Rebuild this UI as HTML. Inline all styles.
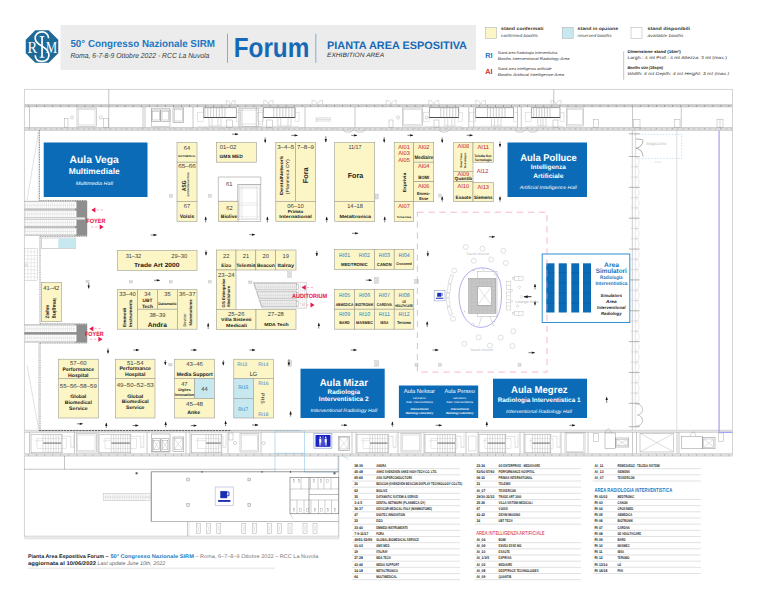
<!DOCTYPE html>
<html><head><meta charset="utf-8"><title>Pianta Area Espositiva Forum</title>
<style>
html,body{margin:0;padding:0;background:#fff;}
body{width:760px;height:600px;overflow:hidden;font-family:"Liberation Sans",sans-serif;}
svg{display:block;}
svg text{font-family:"Liberation Sans",sans-serif;text-rendering:geometricPrecision;}
</style></head><body>
<svg width="760" height="600" viewBox="0 0 760 600">
<rect x="0.00" y="0.00" width="760.00" height="600.00" fill="#fff" stroke="none" stroke-width="0.5" />
<rect x="60.50" y="25.00" width="415.50" height="45.00" fill="#ececec" stroke="none" stroke-width="0.5" />
<polygon points="58.26,53.34 48.74,62.86 35.26,62.86 25.74,53.34 25.74,39.86 35.26,30.34 48.74,30.34 58.26,39.86" fill="#1e6996"/>
<path d="M 48.6 38.2 C 48.6 34.2 45.4 31.9 42 31.9 C 37.6 31.9 34.9 35 35.2 38.6 C 35.6 43.4 40.6 45 44.2 47.6 C 47.6 50 49.4 52.8 48.8 56.2 C 48.2 59.6 45.2 61.4 42 61.4 C 38.2 61.4 35.4 59.2 35.2 55.2" fill="none" stroke="#fff" stroke-width="1.7" />
<rect x="41.20" y="36.50" width="1.70" height="20.80" fill="#fff" stroke="none" stroke-width="0.5" />
<rect x="39.60" y="36.20" width="4.90" height="0.90" fill="#fff" stroke="none" stroke-width="0.5" />
<rect x="39.60" y="56.80" width="4.90" height="0.90" fill="#fff" stroke="none" stroke-width="0.5" />
<text x="32.3" y="53" font-size="17" fill="#fff" text-anchor="middle" style="font-family:'Liberation Serif',serif" textLength="9.6" lengthAdjust="spacingAndGlyphs">R</text>
<text x="51.4" y="53" font-size="17" fill="#fff" text-anchor="middle" style="font-family:'Liberation Serif',serif" textLength="11.4" lengthAdjust="spacingAndGlyphs">M</text>
<text x="70.40" y="47.40" font-size="10.2" fill="#1f77c1" text-anchor="start" font-weight="bold" textLength="144.50" lengthAdjust="spacingAndGlyphs" >50° Congresso Nazionale SIRM</text>
<text x="70.40" y="58.00" font-size="7.3" fill="#3a3a3a" text-anchor="start" font-style="italic" textLength="139.00" lengthAdjust="spacingAndGlyphs" >Roma, 6-7-8-9 Ottobre 2022 - RCC La Nuvola</text>
<line x1="227.50" y1="33.70" x2="227.50" y2="62.80" stroke="#4a94d0" stroke-width="0.7" />
<text x="233.70" y="57.00" font-size="27.6" fill="#1569b6" text-anchor="start" font-weight="bold" textLength="75.60" lengthAdjust="spacingAndGlyphs" >Forum</text>
<line x1="315.80" y1="33.70" x2="315.80" y2="62.80" stroke="#4a94d0" stroke-width="0.7" />
<text x="327.00" y="49.00" font-size="10.8" fill="#1569b6" text-anchor="start" font-weight="bold" textLength="140.00" lengthAdjust="spacingAndGlyphs" >PIANTA AREA ESPOSITIVA</text>
<text x="327.00" y="57.10" font-size="6.3" fill="#333" text-anchor="start" font-style="italic" textLength="57.20" lengthAdjust="spacingAndGlyphs" >EXHIBITION AREA</text>
<rect x="485.50" y="27.40" width="11.10" height="11.00" fill="#fcf5c6" stroke="#aaa" stroke-width="0.5" />
<text x="501.00" y="30.20" font-size="4.5" fill="#333" text-anchor="start" font-weight="bold" textLength="42.40" lengthAdjust="spacingAndGlyphs" >stand confermati</text>
<text x="501.00" y="37.20" font-size="4.3" fill="#444" text-anchor="start" font-style="italic" textLength="37.00" lengthAdjust="spacingAndGlyphs" >confirmed booths</text>
<rect x="562.20" y="27.40" width="11.00" height="11.00" fill="#c7e8ee" stroke="#aaa" stroke-width="0.5" />
<text x="577.60" y="30.20" font-size="4.5" fill="#333" text-anchor="start" font-weight="bold" textLength="40.50" lengthAdjust="spacingAndGlyphs" >stand in opzione</text>
<text x="577.60" y="37.20" font-size="4.3" fill="#444" text-anchor="start" font-style="italic" textLength="34.00" lengthAdjust="spacingAndGlyphs" >reserved booths</text>
<rect x="631.00" y="27.40" width="11.00" height="11.00" fill="#fff" stroke="#aaa" stroke-width="0.5" />
<text x="647.60" y="30.20" font-size="4.5" fill="#333" text-anchor="start" font-weight="bold" textLength="42.40" lengthAdjust="spacingAndGlyphs" >stand  disponibili</text>
<text x="647.60" y="37.20" font-size="4.3" fill="#444" text-anchor="start" font-style="italic" textLength="36.00" lengthAdjust="spacingAndGlyphs" >available booths</text>
<text x="485.30" y="58.30" font-size="7.4" fill="#1b6fbf" text-anchor="start" font-weight="bold" textLength="7.20" lengthAdjust="spacingAndGlyphs" >RI</text>
<text x="497.70" y="54.40" font-size="3.7" fill="#333" text-anchor="start" textLength="59.70" lengthAdjust="spacingAndGlyphs" >Stand area Radiologia Interventistica</text>
<text x="497.70" y="59.90" font-size="3.9" fill="#333" text-anchor="start" font-style="italic" textLength="71.80" lengthAdjust="spacingAndGlyphs" >Booths Interventional Radiology Area</text>
<text x="485.30" y="74.20" font-size="7.4" fill="#cc1f36" text-anchor="start" font-weight="bold" textLength="7.20" lengthAdjust="spacingAndGlyphs" >AI</text>
<text x="497.70" y="69.80" font-size="3.7" fill="#333" text-anchor="start" textLength="54.00" lengthAdjust="spacingAndGlyphs" >Stand area Intelligenza artificiale</text>
<text x="497.70" y="76.10" font-size="3.9" fill="#333" text-anchor="start" font-style="italic" textLength="66.30" lengthAdjust="spacingAndGlyphs" >Booths Artificial Intelligence Area</text>
<line x1="623.70" y1="51.30" x2="623.70" y2="79.70" stroke="#888" stroke-width="0.5" />
<text x="627.40" y="53.30" font-size="4.2" fill="#222" text-anchor="start" font-weight="bold" textLength="53.40" lengthAdjust="spacingAndGlyphs" >Dimensione stand (16m²)</text>
<text x="627.40" y="59.40" font-size="4.2" fill="#333" text-anchor="start" textLength="99.50" lengthAdjust="spacingAndGlyphs" >Largh.: 4 mt  Prof.: 4 mt  Altezza: 3 mt (max.)</text>
<text x="627.40" y="68.60" font-size="4.2" fill="#222" text-anchor="start" font-weight="bold" font-style="italic" textLength="35.70" lengthAdjust="spacingAndGlyphs" >Booths size (16sqm)</text>
<text x="627.40" y="75.20" font-size="4.2" fill="#333" text-anchor="start" font-style="italic" textLength="102.00" lengthAdjust="spacingAndGlyphs" >Width: 4 mt   Depth: 4 mt   Height: 3 mt (max.)</text>
<line x1="24.25" y1="89.45" x2="732.50" y2="89.45" stroke="#c9c9c9" stroke-width="0.8" />
<line x1="24.45" y1="89.25" x2="24.45" y2="537.50" stroke="#c9c9c9" stroke-width="0.8" />
<line x1="732.50" y1="89.25" x2="732.50" y2="455.75" stroke="#c9c9c9" stroke-width="0.8" />
<line x1="108.75" y1="89.25" x2="108.75" y2="105.00" stroke="#8a8a8a" stroke-width="0.5" />
<line x1="553.75" y1="89.25" x2="553.75" y2="105.00" stroke="#8a8a8a" stroke-width="0.5" />
<rect x="24.25" y="104.50" width="708.25" height="2.50" fill="#cfcfcf" stroke="none" stroke-width="0.5" />
<line x1="24.25" y1="104.50" x2="732.50" y2="104.50" stroke="#b0b0b0" stroke-width="0.4" />
<line x1="24.25" y1="107.00" x2="732.50" y2="107.00" stroke="#b0b0b0" stroke-width="0.4" />
<rect x="28.10" y="105.00" width="0.90" height="1.70" fill="#8f8f8f" stroke="none" stroke-width="0.5" />
<rect x="36.15" y="105.00" width="0.90" height="1.70" fill="#8f8f8f" stroke="none" stroke-width="0.5" />
<rect x="44.20" y="105.00" width="0.90" height="1.70" fill="#8f8f8f" stroke="none" stroke-width="0.5" />
<rect x="52.25" y="105.00" width="0.90" height="1.70" fill="#8f8f8f" stroke="none" stroke-width="0.5" />
<rect x="60.30" y="105.00" width="0.90" height="1.70" fill="#8f8f8f" stroke="none" stroke-width="0.5" />
<rect x="68.35" y="105.00" width="0.90" height="1.70" fill="#8f8f8f" stroke="none" stroke-width="0.5" />
<rect x="76.40" y="105.00" width="0.90" height="1.70" fill="#8f8f8f" stroke="none" stroke-width="0.5" />
<rect x="84.45" y="105.00" width="0.90" height="1.70" fill="#8f8f8f" stroke="none" stroke-width="0.5" />
<rect x="92.50" y="105.00" width="0.90" height="1.70" fill="#8f8f8f" stroke="none" stroke-width="0.5" />
<rect x="100.55" y="105.00" width="0.90" height="1.70" fill="#8f8f8f" stroke="none" stroke-width="0.5" />
<rect x="108.60" y="105.00" width="0.90" height="1.70" fill="#8f8f8f" stroke="none" stroke-width="0.5" />
<rect x="116.65" y="105.00" width="0.90" height="1.70" fill="#8f8f8f" stroke="none" stroke-width="0.5" />
<rect x="124.70" y="105.00" width="0.90" height="1.70" fill="#8f8f8f" stroke="none" stroke-width="0.5" />
<rect x="132.75" y="105.00" width="0.90" height="1.70" fill="#8f8f8f" stroke="none" stroke-width="0.5" />
<rect x="140.80" y="105.00" width="0.90" height="1.70" fill="#8f8f8f" stroke="none" stroke-width="0.5" />
<rect x="148.85" y="105.00" width="0.90" height="1.70" fill="#8f8f8f" stroke="none" stroke-width="0.5" />
<rect x="156.90" y="105.00" width="0.90" height="1.70" fill="#8f8f8f" stroke="none" stroke-width="0.5" />
<rect x="164.95" y="105.00" width="0.90" height="1.70" fill="#8f8f8f" stroke="none" stroke-width="0.5" />
<rect x="173.00" y="105.00" width="0.90" height="1.70" fill="#8f8f8f" stroke="none" stroke-width="0.5" />
<rect x="181.05" y="105.00" width="0.90" height="1.70" fill="#8f8f8f" stroke="none" stroke-width="0.5" />
<rect x="189.10" y="105.00" width="0.90" height="1.70" fill="#8f8f8f" stroke="none" stroke-width="0.5" />
<rect x="197.15" y="105.00" width="0.90" height="1.70" fill="#8f8f8f" stroke="none" stroke-width="0.5" />
<rect x="205.20" y="105.00" width="0.90" height="1.70" fill="#8f8f8f" stroke="none" stroke-width="0.5" />
<rect x="213.25" y="105.00" width="0.90" height="1.70" fill="#8f8f8f" stroke="none" stroke-width="0.5" />
<rect x="221.30" y="105.00" width="0.90" height="1.70" fill="#8f8f8f" stroke="none" stroke-width="0.5" />
<rect x="229.35" y="105.00" width="0.90" height="1.70" fill="#8f8f8f" stroke="none" stroke-width="0.5" />
<rect x="237.40" y="105.00" width="0.90" height="1.70" fill="#8f8f8f" stroke="none" stroke-width="0.5" />
<rect x="245.45" y="105.00" width="0.90" height="1.70" fill="#8f8f8f" stroke="none" stroke-width="0.5" />
<rect x="253.50" y="105.00" width="0.90" height="1.70" fill="#8f8f8f" stroke="none" stroke-width="0.5" />
<rect x="261.55" y="105.00" width="0.90" height="1.70" fill="#8f8f8f" stroke="none" stroke-width="0.5" />
<rect x="269.60" y="105.00" width="0.90" height="1.70" fill="#8f8f8f" stroke="none" stroke-width="0.5" />
<rect x="277.65" y="105.00" width="0.90" height="1.70" fill="#8f8f8f" stroke="none" stroke-width="0.5" />
<rect x="285.70" y="105.00" width="0.90" height="1.70" fill="#8f8f8f" stroke="none" stroke-width="0.5" />
<rect x="293.75" y="105.00" width="0.90" height="1.70" fill="#8f8f8f" stroke="none" stroke-width="0.5" />
<rect x="301.80" y="105.00" width="0.90" height="1.70" fill="#8f8f8f" stroke="none" stroke-width="0.5" />
<rect x="309.85" y="105.00" width="0.90" height="1.70" fill="#8f8f8f" stroke="none" stroke-width="0.5" />
<rect x="317.90" y="105.00" width="0.90" height="1.70" fill="#8f8f8f" stroke="none" stroke-width="0.5" />
<rect x="325.95" y="105.00" width="0.90" height="1.70" fill="#8f8f8f" stroke="none" stroke-width="0.5" />
<rect x="334.00" y="105.00" width="0.90" height="1.70" fill="#8f8f8f" stroke="none" stroke-width="0.5" />
<rect x="342.05" y="105.00" width="0.90" height="1.70" fill="#8f8f8f" stroke="none" stroke-width="0.5" />
<rect x="350.10" y="105.00" width="0.90" height="1.70" fill="#8f8f8f" stroke="none" stroke-width="0.5" />
<rect x="358.15" y="105.00" width="0.90" height="1.70" fill="#8f8f8f" stroke="none" stroke-width="0.5" />
<rect x="366.20" y="105.00" width="0.90" height="1.70" fill="#8f8f8f" stroke="none" stroke-width="0.5" />
<rect x="374.25" y="105.00" width="0.90" height="1.70" fill="#8f8f8f" stroke="none" stroke-width="0.5" />
<rect x="382.30" y="105.00" width="0.90" height="1.70" fill="#8f8f8f" stroke="none" stroke-width="0.5" />
<rect x="390.35" y="105.00" width="0.90" height="1.70" fill="#8f8f8f" stroke="none" stroke-width="0.5" />
<rect x="398.40" y="105.00" width="0.90" height="1.70" fill="#8f8f8f" stroke="none" stroke-width="0.5" />
<rect x="406.45" y="105.00" width="0.90" height="1.70" fill="#8f8f8f" stroke="none" stroke-width="0.5" />
<rect x="414.50" y="105.00" width="0.90" height="1.70" fill="#8f8f8f" stroke="none" stroke-width="0.5" />
<rect x="422.55" y="105.00" width="0.90" height="1.70" fill="#8f8f8f" stroke="none" stroke-width="0.5" />
<rect x="430.60" y="105.00" width="0.90" height="1.70" fill="#8f8f8f" stroke="none" stroke-width="0.5" />
<rect x="438.65" y="105.00" width="0.90" height="1.70" fill="#8f8f8f" stroke="none" stroke-width="0.5" />
<rect x="446.70" y="105.00" width="0.90" height="1.70" fill="#8f8f8f" stroke="none" stroke-width="0.5" />
<rect x="454.75" y="105.00" width="0.90" height="1.70" fill="#8f8f8f" stroke="none" stroke-width="0.5" />
<rect x="462.80" y="105.00" width="0.90" height="1.70" fill="#8f8f8f" stroke="none" stroke-width="0.5" />
<rect x="470.85" y="105.00" width="0.90" height="1.70" fill="#8f8f8f" stroke="none" stroke-width="0.5" />
<rect x="478.90" y="105.00" width="0.90" height="1.70" fill="#8f8f8f" stroke="none" stroke-width="0.5" />
<rect x="486.95" y="105.00" width="0.90" height="1.70" fill="#8f8f8f" stroke="none" stroke-width="0.5" />
<rect x="495.00" y="105.00" width="0.90" height="1.70" fill="#8f8f8f" stroke="none" stroke-width="0.5" />
<rect x="503.05" y="105.00" width="0.90" height="1.70" fill="#8f8f8f" stroke="none" stroke-width="0.5" />
<rect x="511.10" y="105.00" width="0.90" height="1.70" fill="#8f8f8f" stroke="none" stroke-width="0.5" />
<rect x="519.15" y="105.00" width="0.90" height="1.70" fill="#8f8f8f" stroke="none" stroke-width="0.5" />
<rect x="527.20" y="105.00" width="0.90" height="1.70" fill="#8f8f8f" stroke="none" stroke-width="0.5" />
<rect x="535.25" y="105.00" width="0.90" height="1.70" fill="#8f8f8f" stroke="none" stroke-width="0.5" />
<rect x="543.30" y="105.00" width="0.90" height="1.70" fill="#8f8f8f" stroke="none" stroke-width="0.5" />
<rect x="551.35" y="105.00" width="0.90" height="1.70" fill="#8f8f8f" stroke="none" stroke-width="0.5" />
<rect x="559.40" y="105.00" width="0.90" height="1.70" fill="#8f8f8f" stroke="none" stroke-width="0.5" />
<rect x="567.45" y="105.00" width="0.90" height="1.70" fill="#8f8f8f" stroke="none" stroke-width="0.5" />
<rect x="575.50" y="105.00" width="0.90" height="1.70" fill="#8f8f8f" stroke="none" stroke-width="0.5" />
<rect x="583.55" y="105.00" width="0.90" height="1.70" fill="#8f8f8f" stroke="none" stroke-width="0.5" />
<rect x="591.60" y="105.00" width="0.90" height="1.70" fill="#8f8f8f" stroke="none" stroke-width="0.5" />
<rect x="599.65" y="105.00" width="0.90" height="1.70" fill="#8f8f8f" stroke="none" stroke-width="0.5" />
<rect x="607.70" y="105.00" width="0.90" height="1.70" fill="#8f8f8f" stroke="none" stroke-width="0.5" />
<rect x="615.75" y="105.00" width="0.90" height="1.70" fill="#8f8f8f" stroke="none" stroke-width="0.5" />
<rect x="623.80" y="105.00" width="0.90" height="1.70" fill="#8f8f8f" stroke="none" stroke-width="0.5" />
<rect x="631.85" y="105.00" width="0.90" height="1.70" fill="#8f8f8f" stroke="none" stroke-width="0.5" />
<rect x="639.90" y="105.00" width="0.90" height="1.70" fill="#8f8f8f" stroke="none" stroke-width="0.5" />
<rect x="647.95" y="105.00" width="0.90" height="1.70" fill="#8f8f8f" stroke="none" stroke-width="0.5" />
<rect x="656.00" y="105.00" width="0.90" height="1.70" fill="#8f8f8f" stroke="none" stroke-width="0.5" />
<rect x="664.05" y="105.00" width="0.90" height="1.70" fill="#8f8f8f" stroke="none" stroke-width="0.5" />
<rect x="672.10" y="105.00" width="0.90" height="1.70" fill="#8f8f8f" stroke="none" stroke-width="0.5" />
<rect x="680.15" y="105.00" width="0.90" height="1.70" fill="#8f8f8f" stroke="none" stroke-width="0.5" />
<rect x="688.20" y="105.00" width="0.90" height="1.70" fill="#8f8f8f" stroke="none" stroke-width="0.5" />
<rect x="696.25" y="105.00" width="0.90" height="1.70" fill="#8f8f8f" stroke="none" stroke-width="0.5" />
<rect x="704.30" y="105.00" width="0.90" height="1.70" fill="#8f8f8f" stroke="none" stroke-width="0.5" />
<rect x="712.35" y="105.00" width="0.90" height="1.70" fill="#8f8f8f" stroke="none" stroke-width="0.5" />
<rect x="720.40" y="105.00" width="0.90" height="1.70" fill="#8f8f8f" stroke="none" stroke-width="0.5" />
<rect x="728.45" y="105.00" width="0.90" height="1.70" fill="#8f8f8f" stroke="none" stroke-width="0.5" />
<rect x="24.25" y="127.50" width="708.25" height="2.90" fill="#cbcbcb" stroke="none" stroke-width="0.5" />
<line x1="24.25" y1="127.50" x2="732.50" y2="127.50" stroke="#b0b0b0" stroke-width="0.4" />
<line x1="24.25" y1="130.40" x2="732.50" y2="130.40" stroke="#b0b0b0" stroke-width="0.4" />
<line x1="25.25" y1="129.05" x2="731.50" y2="129.05" stroke="#fff" stroke-width="0.7" stroke-dasharray="3.6 1.8"/>
<rect x="28.15" y="127.80" width="0.80" height="0.70" fill="#8e8e8e" stroke="none" stroke-width="0.5" />
<rect x="44.25" y="127.80" width="0.80" height="0.70" fill="#8e8e8e" stroke="none" stroke-width="0.5" />
<rect x="60.35" y="127.80" width="0.80" height="0.70" fill="#8e8e8e" stroke="none" stroke-width="0.5" />
<rect x="76.45" y="127.80" width="0.80" height="0.70" fill="#8e8e8e" stroke="none" stroke-width="0.5" />
<rect x="92.55" y="127.80" width="0.80" height="0.70" fill="#8e8e8e" stroke="none" stroke-width="0.5" />
<rect x="108.65" y="127.80" width="0.80" height="0.70" fill="#8e8e8e" stroke="none" stroke-width="0.5" />
<rect x="124.75" y="127.80" width="0.80" height="0.70" fill="#8e8e8e" stroke="none" stroke-width="0.5" />
<rect x="140.85" y="127.80" width="0.80" height="0.70" fill="#8e8e8e" stroke="none" stroke-width="0.5" />
<rect x="156.95" y="127.80" width="0.80" height="0.70" fill="#8e8e8e" stroke="none" stroke-width="0.5" />
<rect x="173.05" y="127.80" width="0.80" height="0.70" fill="#8e8e8e" stroke="none" stroke-width="0.5" />
<rect x="189.15" y="127.80" width="0.80" height="0.70" fill="#8e8e8e" stroke="none" stroke-width="0.5" />
<rect x="205.25" y="127.80" width="0.80" height="0.70" fill="#8e8e8e" stroke="none" stroke-width="0.5" />
<rect x="221.35" y="127.80" width="0.80" height="0.70" fill="#8e8e8e" stroke="none" stroke-width="0.5" />
<rect x="237.45" y="127.80" width="0.80" height="0.70" fill="#8e8e8e" stroke="none" stroke-width="0.5" />
<rect x="253.55" y="127.80" width="0.80" height="0.70" fill="#8e8e8e" stroke="none" stroke-width="0.5" />
<rect x="269.65" y="127.80" width="0.80" height="0.70" fill="#8e8e8e" stroke="none" stroke-width="0.5" />
<rect x="285.75" y="127.80" width="0.80" height="0.70" fill="#8e8e8e" stroke="none" stroke-width="0.5" />
<rect x="301.85" y="127.80" width="0.80" height="0.70" fill="#8e8e8e" stroke="none" stroke-width="0.5" />
<rect x="317.95" y="127.80" width="0.80" height="0.70" fill="#8e8e8e" stroke="none" stroke-width="0.5" />
<rect x="334.05" y="127.80" width="0.80" height="0.70" fill="#8e8e8e" stroke="none" stroke-width="0.5" />
<rect x="350.15" y="127.80" width="0.80" height="0.70" fill="#8e8e8e" stroke="none" stroke-width="0.5" />
<rect x="366.25" y="127.80" width="0.80" height="0.70" fill="#8e8e8e" stroke="none" stroke-width="0.5" />
<rect x="382.35" y="127.80" width="0.80" height="0.70" fill="#8e8e8e" stroke="none" stroke-width="0.5" />
<rect x="398.45" y="127.80" width="0.80" height="0.70" fill="#8e8e8e" stroke="none" stroke-width="0.5" />
<rect x="414.55" y="127.80" width="0.80" height="0.70" fill="#8e8e8e" stroke="none" stroke-width="0.5" />
<rect x="430.65" y="127.80" width="0.80" height="0.70" fill="#8e8e8e" stroke="none" stroke-width="0.5" />
<rect x="446.75" y="127.80" width="0.80" height="0.70" fill="#8e8e8e" stroke="none" stroke-width="0.5" />
<rect x="462.85" y="127.80" width="0.80" height="0.70" fill="#8e8e8e" stroke="none" stroke-width="0.5" />
<rect x="478.95" y="127.80" width="0.80" height="0.70" fill="#8e8e8e" stroke="none" stroke-width="0.5" />
<rect x="495.05" y="127.80" width="0.80" height="0.70" fill="#8e8e8e" stroke="none" stroke-width="0.5" />
<rect x="511.15" y="127.80" width="0.80" height="0.70" fill="#8e8e8e" stroke="none" stroke-width="0.5" />
<rect x="527.25" y="127.80" width="0.80" height="0.70" fill="#8e8e8e" stroke="none" stroke-width="0.5" />
<rect x="543.35" y="127.80" width="0.80" height="0.70" fill="#8e8e8e" stroke="none" stroke-width="0.5" />
<rect x="559.45" y="127.80" width="0.80" height="0.70" fill="#8e8e8e" stroke="none" stroke-width="0.5" />
<rect x="575.55" y="127.80" width="0.80" height="0.70" fill="#8e8e8e" stroke="none" stroke-width="0.5" />
<rect x="591.65" y="127.80" width="0.80" height="0.70" fill="#8e8e8e" stroke="none" stroke-width="0.5" />
<rect x="607.75" y="127.80" width="0.80" height="0.70" fill="#8e8e8e" stroke="none" stroke-width="0.5" />
<rect x="623.85" y="127.80" width="0.80" height="0.70" fill="#8e8e8e" stroke="none" stroke-width="0.5" />
<rect x="639.95" y="127.80" width="0.80" height="0.70" fill="#8e8e8e" stroke="none" stroke-width="0.5" />
<rect x="656.05" y="127.80" width="0.80" height="0.70" fill="#8e8e8e" stroke="none" stroke-width="0.5" />
<rect x="672.15" y="127.80" width="0.80" height="0.70" fill="#8e8e8e" stroke="none" stroke-width="0.5" />
<rect x="688.25" y="127.80" width="0.80" height="0.70" fill="#8e8e8e" stroke="none" stroke-width="0.5" />
<rect x="704.35" y="127.80" width="0.80" height="0.70" fill="#8e8e8e" stroke="none" stroke-width="0.5" />
<rect x="720.45" y="127.80" width="0.80" height="0.70" fill="#8e8e8e" stroke="none" stroke-width="0.5" />
<line x1="29.50" y1="107.00" x2="29.50" y2="127.50" stroke="#888" stroke-width="0.45" />
<line x1="108.75" y1="107.00" x2="108.75" y2="127.50" stroke="#888" stroke-width="0.45" />
<line x1="143.00" y1="107.00" x2="143.00" y2="127.50" stroke="#888" stroke-width="0.45" />
<line x1="145.00" y1="107.00" x2="145.00" y2="127.50" stroke="#888" stroke-width="0.45" />
<line x1="193.00" y1="107.00" x2="193.00" y2="127.50" stroke="#888" stroke-width="0.45" />
<line x1="240.00" y1="107.00" x2="240.00" y2="127.50" stroke="#888" stroke-width="0.45" />
<line x1="256.25" y1="107.00" x2="256.25" y2="127.50" stroke="#888" stroke-width="0.45" />
<line x1="305.00" y1="107.00" x2="305.00" y2="127.50" stroke="#888" stroke-width="0.45" />
<line x1="355.00" y1="107.00" x2="355.00" y2="127.50" stroke="#888" stroke-width="0.45" />
<line x1="468.75" y1="107.00" x2="468.75" y2="127.50" stroke="#888" stroke-width="0.45" />
<line x1="473.75" y1="107.00" x2="473.75" y2="127.50" stroke="#888" stroke-width="0.45" />
<line x1="517.50" y1="107.00" x2="517.50" y2="127.50" stroke="#888" stroke-width="0.45" />
<line x1="521.25" y1="107.00" x2="521.25" y2="127.50" stroke="#888" stroke-width="0.45" />
<line x1="632.50" y1="107.00" x2="632.50" y2="127.50" stroke="#888" stroke-width="0.45" />
<line x1="681.25" y1="107.00" x2="681.25" y2="127.50" stroke="#888" stroke-width="0.45" />
<rect x="77.00" y="108.00" width="19.25" height="18.25" fill="none" stroke="#999" stroke-width="0.45" />
<rect x="78.20" y="109.20" width="16.80" height="15.80" fill="none" stroke="#b5b5b5" stroke-width="0.4" />
<circle cx="72.00" cy="117.50" r="1.5" fill="none" stroke="#999" stroke-width="0.4"/>
<circle cx="100.75" cy="117.50" r="1.5" fill="none" stroke="#999" stroke-width="0.4"/>
<rect x="64.50" y="118.75" width="3.50" height="8.75" fill="none" stroke="#999" stroke-width="0.4" />
<rect x="103.75" y="118.75" width="5.00" height="8.75" fill="none" stroke="#999" stroke-width="0.4" />
<rect x="151.25" y="110.00" width="9.15" height="11.50" fill="none" stroke="#888" stroke-width="0.5" />
<rect x="152.45" y="111.50" width="6.75" height="8.50" fill="none" stroke="#999" stroke-width="0.4" />
<rect x="160.80" y="110.00" width="9.20" height="11.50" fill="none" stroke="#888" stroke-width="0.5" />
<rect x="162.00" y="111.50" width="6.80" height="8.50" fill="none" stroke="#999" stroke-width="0.4" />
<rect x="151.25" y="108.75" width="18.75" height="17.50" fill="none" stroke="#999" stroke-width="0.45" />
<rect x="173.00" y="108.00" width="10.75" height="14.50" fill="none" stroke="#888" stroke-width="0.5" />
<rect x="174.20" y="109.50" width="8.35" height="11.50" fill="none" stroke="#999" stroke-width="0.4" />
<line x1="205.00" y1="107.80" x2="205.00" y2="117.50" stroke="#8c8c8c" stroke-width="0.45" />
<line x1="207.86" y1="107.80" x2="207.86" y2="117.50" stroke="#8c8c8c" stroke-width="0.45" />
<line x1="210.71" y1="107.80" x2="210.71" y2="117.50" stroke="#8c8c8c" stroke-width="0.45" />
<line x1="213.57" y1="107.80" x2="213.57" y2="117.50" stroke="#8c8c8c" stroke-width="0.45" />
<line x1="216.43" y1="107.80" x2="216.43" y2="117.50" stroke="#8c8c8c" stroke-width="0.45" />
<line x1="219.29" y1="107.80" x2="219.29" y2="117.50" stroke="#8c8c8c" stroke-width="0.45" />
<line x1="222.14" y1="107.80" x2="222.14" y2="117.50" stroke="#8c8c8c" stroke-width="0.45" />
<line x1="225.00" y1="107.80" x2="225.00" y2="117.50" stroke="#8c8c8c" stroke-width="0.45" />
<rect x="203.75" y="107.80" width="32.50" height="9.70" fill="none" stroke="#6a6a6a" stroke-width="0.55" />
<line x1="203.45" y1="117.50" x2="236.55" y2="117.50" stroke="#3f3f3f" stroke-width="0.9" />
<line x1="209.00" y1="117.50" x2="209.00" y2="126.00" stroke="#a0a0a0" stroke-width="0.4" />
<line x1="212.00" y1="117.50" x2="212.00" y2="126.00" stroke="#a0a0a0" stroke-width="0.4" />
<line x1="218.00" y1="117.50" x2="218.00" y2="126.00" stroke="#a0a0a0" stroke-width="0.4" />
<line x1="221.00" y1="117.50" x2="221.00" y2="126.00" stroke="#a0a0a0" stroke-width="0.4" />
<line x1="209.00" y1="126.00" x2="221.00" y2="126.00" stroke="#b0b0b0" stroke-width="0.4" />
<rect x="197.75" y="112.40" width="6.00" height="8.80" fill="none" stroke="#c2c2c2" stroke-width="0.4" />
<rect x="236.25" y="112.40" width="4.00" height="8.80" fill="none" stroke="#c2c2c2" stroke-width="0.4" />
<line x1="197.75" y1="126.40" x2="240.25" y2="126.40" stroke="#c2c2c2" stroke-width="0.4" />
<line x1="273.75" y1="107.80" x2="273.75" y2="117.50" stroke="#8c8c8c" stroke-width="0.45" />
<line x1="276.79" y1="107.80" x2="276.79" y2="117.50" stroke="#8c8c8c" stroke-width="0.45" />
<line x1="279.82" y1="107.80" x2="279.82" y2="117.50" stroke="#8c8c8c" stroke-width="0.45" />
<line x1="282.86" y1="107.80" x2="282.86" y2="117.50" stroke="#8c8c8c" stroke-width="0.45" />
<line x1="285.89" y1="107.80" x2="285.89" y2="117.50" stroke="#8c8c8c" stroke-width="0.45" />
<line x1="288.93" y1="107.80" x2="288.93" y2="117.50" stroke="#8c8c8c" stroke-width="0.45" />
<line x1="291.96" y1="107.80" x2="291.96" y2="117.50" stroke="#8c8c8c" stroke-width="0.45" />
<line x1="295.00" y1="107.80" x2="295.00" y2="117.50" stroke="#8c8c8c" stroke-width="0.45" />
<rect x="263.25" y="107.80" width="31.75" height="9.70" fill="none" stroke="#6a6a6a" stroke-width="0.55" />
<line x1="262.95" y1="117.50" x2="295.30" y2="117.50" stroke="#3f3f3f" stroke-width="0.9" />
<line x1="277.75" y1="117.50" x2="277.75" y2="126.00" stroke="#a0a0a0" stroke-width="0.4" />
<line x1="280.75" y1="117.50" x2="280.75" y2="126.00" stroke="#a0a0a0" stroke-width="0.4" />
<line x1="288.00" y1="117.50" x2="288.00" y2="126.00" stroke="#a0a0a0" stroke-width="0.4" />
<line x1="291.00" y1="117.50" x2="291.00" y2="126.00" stroke="#a0a0a0" stroke-width="0.4" />
<line x1="277.75" y1="126.00" x2="291.00" y2="126.00" stroke="#b0b0b0" stroke-width="0.4" />
<rect x="257.25" y="112.40" width="6.00" height="8.80" fill="none" stroke="#c2c2c2" stroke-width="0.4" />
<rect x="295.00" y="112.40" width="4.00" height="8.80" fill="none" stroke="#c2c2c2" stroke-width="0.4" />
<line x1="257.25" y1="126.40" x2="299.00" y2="126.40" stroke="#c2c2c2" stroke-width="0.4" />
<rect x="226.25" y="120.00" width="6.25" height="7.50" fill="none" stroke="#999" stroke-width="0.4" />
<rect x="266.25" y="120.00" width="6.25" height="7.50" fill="none" stroke="#999" stroke-width="0.4" />
<rect x="238.40" y="108.10" width="23.90" height="18.10" fill="none" stroke="#b0b0b0" stroke-width="0.4" />
<rect x="242.00" y="108.10" width="16.70" height="18.10" fill="none" stroke="#a0a0a0" stroke-width="0.45" />
<line x1="238.40" y1="110.30" x2="262.30" y2="110.30" stroke="#b8b8b8" stroke-width="0.4" />
<line x1="238.40" y1="124.00" x2="262.30" y2="124.00" stroke="#b8b8b8" stroke-width="0.4" />
<path d="M 226.25 104.50 V 100.30 Q 230.12 100.50 230.22 104.50 M 235.00 104.50 V 100.30 Q 231.12 100.50 231.03 104.50" fill="none" stroke="#aaa" stroke-width="0.4" />
<path d="M 263.75 104.50 V 100.30 Q 267.88 100.50 267.98 104.50 M 273.00 104.50 V 100.30 Q 268.88 100.50 268.77 104.50" fill="none" stroke="#aaa" stroke-width="0.4" />
<path d="M 312.00 104.50 V 100.30 Q 316.75 100.50 316.85 104.50 M 322.50 104.50 V 100.30 Q 317.75 100.50 317.65 104.50" fill="none" stroke="#aaa" stroke-width="0.4" />
<path d="M 386.25 104.50 V 100.30 Q 390.75 100.50 390.85 104.50 M 396.25 104.50 V 100.30 Q 391.75 100.50 391.65 104.50" fill="none" stroke="#aaa" stroke-width="0.4" />
<path d="M 428.75 104.50 V 100.30 Q 433.25 100.50 433.35 104.50 M 438.75 104.50 V 100.30 Q 434.25 100.50 434.15 104.50" fill="none" stroke="#aaa" stroke-width="0.4" />
<path d="M 475.75 104.50 V 100.30 Q 480.12 100.50 480.23 104.50 M 485.50 104.50 V 100.30 Q 481.12 100.50 481.02 104.50" fill="none" stroke="#aaa" stroke-width="0.4" />
<path d="M 551.00 104.50 V 100.30 Q 555.50 100.50 555.60 104.50 M 561.00 104.50 V 100.30 Q 556.50 100.50 556.40 104.50" fill="none" stroke="#aaa" stroke-width="0.4" />
<line x1="316.25" y1="117.80" x2="331.25" y2="117.80" stroke="#aaa" stroke-width="0.4" />
<line x1="316.25" y1="119.40" x2="331.25" y2="119.40" stroke="#aaa" stroke-width="0.4" />
<line x1="316.25" y1="121.00" x2="331.25" y2="121.00" stroke="#aaa" stroke-width="0.4" />
<line x1="316.25" y1="117.80" x2="316.25" y2="122.00" stroke="#aaa" stroke-width="0.4" />
<rect x="402.50" y="108.00" width="20.00" height="18.00" fill="none" stroke="#999" stroke-width="0.45" />
<rect x="403.70" y="109.20" width="17.60" height="15.60" fill="none" stroke="#b5b5b5" stroke-width="0.4" />
<circle cx="398.00" cy="117.50" r="1.5" fill="none" stroke="#999" stroke-width="0.4"/>
<circle cx="426.75" cy="117.50" r="1.5" fill="none" stroke="#999" stroke-width="0.4"/>
<rect x="389.00" y="120.00" width="4.00" height="7.50" fill="none" stroke="#999" stroke-width="0.4" />
<line x1="440.75" y1="107.80" x2="440.75" y2="117.50" stroke="#8c8c8c" stroke-width="0.45" />
<line x1="443.75" y1="107.80" x2="443.75" y2="117.50" stroke="#8c8c8c" stroke-width="0.45" />
<line x1="446.75" y1="107.80" x2="446.75" y2="117.50" stroke="#8c8c8c" stroke-width="0.45" />
<line x1="449.75" y1="107.80" x2="449.75" y2="117.50" stroke="#8c8c8c" stroke-width="0.45" />
<line x1="452.75" y1="107.80" x2="452.75" y2="117.50" stroke="#8c8c8c" stroke-width="0.45" />
<line x1="455.75" y1="107.80" x2="455.75" y2="117.50" stroke="#8c8c8c" stroke-width="0.45" />
<line x1="458.75" y1="107.80" x2="458.75" y2="117.50" stroke="#8c8c8c" stroke-width="0.45" />
<rect x="429.25" y="107.80" width="29.50" height="9.70" fill="none" stroke="#6a6a6a" stroke-width="0.55" />
<line x1="428.95" y1="117.50" x2="459.05" y2="117.50" stroke="#3f3f3f" stroke-width="0.9" />
<line x1="444.75" y1="117.50" x2="444.75" y2="126.00" stroke="#a0a0a0" stroke-width="0.4" />
<line x1="447.75" y1="117.50" x2="447.75" y2="126.00" stroke="#a0a0a0" stroke-width="0.4" />
<line x1="451.75" y1="117.50" x2="451.75" y2="126.00" stroke="#a0a0a0" stroke-width="0.4" />
<line x1="454.75" y1="117.50" x2="454.75" y2="126.00" stroke="#a0a0a0" stroke-width="0.4" />
<line x1="444.75" y1="126.00" x2="454.75" y2="126.00" stroke="#b0b0b0" stroke-width="0.4" />
<rect x="423.25" y="112.40" width="6.00" height="8.80" fill="none" stroke="#c2c2c2" stroke-width="0.4" />
<rect x="458.75" y="112.40" width="4.00" height="8.80" fill="none" stroke="#c2c2c2" stroke-width="0.4" />
<line x1="423.25" y1="126.40" x2="462.75" y2="126.40" stroke="#c2c2c2" stroke-width="0.4" />
<line x1="487.50" y1="107.80" x2="487.50" y2="117.50" stroke="#8c8c8c" stroke-width="0.45" />
<line x1="490.42" y1="107.80" x2="490.42" y2="117.50" stroke="#8c8c8c" stroke-width="0.45" />
<line x1="493.33" y1="107.80" x2="493.33" y2="117.50" stroke="#8c8c8c" stroke-width="0.45" />
<line x1="496.25" y1="107.80" x2="496.25" y2="117.50" stroke="#8c8c8c" stroke-width="0.45" />
<line x1="499.17" y1="107.80" x2="499.17" y2="117.50" stroke="#8c8c8c" stroke-width="0.45" />
<line x1="502.08" y1="107.80" x2="502.08" y2="117.50" stroke="#8c8c8c" stroke-width="0.45" />
<line x1="505.00" y1="107.80" x2="505.00" y2="117.50" stroke="#8c8c8c" stroke-width="0.45" />
<rect x="475.75" y="107.80" width="38.00" height="9.70" fill="none" stroke="#6a6a6a" stroke-width="0.55" />
<line x1="475.45" y1="117.50" x2="514.05" y2="117.50" stroke="#3f3f3f" stroke-width="0.9" />
<line x1="491.50" y1="117.50" x2="491.50" y2="126.00" stroke="#a0a0a0" stroke-width="0.4" />
<line x1="494.50" y1="117.50" x2="494.50" y2="126.00" stroke="#a0a0a0" stroke-width="0.4" />
<line x1="498.00" y1="117.50" x2="498.00" y2="126.00" stroke="#a0a0a0" stroke-width="0.4" />
<line x1="501.00" y1="117.50" x2="501.00" y2="126.00" stroke="#a0a0a0" stroke-width="0.4" />
<line x1="491.50" y1="126.00" x2="501.00" y2="126.00" stroke="#b0b0b0" stroke-width="0.4" />
<rect x="469.75" y="112.40" width="6.00" height="8.80" fill="none" stroke="#c2c2c2" stroke-width="0.4" />
<rect x="513.75" y="112.40" width="4.00" height="8.80" fill="none" stroke="#c2c2c2" stroke-width="0.4" />
<line x1="469.75" y1="126.40" x2="517.75" y2="126.40" stroke="#c2c2c2" stroke-width="0.4" />
<line x1="533.75" y1="107.80" x2="533.75" y2="117.50" stroke="#8c8c8c" stroke-width="0.45" />
<line x1="536.46" y1="107.80" x2="536.46" y2="117.50" stroke="#8c8c8c" stroke-width="0.45" />
<line x1="539.17" y1="107.80" x2="539.17" y2="117.50" stroke="#8c8c8c" stroke-width="0.45" />
<line x1="541.88" y1="107.80" x2="541.88" y2="117.50" stroke="#8c8c8c" stroke-width="0.45" />
<line x1="544.58" y1="107.80" x2="544.58" y2="117.50" stroke="#8c8c8c" stroke-width="0.45" />
<line x1="547.29" y1="107.80" x2="547.29" y2="117.50" stroke="#8c8c8c" stroke-width="0.45" />
<line x1="550.00" y1="107.80" x2="550.00" y2="117.50" stroke="#8c8c8c" stroke-width="0.45" />
<rect x="531.25" y="107.80" width="28.75" height="9.70" fill="none" stroke="#6a6a6a" stroke-width="0.55" />
<line x1="530.95" y1="117.50" x2="560.30" y2="117.50" stroke="#3f3f3f" stroke-width="0.9" />
<line x1="537.75" y1="117.50" x2="537.75" y2="126.00" stroke="#a0a0a0" stroke-width="0.4" />
<line x1="540.75" y1="117.50" x2="540.75" y2="126.00" stroke="#a0a0a0" stroke-width="0.4" />
<line x1="543.00" y1="117.50" x2="543.00" y2="126.00" stroke="#a0a0a0" stroke-width="0.4" />
<line x1="546.00" y1="117.50" x2="546.00" y2="126.00" stroke="#a0a0a0" stroke-width="0.4" />
<line x1="537.75" y1="126.00" x2="546.00" y2="126.00" stroke="#b0b0b0" stroke-width="0.4" />
<rect x="525.25" y="112.40" width="6.00" height="8.80" fill="none" stroke="#c2c2c2" stroke-width="0.4" />
<rect x="560.00" y="112.40" width="4.00" height="8.80" fill="none" stroke="#c2c2c2" stroke-width="0.4" />
<line x1="525.25" y1="126.40" x2="564.00" y2="126.40" stroke="#c2c2c2" stroke-width="0.4" />
<rect x="434.00" y="120.00" width="5.00" height="7.50" fill="none" stroke="#999" stroke-width="0.4" />
<rect x="553.00" y="120.00" width="5.00" height="7.50" fill="none" stroke="#999" stroke-width="0.4" />
<rect x="566.25" y="108.00" width="17.50" height="18.00" fill="none" stroke="#999" stroke-width="0.45" />
<rect x="567.50" y="109.20" width="15.00" height="15.60" fill="none" stroke="#b5b5b5" stroke-width="0.4" />
<rect x="593.75" y="119.50" width="5.00" height="8.00" fill="none" stroke="#999" stroke-width="0.4" />
<rect x="633.75" y="119.50" width="6.25" height="8.00" fill="none" stroke="#999" stroke-width="0.4" />
<rect x="674.50" y="119.50" width="5.50" height="8.00" fill="none" stroke="#999" stroke-width="0.4" />
<rect x="717.00" y="119.50" width="6.00" height="8.00" fill="none" stroke="#999" stroke-width="0.4" />
<line x1="720.00" y1="119.50" x2="720.00" y2="127.50" stroke="#999" stroke-width="0.4" />
<path d="M 343.00 130 q 1 2.2 5 2.2 q 4 0 5 -2.2" fill="none" stroke="#888" stroke-width="0.4" />
<path d="M 355.00 130 q 1 2.2 5 2.2 q 4 0 5 -2.2" fill="none" stroke="#888" stroke-width="0.4" />
<path d="M 439.00 130 q 1 2.2 5 2.2 q 4 0 5 -2.2" fill="none" stroke="#888" stroke-width="0.4" />
<path d="M 515.00 130 q 1 2.2 5 2.2 q 4 0 5 -2.2" fill="none" stroke="#888" stroke-width="0.4" />
<path d="M 528.00 130 q 1 2.2 5 2.2 q 4 0 5 -2.2" fill="none" stroke="#888" stroke-width="0.4" />
<rect x="24.25" y="430.20" width="708.25" height="2.30" fill="#e4e4e4" stroke="none" stroke-width="0.5" />
<line x1="24.25" y1="430.20" x2="732.50" y2="430.20" stroke="#b0b0b0" stroke-width="0.4" />
<line x1="24.25" y1="432.50" x2="732.50" y2="432.50" stroke="#b0b0b0" stroke-width="0.4" />
<rect x="24.25" y="453.60" width="708.25" height="2.60" fill="#e1e1e1" stroke="none" stroke-width="0.5" />
<line x1="24.25" y1="453.60" x2="732.50" y2="453.60" stroke="#b0b0b0" stroke-width="0.4" />
<line x1="24.25" y1="456.20" x2="732.50" y2="456.20" stroke="#b0b0b0" stroke-width="0.4" />
<rect x="28.10" y="454.10" width="0.90" height="1.80" fill="#b4b4b4" stroke="none" stroke-width="0.5" />
<rect x="36.15" y="454.10" width="0.90" height="1.80" fill="#b4b4b4" stroke="none" stroke-width="0.5" />
<rect x="44.20" y="454.10" width="0.90" height="1.80" fill="#b4b4b4" stroke="none" stroke-width="0.5" />
<rect x="52.25" y="454.10" width="0.90" height="1.80" fill="#b4b4b4" stroke="none" stroke-width="0.5" />
<rect x="60.30" y="454.10" width="0.90" height="1.80" fill="#b4b4b4" stroke="none" stroke-width="0.5" />
<rect x="68.35" y="454.10" width="0.90" height="1.80" fill="#b4b4b4" stroke="none" stroke-width="0.5" />
<rect x="76.40" y="454.10" width="0.90" height="1.80" fill="#b4b4b4" stroke="none" stroke-width="0.5" />
<rect x="84.45" y="454.10" width="0.90" height="1.80" fill="#b4b4b4" stroke="none" stroke-width="0.5" />
<rect x="92.50" y="454.10" width="0.90" height="1.80" fill="#b4b4b4" stroke="none" stroke-width="0.5" />
<rect x="100.55" y="454.10" width="0.90" height="1.80" fill="#b4b4b4" stroke="none" stroke-width="0.5" />
<rect x="108.60" y="454.10" width="0.90" height="1.80" fill="#b4b4b4" stroke="none" stroke-width="0.5" />
<rect x="116.65" y="454.10" width="0.90" height="1.80" fill="#b4b4b4" stroke="none" stroke-width="0.5" />
<rect x="124.70" y="454.10" width="0.90" height="1.80" fill="#b4b4b4" stroke="none" stroke-width="0.5" />
<rect x="132.75" y="454.10" width="0.90" height="1.80" fill="#b4b4b4" stroke="none" stroke-width="0.5" />
<rect x="140.80" y="454.10" width="0.90" height="1.80" fill="#b4b4b4" stroke="none" stroke-width="0.5" />
<rect x="148.85" y="454.10" width="0.90" height="1.80" fill="#b4b4b4" stroke="none" stroke-width="0.5" />
<rect x="156.90" y="454.10" width="0.90" height="1.80" fill="#b4b4b4" stroke="none" stroke-width="0.5" />
<rect x="164.95" y="454.10" width="0.90" height="1.80" fill="#b4b4b4" stroke="none" stroke-width="0.5" />
<rect x="173.00" y="454.10" width="0.90" height="1.80" fill="#b4b4b4" stroke="none" stroke-width="0.5" />
<rect x="181.05" y="454.10" width="0.90" height="1.80" fill="#b4b4b4" stroke="none" stroke-width="0.5" />
<rect x="189.10" y="454.10" width="0.90" height="1.80" fill="#b4b4b4" stroke="none" stroke-width="0.5" />
<rect x="197.15" y="454.10" width="0.90" height="1.80" fill="#b4b4b4" stroke="none" stroke-width="0.5" />
<rect x="205.20" y="454.10" width="0.90" height="1.80" fill="#b4b4b4" stroke="none" stroke-width="0.5" />
<rect x="213.25" y="454.10" width="0.90" height="1.80" fill="#b4b4b4" stroke="none" stroke-width="0.5" />
<rect x="221.30" y="454.10" width="0.90" height="1.80" fill="#b4b4b4" stroke="none" stroke-width="0.5" />
<rect x="229.35" y="454.10" width="0.90" height="1.80" fill="#b4b4b4" stroke="none" stroke-width="0.5" />
<rect x="237.40" y="454.10" width="0.90" height="1.80" fill="#b4b4b4" stroke="none" stroke-width="0.5" />
<rect x="245.45" y="454.10" width="0.90" height="1.80" fill="#b4b4b4" stroke="none" stroke-width="0.5" />
<rect x="253.50" y="454.10" width="0.90" height="1.80" fill="#b4b4b4" stroke="none" stroke-width="0.5" />
<rect x="261.55" y="454.10" width="0.90" height="1.80" fill="#b4b4b4" stroke="none" stroke-width="0.5" />
<rect x="269.60" y="454.10" width="0.90" height="1.80" fill="#b4b4b4" stroke="none" stroke-width="0.5" />
<rect x="277.65" y="454.10" width="0.90" height="1.80" fill="#b4b4b4" stroke="none" stroke-width="0.5" />
<rect x="285.70" y="454.10" width="0.90" height="1.80" fill="#b4b4b4" stroke="none" stroke-width="0.5" />
<rect x="293.75" y="454.10" width="0.90" height="1.80" fill="#b4b4b4" stroke="none" stroke-width="0.5" />
<rect x="301.80" y="454.10" width="0.90" height="1.80" fill="#b4b4b4" stroke="none" stroke-width="0.5" />
<rect x="309.85" y="454.10" width="0.90" height="1.80" fill="#b4b4b4" stroke="none" stroke-width="0.5" />
<rect x="317.90" y="454.10" width="0.90" height="1.80" fill="#b4b4b4" stroke="none" stroke-width="0.5" />
<rect x="325.95" y="454.10" width="0.90" height="1.80" fill="#b4b4b4" stroke="none" stroke-width="0.5" />
<rect x="334.00" y="454.10" width="0.90" height="1.80" fill="#b4b4b4" stroke="none" stroke-width="0.5" />
<rect x="342.05" y="454.10" width="0.90" height="1.80" fill="#b4b4b4" stroke="none" stroke-width="0.5" />
<rect x="350.10" y="454.10" width="0.90" height="1.80" fill="#b4b4b4" stroke="none" stroke-width="0.5" />
<rect x="358.15" y="454.10" width="0.90" height="1.80" fill="#b4b4b4" stroke="none" stroke-width="0.5" />
<rect x="366.20" y="454.10" width="0.90" height="1.80" fill="#b4b4b4" stroke="none" stroke-width="0.5" />
<rect x="374.25" y="454.10" width="0.90" height="1.80" fill="#b4b4b4" stroke="none" stroke-width="0.5" />
<rect x="382.30" y="454.10" width="0.90" height="1.80" fill="#b4b4b4" stroke="none" stroke-width="0.5" />
<rect x="390.35" y="454.10" width="0.90" height="1.80" fill="#b4b4b4" stroke="none" stroke-width="0.5" />
<rect x="398.40" y="454.10" width="0.90" height="1.80" fill="#b4b4b4" stroke="none" stroke-width="0.5" />
<rect x="406.45" y="454.10" width="0.90" height="1.80" fill="#b4b4b4" stroke="none" stroke-width="0.5" />
<rect x="414.50" y="454.10" width="0.90" height="1.80" fill="#b4b4b4" stroke="none" stroke-width="0.5" />
<rect x="422.55" y="454.10" width="0.90" height="1.80" fill="#b4b4b4" stroke="none" stroke-width="0.5" />
<rect x="430.60" y="454.10" width="0.90" height="1.80" fill="#b4b4b4" stroke="none" stroke-width="0.5" />
<rect x="438.65" y="454.10" width="0.90" height="1.80" fill="#b4b4b4" stroke="none" stroke-width="0.5" />
<rect x="446.70" y="454.10" width="0.90" height="1.80" fill="#b4b4b4" stroke="none" stroke-width="0.5" />
<rect x="454.75" y="454.10" width="0.90" height="1.80" fill="#b4b4b4" stroke="none" stroke-width="0.5" />
<rect x="462.80" y="454.10" width="0.90" height="1.80" fill="#b4b4b4" stroke="none" stroke-width="0.5" />
<rect x="470.85" y="454.10" width="0.90" height="1.80" fill="#b4b4b4" stroke="none" stroke-width="0.5" />
<rect x="478.90" y="454.10" width="0.90" height="1.80" fill="#b4b4b4" stroke="none" stroke-width="0.5" />
<rect x="486.95" y="454.10" width="0.90" height="1.80" fill="#b4b4b4" stroke="none" stroke-width="0.5" />
<rect x="495.00" y="454.10" width="0.90" height="1.80" fill="#b4b4b4" stroke="none" stroke-width="0.5" />
<rect x="503.05" y="454.10" width="0.90" height="1.80" fill="#b4b4b4" stroke="none" stroke-width="0.5" />
<rect x="511.10" y="454.10" width="0.90" height="1.80" fill="#b4b4b4" stroke="none" stroke-width="0.5" />
<rect x="519.15" y="454.10" width="0.90" height="1.80" fill="#b4b4b4" stroke="none" stroke-width="0.5" />
<rect x="527.20" y="454.10" width="0.90" height="1.80" fill="#b4b4b4" stroke="none" stroke-width="0.5" />
<rect x="535.25" y="454.10" width="0.90" height="1.80" fill="#b4b4b4" stroke="none" stroke-width="0.5" />
<rect x="543.30" y="454.10" width="0.90" height="1.80" fill="#b4b4b4" stroke="none" stroke-width="0.5" />
<rect x="551.35" y="454.10" width="0.90" height="1.80" fill="#b4b4b4" stroke="none" stroke-width="0.5" />
<rect x="559.40" y="454.10" width="0.90" height="1.80" fill="#b4b4b4" stroke="none" stroke-width="0.5" />
<rect x="567.45" y="454.10" width="0.90" height="1.80" fill="#b4b4b4" stroke="none" stroke-width="0.5" />
<rect x="575.50" y="454.10" width="0.90" height="1.80" fill="#b4b4b4" stroke="none" stroke-width="0.5" />
<rect x="583.55" y="454.10" width="0.90" height="1.80" fill="#b4b4b4" stroke="none" stroke-width="0.5" />
<rect x="591.60" y="454.10" width="0.90" height="1.80" fill="#b4b4b4" stroke="none" stroke-width="0.5" />
<rect x="599.65" y="454.10" width="0.90" height="1.80" fill="#b4b4b4" stroke="none" stroke-width="0.5" />
<rect x="607.70" y="454.10" width="0.90" height="1.80" fill="#b4b4b4" stroke="none" stroke-width="0.5" />
<rect x="615.75" y="454.10" width="0.90" height="1.80" fill="#b4b4b4" stroke="none" stroke-width="0.5" />
<rect x="623.80" y="454.10" width="0.90" height="1.80" fill="#b4b4b4" stroke="none" stroke-width="0.5" />
<rect x="631.85" y="454.10" width="0.90" height="1.80" fill="#b4b4b4" stroke="none" stroke-width="0.5" />
<rect x="639.90" y="454.10" width="0.90" height="1.80" fill="#b4b4b4" stroke="none" stroke-width="0.5" />
<rect x="647.95" y="454.10" width="0.90" height="1.80" fill="#b4b4b4" stroke="none" stroke-width="0.5" />
<rect x="656.00" y="454.10" width="0.90" height="1.80" fill="#b4b4b4" stroke="none" stroke-width="0.5" />
<rect x="664.05" y="454.10" width="0.90" height="1.80" fill="#b4b4b4" stroke="none" stroke-width="0.5" />
<rect x="672.10" y="454.10" width="0.90" height="1.80" fill="#b4b4b4" stroke="none" stroke-width="0.5" />
<rect x="680.15" y="454.10" width="0.90" height="1.80" fill="#b4b4b4" stroke="none" stroke-width="0.5" />
<rect x="688.20" y="454.10" width="0.90" height="1.80" fill="#b4b4b4" stroke="none" stroke-width="0.5" />
<rect x="696.25" y="454.10" width="0.90" height="1.80" fill="#b4b4b4" stroke="none" stroke-width="0.5" />
<rect x="704.30" y="454.10" width="0.90" height="1.80" fill="#b4b4b4" stroke="none" stroke-width="0.5" />
<rect x="712.35" y="454.10" width="0.90" height="1.80" fill="#b4b4b4" stroke="none" stroke-width="0.5" />
<rect x="720.40" y="454.10" width="0.90" height="1.80" fill="#b4b4b4" stroke="none" stroke-width="0.5" />
<rect x="728.45" y="454.10" width="0.90" height="1.80" fill="#b4b4b4" stroke="none" stroke-width="0.5" />
<line x1="39.00" y1="430.60" x2="230.00" y2="430.60" stroke="#3a3a3a" stroke-width="0.8" stroke-dasharray="2.4 0.7"/>
<line x1="230.00" y1="430.60" x2="300.00" y2="430.60" stroke="#9a9a9a" stroke-width="0.6" stroke-dasharray="2.4 0.7"/>
<line x1="29.50" y1="432.30" x2="29.50" y2="453.25" stroke="#888" stroke-width="0.45" />
<line x1="74.50" y1="432.30" x2="74.50" y2="453.25" stroke="#888" stroke-width="0.45" />
<line x1="98.00" y1="432.30" x2="98.00" y2="453.25" stroke="#888" stroke-width="0.45" />
<line x1="147.00" y1="432.30" x2="147.00" y2="453.25" stroke="#888" stroke-width="0.45" />
<line x1="186.00" y1="432.30" x2="186.00" y2="453.25" stroke="#888" stroke-width="0.45" />
<line x1="190.00" y1="432.30" x2="190.00" y2="453.25" stroke="#888" stroke-width="0.45" />
<line x1="228.00" y1="432.30" x2="228.00" y2="453.25" stroke="#888" stroke-width="0.45" />
<line x1="261.00" y1="432.30" x2="261.00" y2="453.25" stroke="#888" stroke-width="0.45" />
<line x1="352.00" y1="432.30" x2="352.00" y2="453.25" stroke="#888" stroke-width="0.45" />
<line x1="356.00" y1="432.30" x2="356.00" y2="453.25" stroke="#888" stroke-width="0.45" />
<line x1="398.00" y1="432.30" x2="398.00" y2="453.25" stroke="#888" stroke-width="0.45" />
<line x1="424.00" y1="432.30" x2="424.00" y2="453.25" stroke="#888" stroke-width="0.45" />
<line x1="466.00" y1="432.30" x2="466.00" y2="453.25" stroke="#888" stroke-width="0.45" />
<line x1="478.00" y1="432.30" x2="478.00" y2="453.25" stroke="#888" stroke-width="0.45" />
<line x1="520.00" y1="432.30" x2="520.00" y2="453.25" stroke="#888" stroke-width="0.45" />
<line x1="524.00" y1="432.30" x2="524.00" y2="453.25" stroke="#888" stroke-width="0.45" />
<line x1="561.00" y1="432.30" x2="561.00" y2="453.25" stroke="#888" stroke-width="0.45" />
<line x1="588.00" y1="432.30" x2="588.00" y2="453.25" stroke="#888" stroke-width="0.45" />
<line x1="632.50" y1="432.30" x2="632.50" y2="453.25" stroke="#888" stroke-width="0.45" />
<line x1="636.50" y1="432.30" x2="636.50" y2="453.25" stroke="#888" stroke-width="0.45" />
<line x1="677.00" y1="432.30" x2="677.00" y2="453.25" stroke="#888" stroke-width="0.45" />
<line x1="679.00" y1="432.30" x2="679.00" y2="453.25" stroke="#888" stroke-width="0.45" />
<rect x="31.00" y="434.20" width="31.05" height="18.60" fill="none" stroke="#9a9a9a" stroke-width="0.5" />
<line x1="43.00" y1="434.20" x2="43.00" y2="452.80" stroke="#a8a8a8" stroke-width="0.4" />
<line x1="45.61" y1="434.20" x2="45.61" y2="452.80" stroke="#a8a8a8" stroke-width="0.4" />
<line x1="48.21" y1="434.20" x2="48.21" y2="452.80" stroke="#a8a8a8" stroke-width="0.4" />
<line x1="50.82" y1="434.20" x2="50.82" y2="452.80" stroke="#a8a8a8" stroke-width="0.4" />
<line x1="53.43" y1="434.20" x2="53.43" y2="452.80" stroke="#a8a8a8" stroke-width="0.4" />
<line x1="56.04" y1="434.20" x2="56.04" y2="452.80" stroke="#a8a8a8" stroke-width="0.4" />
<line x1="58.64" y1="434.20" x2="58.64" y2="452.80" stroke="#a8a8a8" stroke-width="0.4" />
<line x1="61.25" y1="434.20" x2="61.25" y2="452.80" stroke="#a8a8a8" stroke-width="0.4" />
<rect x="43.00" y="442.50" width="18.25" height="1.20" fill="#808080" stroke="none" stroke-width="0.5" />
<rect x="37.00" y="438.70" width="29.75" height="9.60" fill="none" stroke="#c6c6c6" stroke-width="0.4" />
<path d="M 62.05 436.30 H 70.75 V 447.30 H 73.75 V 434.30" fill="none" stroke="#b0b0b0" stroke-width="0.4" />
<line x1="35.00" y1="440.70" x2="43.00" y2="440.70" stroke="#c6c6c6" stroke-width="0.4" />
<rect x="76.25" y="433.75" width="20.00" height="18.25" fill="none" stroke="#999" stroke-width="0.45" />
<rect x="77.50" y="435.00" width="17.50" height="15.80" fill="none" stroke="#b5b5b5" stroke-width="0.4" />
<rect x="99.00" y="434.20" width="31.80" height="18.60" fill="none" stroke="#9a9a9a" stroke-width="0.5" />
<line x1="111.25" y1="434.20" x2="111.25" y2="452.80" stroke="#a8a8a8" stroke-width="0.4" />
<line x1="113.59" y1="434.20" x2="113.59" y2="452.80" stroke="#a8a8a8" stroke-width="0.4" />
<line x1="115.94" y1="434.20" x2="115.94" y2="452.80" stroke="#a8a8a8" stroke-width="0.4" />
<line x1="118.28" y1="434.20" x2="118.28" y2="452.80" stroke="#a8a8a8" stroke-width="0.4" />
<line x1="120.62" y1="434.20" x2="120.62" y2="452.80" stroke="#a8a8a8" stroke-width="0.4" />
<line x1="122.97" y1="434.20" x2="122.97" y2="452.80" stroke="#a8a8a8" stroke-width="0.4" />
<line x1="125.31" y1="434.20" x2="125.31" y2="452.80" stroke="#a8a8a8" stroke-width="0.4" />
<line x1="127.66" y1="434.20" x2="127.66" y2="452.80" stroke="#a8a8a8" stroke-width="0.4" />
<line x1="130.00" y1="434.20" x2="130.00" y2="452.80" stroke="#a8a8a8" stroke-width="0.4" />
<rect x="111.25" y="442.50" width="18.75" height="1.20" fill="#808080" stroke="none" stroke-width="0.5" />
<rect x="105.00" y="438.70" width="31.75" height="9.60" fill="none" stroke="#c6c6c6" stroke-width="0.4" />
<path d="M 130.80 436.30 H 140.75 V 447.30 H 143.75 V 434.30" fill="none" stroke="#b0b0b0" stroke-width="0.4" />
<line x1="103.00" y1="440.70" x2="111.25" y2="440.70" stroke="#c6c6c6" stroke-width="0.4" />
<rect x="151.25" y="434.00" width="18.75" height="18.00" fill="none" stroke="#888" stroke-width="0.5" />
<rect x="152.50" y="438.75" width="7.90" height="12.50" fill="none" stroke="#888" stroke-width="0.5" />
<rect x="153.70" y="440.25" width="5.50" height="9.50" fill="none" stroke="#999" stroke-width="0.4" />
<line x1="153.70" y1="440.25" x2="159.20" y2="449.75" stroke="#aaa" stroke-width="0.35" />
<line x1="153.70" y1="449.75" x2="159.20" y2="440.25" stroke="#aaa" stroke-width="0.35" />
<rect x="161.00" y="438.75" width="8.00" height="12.50" fill="none" stroke="#888" stroke-width="0.5" />
<rect x="162.20" y="440.25" width="5.60" height="9.50" fill="none" stroke="#999" stroke-width="0.4" />
<line x1="162.20" y1="440.25" x2="167.80" y2="449.75" stroke="#aaa" stroke-width="0.35" />
<line x1="162.20" y1="449.75" x2="167.80" y2="440.25" stroke="#aaa" stroke-width="0.35" />
<rect x="173.00" y="437.00" width="10.75" height="14.25" fill="none" stroke="#888" stroke-width="0.5" />
<rect x="174.20" y="438.50" width="8.35" height="11.25" fill="none" stroke="#999" stroke-width="0.4" />
<line x1="174.20" y1="438.50" x2="182.55" y2="449.75" stroke="#aaa" stroke-width="0.35" />
<line x1="174.20" y1="449.75" x2="182.55" y2="438.50" stroke="#aaa" stroke-width="0.35" />
<rect x="191.50" y="434.20" width="30.30" height="18.60" fill="none" stroke="#9a9a9a" stroke-width="0.5" />
<line x1="206.00" y1="434.20" x2="206.00" y2="452.80" stroke="#a8a8a8" stroke-width="0.4" />
<line x1="208.50" y1="434.20" x2="208.50" y2="452.80" stroke="#a8a8a8" stroke-width="0.4" />
<line x1="211.00" y1="434.20" x2="211.00" y2="452.80" stroke="#a8a8a8" stroke-width="0.4" />
<line x1="213.50" y1="434.20" x2="213.50" y2="452.80" stroke="#a8a8a8" stroke-width="0.4" />
<line x1="216.00" y1="434.20" x2="216.00" y2="452.80" stroke="#a8a8a8" stroke-width="0.4" />
<line x1="218.50" y1="434.20" x2="218.50" y2="452.80" stroke="#a8a8a8" stroke-width="0.4" />
<line x1="221.00" y1="434.20" x2="221.00" y2="452.80" stroke="#a8a8a8" stroke-width="0.4" />
<rect x="206.00" y="442.50" width="15.00" height="1.20" fill="#808080" stroke="none" stroke-width="0.5" />
<rect x="197.50" y="438.70" width="21.50" height="9.60" fill="none" stroke="#c6c6c6" stroke-width="0.4" />
<path d="M 221.80 436.30 H 223.00 V 447.30 H 226.00 V 434.30" fill="none" stroke="#b0b0b0" stroke-width="0.4" />
<line x1="195.50" y1="440.70" x2="206.00" y2="440.70" stroke="#c6c6c6" stroke-width="0.4" />
<circle cx="235.00" cy="443.00" r="1.6" fill="none" stroke="#999" stroke-width="0.4"/>
<circle cx="263.75" cy="443.00" r="1.6" fill="none" stroke="#999" stroke-width="0.4"/>
<rect x="240.00" y="433.75" width="18.75" height="18.25" fill="none" stroke="#999" stroke-width="0.45" />
<rect x="241.20" y="435.00" width="16.30" height="15.80" fill="none" stroke="#b5b5b5" stroke-width="0.4" />
<rect x="229.00" y="433.00" width="4.00" height="7.00" fill="none" stroke="#999" stroke-width="0.4" />
<rect x="338.25" y="436.25" width="11.00" height="14.25" fill="none" stroke="#888" stroke-width="0.5" />
<rect x="339.45" y="437.75" width="8.60" height="11.25" fill="none" stroke="#999" stroke-width="0.4" />
<line x1="339.45" y1="437.75" x2="348.05" y2="449.00" stroke="#aaa" stroke-width="0.35" />
<line x1="339.45" y1="449.00" x2="348.05" y2="437.75" stroke="#aaa" stroke-width="0.35" />
<rect x="357.00" y="434.20" width="31.30" height="18.60" fill="none" stroke="#9a9a9a" stroke-width="0.5" />
<line x1="370.00" y1="434.20" x2="370.00" y2="452.80" stroke="#a8a8a8" stroke-width="0.4" />
<line x1="372.50" y1="434.20" x2="372.50" y2="452.80" stroke="#a8a8a8" stroke-width="0.4" />
<line x1="375.00" y1="434.20" x2="375.00" y2="452.80" stroke="#a8a8a8" stroke-width="0.4" />
<line x1="377.50" y1="434.20" x2="377.50" y2="452.80" stroke="#a8a8a8" stroke-width="0.4" />
<line x1="380.00" y1="434.20" x2="380.00" y2="452.80" stroke="#a8a8a8" stroke-width="0.4" />
<line x1="382.50" y1="434.20" x2="382.50" y2="452.80" stroke="#a8a8a8" stroke-width="0.4" />
<line x1="385.00" y1="434.20" x2="385.00" y2="452.80" stroke="#a8a8a8" stroke-width="0.4" />
<line x1="387.50" y1="434.20" x2="387.50" y2="452.80" stroke="#a8a8a8" stroke-width="0.4" />
<rect x="370.00" y="442.50" width="17.50" height="1.20" fill="#808080" stroke="none" stroke-width="0.5" />
<rect x="363.00" y="438.70" width="26.00" height="9.60" fill="none" stroke="#c6c6c6" stroke-width="0.4" />
<path d="M 388.30 436.30 H 393.00 V 447.30 H 396.00 V 434.30" fill="none" stroke="#b0b0b0" stroke-width="0.4" />
<line x1="361.00" y1="440.70" x2="370.00" y2="440.70" stroke="#c6c6c6" stroke-width="0.4" />
<rect x="401.00" y="433.75" width="20.00" height="18.25" fill="none" stroke="#999" stroke-width="0.45" />
<rect x="402.20" y="435.00" width="17.60" height="15.80" fill="none" stroke="#b5b5b5" stroke-width="0.4" />
<rect x="425.00" y="434.20" width="30.80" height="18.60" fill="none" stroke="#9a9a9a" stroke-width="0.5" />
<line x1="437.50" y1="434.20" x2="437.50" y2="452.80" stroke="#a8a8a8" stroke-width="0.4" />
<line x1="440.00" y1="434.20" x2="440.00" y2="452.80" stroke="#a8a8a8" stroke-width="0.4" />
<line x1="442.50" y1="434.20" x2="442.50" y2="452.80" stroke="#a8a8a8" stroke-width="0.4" />
<line x1="445.00" y1="434.20" x2="445.00" y2="452.80" stroke="#a8a8a8" stroke-width="0.4" />
<line x1="447.50" y1="434.20" x2="447.50" y2="452.80" stroke="#a8a8a8" stroke-width="0.4" />
<line x1="450.00" y1="434.20" x2="450.00" y2="452.80" stroke="#a8a8a8" stroke-width="0.4" />
<line x1="452.50" y1="434.20" x2="452.50" y2="452.80" stroke="#a8a8a8" stroke-width="0.4" />
<line x1="455.00" y1="434.20" x2="455.00" y2="452.80" stroke="#a8a8a8" stroke-width="0.4" />
<rect x="437.50" y="442.50" width="17.50" height="1.20" fill="#808080" stroke="none" stroke-width="0.5" />
<rect x="431.00" y="438.70" width="26.00" height="9.60" fill="none" stroke="#c6c6c6" stroke-width="0.4" />
<path d="M 455.80 436.30 H 461.00 V 447.30 H 464.00 V 434.30" fill="none" stroke="#b0b0b0" stroke-width="0.4" />
<line x1="429.00" y1="440.70" x2="437.50" y2="440.70" stroke="#c6c6c6" stroke-width="0.4" />
<rect x="468.75" y="436.00" width="7.25" height="15.00" fill="none" stroke="#b5b5b5" stroke-width="0.4" />
<rect x="479.00" y="434.20" width="26.80" height="18.60" fill="none" stroke="#9a9a9a" stroke-width="0.5" />
<line x1="487.50" y1="434.20" x2="487.50" y2="452.80" stroke="#a8a8a8" stroke-width="0.4" />
<line x1="490.00" y1="434.20" x2="490.00" y2="452.80" stroke="#a8a8a8" stroke-width="0.4" />
<line x1="492.50" y1="434.20" x2="492.50" y2="452.80" stroke="#a8a8a8" stroke-width="0.4" />
<line x1="495.00" y1="434.20" x2="495.00" y2="452.80" stroke="#a8a8a8" stroke-width="0.4" />
<line x1="497.50" y1="434.20" x2="497.50" y2="452.80" stroke="#a8a8a8" stroke-width="0.4" />
<line x1="500.00" y1="434.20" x2="500.00" y2="452.80" stroke="#a8a8a8" stroke-width="0.4" />
<line x1="502.50" y1="434.20" x2="502.50" y2="452.80" stroke="#a8a8a8" stroke-width="0.4" />
<line x1="505.00" y1="434.20" x2="505.00" y2="452.80" stroke="#a8a8a8" stroke-width="0.4" />
<rect x="487.50" y="442.50" width="17.50" height="1.20" fill="#808080" stroke="none" stroke-width="0.5" />
<rect x="485.00" y="438.70" width="26.00" height="9.60" fill="none" stroke="#c6c6c6" stroke-width="0.4" />
<path d="M 505.80 436.30 H 515.00 V 447.30 H 518.00 V 434.30" fill="none" stroke="#b0b0b0" stroke-width="0.4" />
<line x1="483.00" y1="440.70" x2="487.50" y2="440.70" stroke="#c6c6c6" stroke-width="0.4" />
<rect x="525.00" y="434.20" width="25.80" height="18.60" fill="none" stroke="#9a9a9a" stroke-width="0.5" />
<line x1="532.50" y1="434.20" x2="532.50" y2="452.80" stroke="#a8a8a8" stroke-width="0.4" />
<line x1="535.00" y1="434.20" x2="535.00" y2="452.80" stroke="#a8a8a8" stroke-width="0.4" />
<line x1="537.50" y1="434.20" x2="537.50" y2="452.80" stroke="#a8a8a8" stroke-width="0.4" />
<line x1="540.00" y1="434.20" x2="540.00" y2="452.80" stroke="#a8a8a8" stroke-width="0.4" />
<line x1="542.50" y1="434.20" x2="542.50" y2="452.80" stroke="#a8a8a8" stroke-width="0.4" />
<line x1="545.00" y1="434.20" x2="545.00" y2="452.80" stroke="#a8a8a8" stroke-width="0.4" />
<line x1="547.50" y1="434.20" x2="547.50" y2="452.80" stroke="#a8a8a8" stroke-width="0.4" />
<line x1="550.00" y1="434.20" x2="550.00" y2="452.80" stroke="#a8a8a8" stroke-width="0.4" />
<rect x="532.50" y="442.50" width="17.50" height="1.20" fill="#808080" stroke="none" stroke-width="0.5" />
<rect x="531.00" y="438.70" width="22.00" height="9.60" fill="none" stroke="#c6c6c6" stroke-width="0.4" />
<path d="M 550.80 436.30 H 557.00 V 447.30 H 560.00 V 434.30" fill="none" stroke="#b0b0b0" stroke-width="0.4" />
<line x1="529.00" y1="440.70" x2="532.50" y2="440.70" stroke="#c6c6c6" stroke-width="0.4" />
<rect x="565.00" y="432.50" width="20.00" height="20.00" fill="none" stroke="#999" stroke-width="0.45" />
<rect x="566.20" y="433.80" width="17.60" height="17.40" fill="none" stroke="#b5b5b5" stroke-width="0.4" />
<rect x="593.75" y="433.75" width="5.00" height="7.50" fill="none" stroke="#999" stroke-width="0.4" />
<rect x="605.00" y="433.00" width="10.50" height="15.25" fill="none" stroke="#888" stroke-width="0.45" />
<rect x="615.50" y="438.00" width="13.25" height="9.00" fill="none" stroke="#888" stroke-width="0.5" />
<rect x="616.70" y="439.50" width="10.85" height="6.00" fill="none" stroke="#999" stroke-width="0.4" />
<line x1="616.70" y1="439.50" x2="627.55" y2="445.50" stroke="#aaa" stroke-width="0.35" />
<line x1="616.70" y1="445.50" x2="627.55" y2="439.50" stroke="#aaa" stroke-width="0.35" />
<path d="M 605 433 q 1 -4 4 -4.5 l 2.5 4.5" fill="none" stroke="#999" stroke-width="0.4" />
<rect x="640.00" y="433.25" width="33.75" height="18.75" fill="none" stroke="#999" stroke-width="0.45" />
<line x1="640.00" y1="433.25" x2="673.75" y2="452.00" stroke="#aaa" stroke-width="0.4" />
<line x1="640.00" y1="452.00" x2="673.75" y2="433.25" stroke="#aaa" stroke-width="0.4" />
<rect x="681.75" y="436.25" width="20.75" height="12.50" fill="none" stroke="#888" stroke-width="0.45" />
<rect x="702.50" y="437.50" width="12.50" height="11.25" fill="none" stroke="#888" stroke-width="0.5" />
<rect x="703.70" y="439.00" width="10.10" height="8.25" fill="none" stroke="#999" stroke-width="0.4" />
<line x1="703.70" y1="439.00" x2="713.80" y2="447.25" stroke="#aaa" stroke-width="0.35" />
<line x1="703.70" y1="447.25" x2="713.80" y2="439.00" stroke="#aaa" stroke-width="0.35" />
<path d="M 690 436.25 q 1 -4 4 -4.5 l 2 4.5" fill="none" stroke="#999" stroke-width="0.4" />
<rect x="718.25" y="433.00" width="5.50" height="8.25" fill="none" stroke="#999" stroke-width="0.4" />
<line x1="39.50" y1="130.00" x2="39.50" y2="200.50" stroke="#7a7a7a" stroke-width="0.85" stroke-dasharray="1 0.7"/>
<line x1="39.50" y1="200.50" x2="87.00" y2="200.50" stroke="#7a7a7a" stroke-width="0.85" stroke-dasharray="1 0.7"/>
<line x1="40.00" y1="236.30" x2="87.00" y2="236.30" stroke="#7a7a7a" stroke-width="0.85" stroke-dasharray="1 0.7"/>
<line x1="40.00" y1="236.30" x2="40.00" y2="323.80" stroke="#7a7a7a" stroke-width="0.85" stroke-dasharray="1 0.7"/>
<line x1="40.00" y1="323.80" x2="87.00" y2="323.80" stroke="#7a7a7a" stroke-width="0.85" stroke-dasharray="1 0.7"/>
<line x1="40.00" y1="343.00" x2="87.00" y2="343.00" stroke="#7a7a7a" stroke-width="0.85" stroke-dasharray="1 0.7"/>
<line x1="40.00" y1="343.00" x2="40.00" y2="430.00" stroke="#7a7a7a" stroke-width="0.85" stroke-dasharray="1 0.7"/>
<line x1="38.30" y1="130.00" x2="38.30" y2="200.50" stroke="#b5b5b5" stroke-width="0.4" />
<line x1="38.60" y1="343.00" x2="38.60" y2="430.00" stroke="#b5b5b5" stroke-width="0.4" />
<line x1="38.50" y1="132.00" x2="27.00" y2="200.00" stroke="#b5b5b5" stroke-width="0.4" />
<line x1="27.00" y1="365.00" x2="38.50" y2="428.00" stroke="#b5b5b5" stroke-width="0.4" />
<line x1="27.00" y1="248.00" x2="27.00" y2="281.00" stroke="#b5b5b5" stroke-width="0.4" />
<line x1="676.80" y1="130.00" x2="676.80" y2="430.00" stroke="#c4c4c4" stroke-width="0.6" />
<path d="M 719.1 130.4 V 432.4 H 732.5" fill="none" stroke="#a4a4f4" stroke-width="1.25" />
<line x1="632.30" y1="130.00" x2="632.30" y2="430.00" stroke="#9a9a9a" stroke-width="0.5" />
<line x1="635.30" y1="130.00" x2="635.30" y2="430.00" stroke="#c8c8c8" stroke-width="0.5" />
<line x1="628.80" y1="133.80" x2="639.80" y2="133.80" stroke="#8c8c8c" stroke-width="0.65" />
<line x1="628.80" y1="156.50" x2="639.80" y2="156.50" stroke="#8c8c8c" stroke-width="0.65" />
<line x1="628.80" y1="187.35" x2="639.80" y2="187.35" stroke="#8c8c8c" stroke-width="0.65" />
<line x1="628.80" y1="218.20" x2="639.80" y2="218.20" stroke="#8c8c8c" stroke-width="0.65" />
<line x1="628.80" y1="249.05" x2="639.80" y2="249.05" stroke="#8c8c8c" stroke-width="0.65" />
<line x1="628.80" y1="279.90" x2="639.80" y2="279.90" stroke="#8c8c8c" stroke-width="0.65" />
<line x1="628.80" y1="310.75" x2="639.80" y2="310.75" stroke="#8c8c8c" stroke-width="0.65" />
<line x1="628.80" y1="341.60" x2="639.80" y2="341.60" stroke="#8c8c8c" stroke-width="0.65" />
<line x1="628.80" y1="372.45" x2="639.80" y2="372.45" stroke="#8c8c8c" stroke-width="0.65" />
<line x1="628.80" y1="403.30" x2="639.80" y2="403.30" stroke="#8c8c8c" stroke-width="0.65" />
<line x1="628.80" y1="426.70" x2="639.80" y2="426.70" stroke="#8c8c8c" stroke-width="0.65" />
<path d="M 635.3 156.50 q 4.0 1.2 4.0 5.14 q 0 3.9 -4.0 5.14" fill="none" stroke="#cacaca" stroke-width="0.4" />
<line x1="630.60" y1="166.78" x2="639.20" y2="166.78" stroke="#c2c2c2" stroke-width="0.45" />
<path d="M 635.3 166.78 q 4.0 1.2 4.0 5.14 q 0 3.9 -4.0 5.14" fill="none" stroke="#cacaca" stroke-width="0.4" />
<line x1="630.60" y1="177.07" x2="639.20" y2="177.07" stroke="#c2c2c2" stroke-width="0.45" />
<path d="M 635.3 177.07 q 4.0 1.2 4.0 5.14 q 0 3.9 -4.0 5.14" fill="none" stroke="#cacaca" stroke-width="0.4" />
<path d="M 635.3 187.35 q 4.0 1.2 4.0 5.14 q 0 3.9 -4.0 5.14" fill="none" stroke="#cacaca" stroke-width="0.4" />
<line x1="630.60" y1="197.63" x2="639.20" y2="197.63" stroke="#c2c2c2" stroke-width="0.45" />
<path d="M 635.3 197.63 q 4.0 1.2 4.0 5.14 q 0 3.9 -4.0 5.14" fill="none" stroke="#cacaca" stroke-width="0.4" />
<line x1="630.60" y1="207.92" x2="639.20" y2="207.92" stroke="#c2c2c2" stroke-width="0.45" />
<path d="M 635.3 207.92 q 4.0 1.2 4.0 5.14 q 0 3.9 -4.0 5.14" fill="none" stroke="#cacaca" stroke-width="0.4" />
<path d="M 635.3 218.20 q 4.0 1.2 4.0 5.14 q 0 3.9 -4.0 5.14" fill="none" stroke="#cacaca" stroke-width="0.4" />
<line x1="630.60" y1="228.48" x2="639.20" y2="228.48" stroke="#c2c2c2" stroke-width="0.45" />
<path d="M 635.3 228.48 q 4.0 1.2 4.0 5.14 q 0 3.9 -4.0 5.14" fill="none" stroke="#cacaca" stroke-width="0.4" />
<line x1="630.60" y1="238.77" x2="639.20" y2="238.77" stroke="#c2c2c2" stroke-width="0.45" />
<path d="M 635.3 238.77 q 4.0 1.2 4.0 5.14 q 0 3.9 -4.0 5.14" fill="none" stroke="#cacaca" stroke-width="0.4" />
<path d="M 635.3 249.05 q 4.0 1.2 4.0 5.14 q 0 3.9 -4.0 5.14" fill="none" stroke="#cacaca" stroke-width="0.4" />
<line x1="630.60" y1="259.33" x2="639.20" y2="259.33" stroke="#c2c2c2" stroke-width="0.45" />
<path d="M 635.3 259.33 q 4.0 1.2 4.0 5.14 q 0 3.9 -4.0 5.14" fill="none" stroke="#cacaca" stroke-width="0.4" />
<line x1="630.60" y1="269.62" x2="639.20" y2="269.62" stroke="#c2c2c2" stroke-width="0.45" />
<path d="M 635.3 269.62 q 4.0 1.2 4.0 5.14 q 0 3.9 -4.0 5.14" fill="none" stroke="#cacaca" stroke-width="0.4" />
<path d="M 635.3 279.90 q 4.0 1.2 4.0 5.14 q 0 3.9 -4.0 5.14" fill="none" stroke="#cacaca" stroke-width="0.4" />
<line x1="630.60" y1="290.18" x2="639.20" y2="290.18" stroke="#c2c2c2" stroke-width="0.45" />
<path d="M 635.3 290.18 q 4.0 1.2 4.0 5.14 q 0 3.9 -4.0 5.14" fill="none" stroke="#cacaca" stroke-width="0.4" />
<line x1="630.60" y1="300.47" x2="639.20" y2="300.47" stroke="#c2c2c2" stroke-width="0.45" />
<path d="M 635.3 300.47 q 4.0 1.2 4.0 5.14 q 0 3.9 -4.0 5.14" fill="none" stroke="#cacaca" stroke-width="0.4" />
<path d="M 635.3 310.75 q 4.0 1.2 4.0 5.14 q 0 3.9 -4.0 5.14" fill="none" stroke="#cacaca" stroke-width="0.4" />
<line x1="630.60" y1="321.03" x2="639.20" y2="321.03" stroke="#c2c2c2" stroke-width="0.45" />
<path d="M 635.3 321.03 q 4.0 1.2 4.0 5.14 q 0 3.9 -4.0 5.14" fill="none" stroke="#cacaca" stroke-width="0.4" />
<line x1="630.60" y1="331.32" x2="639.20" y2="331.32" stroke="#c2c2c2" stroke-width="0.45" />
<path d="M 635.3 331.32 q 4.0 1.2 4.0 5.14 q 0 3.9 -4.0 5.14" fill="none" stroke="#cacaca" stroke-width="0.4" />
<path d="M 635.3 341.60 q 4.0 1.2 4.0 5.14 q 0 3.9 -4.0 5.14" fill="none" stroke="#cacaca" stroke-width="0.4" />
<line x1="630.60" y1="351.88" x2="639.20" y2="351.88" stroke="#c2c2c2" stroke-width="0.45" />
<path d="M 635.3 351.88 q 4.0 1.2 4.0 5.14 q 0 3.9 -4.0 5.14" fill="none" stroke="#cacaca" stroke-width="0.4" />
<line x1="630.60" y1="362.17" x2="639.20" y2="362.17" stroke="#c2c2c2" stroke-width="0.45" />
<path d="M 635.3 362.17 q 4.0 1.2 4.0 5.14 q 0 3.9 -4.0 5.14" fill="none" stroke="#cacaca" stroke-width="0.4" />
<path d="M 635.3 372.45 q 4.0 1.2 4.0 5.14 q 0 3.9 -4.0 5.14" fill="none" stroke="#cacaca" stroke-width="0.4" />
<line x1="630.60" y1="382.73" x2="639.20" y2="382.73" stroke="#c2c2c2" stroke-width="0.45" />
<path d="M 635.3 382.73 q 4.0 1.2 4.0 5.14 q 0 3.9 -4.0 5.14" fill="none" stroke="#cacaca" stroke-width="0.4" />
<line x1="630.60" y1="393.02" x2="639.20" y2="393.02" stroke="#c2c2c2" stroke-width="0.45" />
<path d="M 635.3 393.02 q 4.0 1.2 4.0 5.14 q 0 3.9 -4.0 5.14" fill="none" stroke="#cacaca" stroke-width="0.4" />
<path d="M 635.6 139 Q 642.8 139.2 643 140.4 M 643 140.4 Q 642.6 147 636 148.3 Q 642.6 149.6 643 156.3" fill="none" stroke="#777" stroke-width="0.6" />
<path d="M 635.6 403.9 Q 642.2 404.3 642.6 409.5 Q 642.4 413.8 637.5 415 Q 642.4 416.2 642.6 420.5 Q 642.2 425.8 635.6 426.2" fill="none" stroke="#888" stroke-width="0.5" />
<rect x="635.70" y="134.30" width="46.00" height="24.00" fill="none" stroke="#a9cdf0" stroke-width="0.6" stroke-dasharray="1.6 1.4"/>
<text x="656.30" y="144.78" font-size="4.1" fill="#bcbcbc" text-anchor="middle" textLength="20.00" lengthAdjust="spacingAndGlyphs" >Magazzino</text>
<text x="657.80" y="163.38" font-size="3" fill="#d0d0d0" text-anchor="middle" >9.04</text>
<rect x="24.30" y="200.80" width="50.70" height="35.00" fill="#c4c4c4" stroke="none" stroke-width="0.5" />
<rect x="75.00" y="200.80" width="12.20" height="35.00" fill="#8e8e8e" stroke="none" stroke-width="0.5" />
<rect x="24.30" y="201.80" width="52.20" height="6.75" fill="#fff" stroke="#aaa" stroke-width="0.3" />
<line x1="25.50" y1="201.80" x2="25.50" y2="208.55" stroke="#c9c9c9" stroke-width="0.35" />
<line x1="27.60" y1="201.80" x2="27.60" y2="208.55" stroke="#c9c9c9" stroke-width="0.35" />
<line x1="29.70" y1="201.80" x2="29.70" y2="208.55" stroke="#c9c9c9" stroke-width="0.35" />
<line x1="31.80" y1="201.80" x2="31.80" y2="208.55" stroke="#c9c9c9" stroke-width="0.35" />
<line x1="33.90" y1="201.80" x2="33.90" y2="208.55" stroke="#c9c9c9" stroke-width="0.35" />
<line x1="36.00" y1="201.80" x2="36.00" y2="208.55" stroke="#c9c9c9" stroke-width="0.35" />
<line x1="38.10" y1="201.80" x2="38.10" y2="208.55" stroke="#c9c9c9" stroke-width="0.35" />
<line x1="40.20" y1="201.80" x2="40.20" y2="208.55" stroke="#c9c9c9" stroke-width="0.35" />
<line x1="42.30" y1="201.80" x2="42.30" y2="208.55" stroke="#c9c9c9" stroke-width="0.35" />
<line x1="44.40" y1="201.80" x2="44.40" y2="208.55" stroke="#c9c9c9" stroke-width="0.35" />
<line x1="46.50" y1="201.80" x2="46.50" y2="208.55" stroke="#c9c9c9" stroke-width="0.35" />
<line x1="48.60" y1="201.80" x2="48.60" y2="208.55" stroke="#c9c9c9" stroke-width="0.35" />
<line x1="50.70" y1="201.80" x2="50.70" y2="208.55" stroke="#c9c9c9" stroke-width="0.35" />
<line x1="52.80" y1="201.80" x2="52.80" y2="208.55" stroke="#c9c9c9" stroke-width="0.35" />
<line x1="54.90" y1="201.80" x2="54.90" y2="208.55" stroke="#c9c9c9" stroke-width="0.35" />
<line x1="57.00" y1="201.80" x2="57.00" y2="208.55" stroke="#c9c9c9" stroke-width="0.35" />
<line x1="59.10" y1="201.80" x2="59.10" y2="208.55" stroke="#c9c9c9" stroke-width="0.35" />
<line x1="61.20" y1="201.80" x2="61.20" y2="208.55" stroke="#c9c9c9" stroke-width="0.35" />
<line x1="63.30" y1="201.80" x2="63.30" y2="208.55" stroke="#c9c9c9" stroke-width="0.35" />
<line x1="65.40" y1="201.80" x2="65.40" y2="208.55" stroke="#c9c9c9" stroke-width="0.35" />
<line x1="67.50" y1="201.80" x2="67.50" y2="208.55" stroke="#c9c9c9" stroke-width="0.35" />
<line x1="69.60" y1="201.80" x2="69.60" y2="208.55" stroke="#c9c9c9" stroke-width="0.35" />
<line x1="71.70" y1="201.80" x2="71.70" y2="208.55" stroke="#c9c9c9" stroke-width="0.35" />
<line x1="73.80" y1="201.80" x2="73.80" y2="208.55" stroke="#c9c9c9" stroke-width="0.35" />
<line x1="24.30" y1="205.18" x2="75.00" y2="205.18" stroke="#c9c9c9" stroke-width="0.35" />
<rect x="24.30" y="210.55" width="52.20" height="6.75" fill="#fff" stroke="#aaa" stroke-width="0.3" />
<line x1="25.50" y1="210.55" x2="25.50" y2="217.30" stroke="#c9c9c9" stroke-width="0.35" />
<line x1="27.60" y1="210.55" x2="27.60" y2="217.30" stroke="#c9c9c9" stroke-width="0.35" />
<line x1="29.70" y1="210.55" x2="29.70" y2="217.30" stroke="#c9c9c9" stroke-width="0.35" />
<line x1="31.80" y1="210.55" x2="31.80" y2="217.30" stroke="#c9c9c9" stroke-width="0.35" />
<line x1="33.90" y1="210.55" x2="33.90" y2="217.30" stroke="#c9c9c9" stroke-width="0.35" />
<line x1="36.00" y1="210.55" x2="36.00" y2="217.30" stroke="#c9c9c9" stroke-width="0.35" />
<line x1="38.10" y1="210.55" x2="38.10" y2="217.30" stroke="#c9c9c9" stroke-width="0.35" />
<line x1="40.20" y1="210.55" x2="40.20" y2="217.30" stroke="#c9c9c9" stroke-width="0.35" />
<line x1="42.30" y1="210.55" x2="42.30" y2="217.30" stroke="#c9c9c9" stroke-width="0.35" />
<line x1="44.40" y1="210.55" x2="44.40" y2="217.30" stroke="#c9c9c9" stroke-width="0.35" />
<line x1="46.50" y1="210.55" x2="46.50" y2="217.30" stroke="#c9c9c9" stroke-width="0.35" />
<line x1="48.60" y1="210.55" x2="48.60" y2="217.30" stroke="#c9c9c9" stroke-width="0.35" />
<line x1="50.70" y1="210.55" x2="50.70" y2="217.30" stroke="#c9c9c9" stroke-width="0.35" />
<line x1="52.80" y1="210.55" x2="52.80" y2="217.30" stroke="#c9c9c9" stroke-width="0.35" />
<line x1="54.90" y1="210.55" x2="54.90" y2="217.30" stroke="#c9c9c9" stroke-width="0.35" />
<line x1="57.00" y1="210.55" x2="57.00" y2="217.30" stroke="#c9c9c9" stroke-width="0.35" />
<line x1="59.10" y1="210.55" x2="59.10" y2="217.30" stroke="#c9c9c9" stroke-width="0.35" />
<line x1="61.20" y1="210.55" x2="61.20" y2="217.30" stroke="#c9c9c9" stroke-width="0.35" />
<line x1="63.30" y1="210.55" x2="63.30" y2="217.30" stroke="#c9c9c9" stroke-width="0.35" />
<line x1="65.40" y1="210.55" x2="65.40" y2="217.30" stroke="#c9c9c9" stroke-width="0.35" />
<line x1="67.50" y1="210.55" x2="67.50" y2="217.30" stroke="#c9c9c9" stroke-width="0.35" />
<line x1="69.60" y1="210.55" x2="69.60" y2="217.30" stroke="#c9c9c9" stroke-width="0.35" />
<line x1="71.70" y1="210.55" x2="71.70" y2="217.30" stroke="#c9c9c9" stroke-width="0.35" />
<line x1="73.80" y1="210.55" x2="73.80" y2="217.30" stroke="#c9c9c9" stroke-width="0.35" />
<line x1="24.30" y1="213.93" x2="75.00" y2="213.93" stroke="#c9c9c9" stroke-width="0.35" />
<rect x="24.30" y="219.30" width="52.20" height="6.75" fill="#fff" stroke="#aaa" stroke-width="0.3" />
<line x1="25.50" y1="219.30" x2="25.50" y2="226.05" stroke="#c9c9c9" stroke-width="0.35" />
<line x1="27.60" y1="219.30" x2="27.60" y2="226.05" stroke="#c9c9c9" stroke-width="0.35" />
<line x1="29.70" y1="219.30" x2="29.70" y2="226.05" stroke="#c9c9c9" stroke-width="0.35" />
<line x1="31.80" y1="219.30" x2="31.80" y2="226.05" stroke="#c9c9c9" stroke-width="0.35" />
<line x1="33.90" y1="219.30" x2="33.90" y2="226.05" stroke="#c9c9c9" stroke-width="0.35" />
<line x1="36.00" y1="219.30" x2="36.00" y2="226.05" stroke="#c9c9c9" stroke-width="0.35" />
<line x1="38.10" y1="219.30" x2="38.10" y2="226.05" stroke="#c9c9c9" stroke-width="0.35" />
<line x1="40.20" y1="219.30" x2="40.20" y2="226.05" stroke="#c9c9c9" stroke-width="0.35" />
<line x1="42.30" y1="219.30" x2="42.30" y2="226.05" stroke="#c9c9c9" stroke-width="0.35" />
<line x1="44.40" y1="219.30" x2="44.40" y2="226.05" stroke="#c9c9c9" stroke-width="0.35" />
<line x1="46.50" y1="219.30" x2="46.50" y2="226.05" stroke="#c9c9c9" stroke-width="0.35" />
<line x1="48.60" y1="219.30" x2="48.60" y2="226.05" stroke="#c9c9c9" stroke-width="0.35" />
<line x1="50.70" y1="219.30" x2="50.70" y2="226.05" stroke="#c9c9c9" stroke-width="0.35" />
<line x1="52.80" y1="219.30" x2="52.80" y2="226.05" stroke="#c9c9c9" stroke-width="0.35" />
<line x1="54.90" y1="219.30" x2="54.90" y2="226.05" stroke="#c9c9c9" stroke-width="0.35" />
<line x1="57.00" y1="219.30" x2="57.00" y2="226.05" stroke="#c9c9c9" stroke-width="0.35" />
<line x1="59.10" y1="219.30" x2="59.10" y2="226.05" stroke="#c9c9c9" stroke-width="0.35" />
<line x1="61.20" y1="219.30" x2="61.20" y2="226.05" stroke="#c9c9c9" stroke-width="0.35" />
<line x1="63.30" y1="219.30" x2="63.30" y2="226.05" stroke="#c9c9c9" stroke-width="0.35" />
<line x1="65.40" y1="219.30" x2="65.40" y2="226.05" stroke="#c9c9c9" stroke-width="0.35" />
<line x1="67.50" y1="219.30" x2="67.50" y2="226.05" stroke="#c9c9c9" stroke-width="0.35" />
<line x1="69.60" y1="219.30" x2="69.60" y2="226.05" stroke="#c9c9c9" stroke-width="0.35" />
<line x1="71.70" y1="219.30" x2="71.70" y2="226.05" stroke="#c9c9c9" stroke-width="0.35" />
<line x1="73.80" y1="219.30" x2="73.80" y2="226.05" stroke="#c9c9c9" stroke-width="0.35" />
<line x1="24.30" y1="222.68" x2="75.00" y2="222.68" stroke="#c9c9c9" stroke-width="0.35" />
<rect x="24.30" y="228.05" width="52.20" height="6.75" fill="#fff" stroke="#aaa" stroke-width="0.3" />
<line x1="25.50" y1="228.05" x2="25.50" y2="234.80" stroke="#c9c9c9" stroke-width="0.35" />
<line x1="27.60" y1="228.05" x2="27.60" y2="234.80" stroke="#c9c9c9" stroke-width="0.35" />
<line x1="29.70" y1="228.05" x2="29.70" y2="234.80" stroke="#c9c9c9" stroke-width="0.35" />
<line x1="31.80" y1="228.05" x2="31.80" y2="234.80" stroke="#c9c9c9" stroke-width="0.35" />
<line x1="33.90" y1="228.05" x2="33.90" y2="234.80" stroke="#c9c9c9" stroke-width="0.35" />
<line x1="36.00" y1="228.05" x2="36.00" y2="234.80" stroke="#c9c9c9" stroke-width="0.35" />
<line x1="38.10" y1="228.05" x2="38.10" y2="234.80" stroke="#c9c9c9" stroke-width="0.35" />
<line x1="40.20" y1="228.05" x2="40.20" y2="234.80" stroke="#c9c9c9" stroke-width="0.35" />
<line x1="42.30" y1="228.05" x2="42.30" y2="234.80" stroke="#c9c9c9" stroke-width="0.35" />
<line x1="44.40" y1="228.05" x2="44.40" y2="234.80" stroke="#c9c9c9" stroke-width="0.35" />
<line x1="46.50" y1="228.05" x2="46.50" y2="234.80" stroke="#c9c9c9" stroke-width="0.35" />
<line x1="48.60" y1="228.05" x2="48.60" y2="234.80" stroke="#c9c9c9" stroke-width="0.35" />
<line x1="50.70" y1="228.05" x2="50.70" y2="234.80" stroke="#c9c9c9" stroke-width="0.35" />
<line x1="52.80" y1="228.05" x2="52.80" y2="234.80" stroke="#c9c9c9" stroke-width="0.35" />
<line x1="54.90" y1="228.05" x2="54.90" y2="234.80" stroke="#c9c9c9" stroke-width="0.35" />
<line x1="57.00" y1="228.05" x2="57.00" y2="234.80" stroke="#c9c9c9" stroke-width="0.35" />
<line x1="59.10" y1="228.05" x2="59.10" y2="234.80" stroke="#c9c9c9" stroke-width="0.35" />
<line x1="61.20" y1="228.05" x2="61.20" y2="234.80" stroke="#c9c9c9" stroke-width="0.35" />
<line x1="63.30" y1="228.05" x2="63.30" y2="234.80" stroke="#c9c9c9" stroke-width="0.35" />
<line x1="65.40" y1="228.05" x2="65.40" y2="234.80" stroke="#c9c9c9" stroke-width="0.35" />
<line x1="67.50" y1="228.05" x2="67.50" y2="234.80" stroke="#c9c9c9" stroke-width="0.35" />
<line x1="69.60" y1="228.05" x2="69.60" y2="234.80" stroke="#c9c9c9" stroke-width="0.35" />
<line x1="71.70" y1="228.05" x2="71.70" y2="234.80" stroke="#c9c9c9" stroke-width="0.35" />
<line x1="73.80" y1="228.05" x2="73.80" y2="234.80" stroke="#c9c9c9" stroke-width="0.35" />
<line x1="24.30" y1="231.43" x2="75.00" y2="231.43" stroke="#c9c9c9" stroke-width="0.35" />
<rect x="24.30" y="217.30" width="60.70" height="2.30" fill="#e9e9e9" stroke="#b0b0b0" stroke-width="0.3" />
<rect x="24.30" y="324.20" width="50.70" height="18.40" fill="#c4c4c4" stroke="none" stroke-width="0.5" />
<rect x="75.00" y="324.20" width="12.20" height="18.40" fill="#8e8e8e" stroke="none" stroke-width="0.5" />
<rect x="24.30" y="325.20" width="52.20" height="7.20" fill="#fff" stroke="#aaa" stroke-width="0.3" />
<line x1="25.50" y1="325.20" x2="25.50" y2="332.40" stroke="#c9c9c9" stroke-width="0.35" />
<line x1="27.60" y1="325.20" x2="27.60" y2="332.40" stroke="#c9c9c9" stroke-width="0.35" />
<line x1="29.70" y1="325.20" x2="29.70" y2="332.40" stroke="#c9c9c9" stroke-width="0.35" />
<line x1="31.80" y1="325.20" x2="31.80" y2="332.40" stroke="#c9c9c9" stroke-width="0.35" />
<line x1="33.90" y1="325.20" x2="33.90" y2="332.40" stroke="#c9c9c9" stroke-width="0.35" />
<line x1="36.00" y1="325.20" x2="36.00" y2="332.40" stroke="#c9c9c9" stroke-width="0.35" />
<line x1="38.10" y1="325.20" x2="38.10" y2="332.40" stroke="#c9c9c9" stroke-width="0.35" />
<line x1="40.20" y1="325.20" x2="40.20" y2="332.40" stroke="#c9c9c9" stroke-width="0.35" />
<line x1="42.30" y1="325.20" x2="42.30" y2="332.40" stroke="#c9c9c9" stroke-width="0.35" />
<line x1="44.40" y1="325.20" x2="44.40" y2="332.40" stroke="#c9c9c9" stroke-width="0.35" />
<line x1="46.50" y1="325.20" x2="46.50" y2="332.40" stroke="#c9c9c9" stroke-width="0.35" />
<line x1="48.60" y1="325.20" x2="48.60" y2="332.40" stroke="#c9c9c9" stroke-width="0.35" />
<line x1="50.70" y1="325.20" x2="50.70" y2="332.40" stroke="#c9c9c9" stroke-width="0.35" />
<line x1="52.80" y1="325.20" x2="52.80" y2="332.40" stroke="#c9c9c9" stroke-width="0.35" />
<line x1="54.90" y1="325.20" x2="54.90" y2="332.40" stroke="#c9c9c9" stroke-width="0.35" />
<line x1="57.00" y1="325.20" x2="57.00" y2="332.40" stroke="#c9c9c9" stroke-width="0.35" />
<line x1="59.10" y1="325.20" x2="59.10" y2="332.40" stroke="#c9c9c9" stroke-width="0.35" />
<line x1="61.20" y1="325.20" x2="61.20" y2="332.40" stroke="#c9c9c9" stroke-width="0.35" />
<line x1="63.30" y1="325.20" x2="63.30" y2="332.40" stroke="#c9c9c9" stroke-width="0.35" />
<line x1="65.40" y1="325.20" x2="65.40" y2="332.40" stroke="#c9c9c9" stroke-width="0.35" />
<line x1="67.50" y1="325.20" x2="67.50" y2="332.40" stroke="#c9c9c9" stroke-width="0.35" />
<line x1="69.60" y1="325.20" x2="69.60" y2="332.40" stroke="#c9c9c9" stroke-width="0.35" />
<line x1="71.70" y1="325.20" x2="71.70" y2="332.40" stroke="#c9c9c9" stroke-width="0.35" />
<line x1="73.80" y1="325.20" x2="73.80" y2="332.40" stroke="#c9c9c9" stroke-width="0.35" />
<line x1="24.30" y1="328.80" x2="75.00" y2="328.80" stroke="#c9c9c9" stroke-width="0.35" />
<rect x="24.30" y="334.40" width="52.20" height="7.20" fill="#fff" stroke="#aaa" stroke-width="0.3" />
<line x1="25.50" y1="334.40" x2="25.50" y2="341.60" stroke="#c9c9c9" stroke-width="0.35" />
<line x1="27.60" y1="334.40" x2="27.60" y2="341.60" stroke="#c9c9c9" stroke-width="0.35" />
<line x1="29.70" y1="334.40" x2="29.70" y2="341.60" stroke="#c9c9c9" stroke-width="0.35" />
<line x1="31.80" y1="334.40" x2="31.80" y2="341.60" stroke="#c9c9c9" stroke-width="0.35" />
<line x1="33.90" y1="334.40" x2="33.90" y2="341.60" stroke="#c9c9c9" stroke-width="0.35" />
<line x1="36.00" y1="334.40" x2="36.00" y2="341.60" stroke="#c9c9c9" stroke-width="0.35" />
<line x1="38.10" y1="334.40" x2="38.10" y2="341.60" stroke="#c9c9c9" stroke-width="0.35" />
<line x1="40.20" y1="334.40" x2="40.20" y2="341.60" stroke="#c9c9c9" stroke-width="0.35" />
<line x1="42.30" y1="334.40" x2="42.30" y2="341.60" stroke="#c9c9c9" stroke-width="0.35" />
<line x1="44.40" y1="334.40" x2="44.40" y2="341.60" stroke="#c9c9c9" stroke-width="0.35" />
<line x1="46.50" y1="334.40" x2="46.50" y2="341.60" stroke="#c9c9c9" stroke-width="0.35" />
<line x1="48.60" y1="334.40" x2="48.60" y2="341.60" stroke="#c9c9c9" stroke-width="0.35" />
<line x1="50.70" y1="334.40" x2="50.70" y2="341.60" stroke="#c9c9c9" stroke-width="0.35" />
<line x1="52.80" y1="334.40" x2="52.80" y2="341.60" stroke="#c9c9c9" stroke-width="0.35" />
<line x1="54.90" y1="334.40" x2="54.90" y2="341.60" stroke="#c9c9c9" stroke-width="0.35" />
<line x1="57.00" y1="334.40" x2="57.00" y2="341.60" stroke="#c9c9c9" stroke-width="0.35" />
<line x1="59.10" y1="334.40" x2="59.10" y2="341.60" stroke="#c9c9c9" stroke-width="0.35" />
<line x1="61.20" y1="334.40" x2="61.20" y2="341.60" stroke="#c9c9c9" stroke-width="0.35" />
<line x1="63.30" y1="334.40" x2="63.30" y2="341.60" stroke="#c9c9c9" stroke-width="0.35" />
<line x1="65.40" y1="334.40" x2="65.40" y2="341.60" stroke="#c9c9c9" stroke-width="0.35" />
<line x1="67.50" y1="334.40" x2="67.50" y2="341.60" stroke="#c9c9c9" stroke-width="0.35" />
<line x1="69.60" y1="334.40" x2="69.60" y2="341.60" stroke="#c9c9c9" stroke-width="0.35" />
<line x1="71.70" y1="334.40" x2="71.70" y2="341.60" stroke="#c9c9c9" stroke-width="0.35" />
<line x1="73.80" y1="334.40" x2="73.80" y2="341.60" stroke="#c9c9c9" stroke-width="0.35" />
<line x1="24.30" y1="338.00" x2="75.00" y2="338.00" stroke="#c9c9c9" stroke-width="0.35" />
<rect x="24.30" y="332.20" width="53.70" height="2.20" fill="#8f8f8f" stroke="none" stroke-width="0.5" />
<rect x="41.70" y="238.00" width="34.10" height="10.30" fill="#fff" stroke="#aaa" stroke-width="0.5" />
<rect x="58.30" y="238.30" width="17.30" height="9.70" fill="#c7e8ee" stroke="none" stroke-width="0.5" />
<rect x="24.70" y="248.30" width="12.80" height="32.50" fill="#fff" stroke="#b5b5b5" stroke-width="0.4" />
<line x1="27.90" y1="248.30" x2="27.90" y2="280.80" stroke="#c8c8c8" stroke-width="0.35" />
<line x1="31.10" y1="248.30" x2="31.10" y2="280.80" stroke="#c8c8c8" stroke-width="0.35" />
<line x1="34.30" y1="248.30" x2="34.30" y2="280.80" stroke="#c8c8c8" stroke-width="0.35" />
<line x1="24.70" y1="251.90" x2="37.50" y2="251.90" stroke="#c8c8c8" stroke-width="0.35" />
<line x1="24.70" y1="255.50" x2="37.50" y2="255.50" stroke="#c8c8c8" stroke-width="0.35" />
<line x1="24.70" y1="259.10" x2="37.50" y2="259.10" stroke="#c8c8c8" stroke-width="0.35" />
<line x1="24.70" y1="262.70" x2="37.50" y2="262.70" stroke="#c8c8c8" stroke-width="0.35" />
<line x1="24.70" y1="266.30" x2="37.50" y2="266.30" stroke="#c8c8c8" stroke-width="0.35" />
<line x1="24.70" y1="269.90" x2="37.50" y2="269.90" stroke="#c8c8c8" stroke-width="0.35" />
<line x1="24.70" y1="273.50" x2="37.50" y2="273.50" stroke="#c8c8c8" stroke-width="0.35" />
<line x1="24.70" y1="277.10" x2="37.50" y2="277.10" stroke="#c8c8c8" stroke-width="0.35" />
<circle cx="26.20" cy="265.00" r="1.2" fill="none" stroke="#aaa" stroke-width="0.4"/>
<polygon points="91.30,210.00 95.40,207.50 95.40,212.50" fill="#e9134d"/>
<line x1="96.50" y1="210.00" x2="103.30" y2="210.00" stroke="#f0608a" stroke-width="0.5" stroke-dasharray="2.4 1.5"/>
<text x="95.90" y="222.50" font-size="6.2" fill="#e9134d" text-anchor="middle" font-weight="bold" textLength="19.20" lengthAdjust="spacingAndGlyphs" >FOYER</text>
<polygon points="103.70,227.00 99.60,224.50 99.60,229.50" fill="#e9134d"/>
<line x1="91.30" y1="227.00" x2="98.50" y2="227.00" stroke="#f0608a" stroke-width="0.5" stroke-dasharray="2.4 1.5"/>
<polygon points="89.20,328.70 93.30,326.20 93.30,331.20" fill="#e9134d"/>
<line x1="94.40" y1="328.70" x2="101.70" y2="328.70" stroke="#f0608a" stroke-width="0.5" stroke-dasharray="2.4 1.5"/>
<text x="94.40" y="336.00" font-size="6.2" fill="#e9134d" text-anchor="middle" font-weight="bold" textLength="18.80" lengthAdjust="spacingAndGlyphs" >FOYER</text>
<polygon points="102.50,339.20 98.40,336.70 98.40,341.70" fill="#e9134d"/>
<line x1="90.00" y1="339.20" x2="97.30" y2="339.20" stroke="#f0608a" stroke-width="0.5" stroke-dasharray="2.4 1.5"/>
<path d="M 253.4 282.4 H 306.6 V 308.2 H 262 Z" fill="#fff" stroke="#aaa" stroke-width="0.45" />
<path d="M 254.20 283.30 H 297 V 289.90 H 256.40 Z" fill="#f1f1f1" stroke="#7d7d7d" stroke-width="0.45" />
<line x1="258.00" y1="284.10" x2="258.00" y2="289.50" stroke="#c4c4c4" stroke-width="0.35" />
<line x1="260.15" y1="284.10" x2="260.15" y2="289.50" stroke="#c4c4c4" stroke-width="0.35" />
<line x1="262.30" y1="284.10" x2="262.30" y2="289.50" stroke="#c4c4c4" stroke-width="0.35" />
<line x1="264.45" y1="284.10" x2="264.45" y2="289.50" stroke="#c4c4c4" stroke-width="0.35" />
<line x1="266.60" y1="284.10" x2="266.60" y2="289.50" stroke="#c4c4c4" stroke-width="0.35" />
<line x1="268.75" y1="284.10" x2="268.75" y2="289.50" stroke="#c4c4c4" stroke-width="0.35" />
<line x1="270.90" y1="284.10" x2="270.90" y2="289.50" stroke="#c4c4c4" stroke-width="0.35" />
<line x1="273.05" y1="284.10" x2="273.05" y2="289.50" stroke="#c4c4c4" stroke-width="0.35" />
<line x1="275.20" y1="284.10" x2="275.20" y2="289.50" stroke="#c4c4c4" stroke-width="0.35" />
<line x1="277.35" y1="284.10" x2="277.35" y2="289.50" stroke="#c4c4c4" stroke-width="0.35" />
<line x1="279.50" y1="284.10" x2="279.50" y2="289.50" stroke="#c4c4c4" stroke-width="0.35" />
<line x1="281.65" y1="284.10" x2="281.65" y2="289.50" stroke="#c4c4c4" stroke-width="0.35" />
<line x1="283.80" y1="284.10" x2="283.80" y2="289.50" stroke="#c4c4c4" stroke-width="0.35" />
<line x1="285.95" y1="284.10" x2="285.95" y2="289.50" stroke="#c4c4c4" stroke-width="0.35" />
<line x1="288.10" y1="284.10" x2="288.10" y2="289.50" stroke="#c4c4c4" stroke-width="0.35" />
<line x1="290.25" y1="284.10" x2="290.25" y2="289.50" stroke="#c4c4c4" stroke-width="0.35" />
<line x1="292.40" y1="284.10" x2="292.40" y2="289.50" stroke="#c4c4c4" stroke-width="0.35" />
<line x1="294.55" y1="284.10" x2="294.55" y2="289.50" stroke="#c4c4c4" stroke-width="0.35" />
<line x1="255.20" y1="287.00" x2="297.00" y2="287.00" stroke="#c4c4c4" stroke-width="0.35" />
<rect x="296.30" y="284.30" width="2.30" height="5.00" fill="#fff" stroke="#999" stroke-width="0.4" />
<path d="M 257.00 291.70 H 297 V 298.30 H 259.20 Z" fill="#f1f1f1" stroke="#7d7d7d" stroke-width="0.45" />
<line x1="260.60" y1="292.50" x2="260.60" y2="297.90" stroke="#c4c4c4" stroke-width="0.35" />
<line x1="262.75" y1="292.50" x2="262.75" y2="297.90" stroke="#c4c4c4" stroke-width="0.35" />
<line x1="264.90" y1="292.50" x2="264.90" y2="297.90" stroke="#c4c4c4" stroke-width="0.35" />
<line x1="267.05" y1="292.50" x2="267.05" y2="297.90" stroke="#c4c4c4" stroke-width="0.35" />
<line x1="269.20" y1="292.50" x2="269.20" y2="297.90" stroke="#c4c4c4" stroke-width="0.35" />
<line x1="271.35" y1="292.50" x2="271.35" y2="297.90" stroke="#c4c4c4" stroke-width="0.35" />
<line x1="273.50" y1="292.50" x2="273.50" y2="297.90" stroke="#c4c4c4" stroke-width="0.35" />
<line x1="275.65" y1="292.50" x2="275.65" y2="297.90" stroke="#c4c4c4" stroke-width="0.35" />
<line x1="277.80" y1="292.50" x2="277.80" y2="297.90" stroke="#c4c4c4" stroke-width="0.35" />
<line x1="279.95" y1="292.50" x2="279.95" y2="297.90" stroke="#c4c4c4" stroke-width="0.35" />
<line x1="282.10" y1="292.50" x2="282.10" y2="297.90" stroke="#c4c4c4" stroke-width="0.35" />
<line x1="284.25" y1="292.50" x2="284.25" y2="297.90" stroke="#c4c4c4" stroke-width="0.35" />
<line x1="286.40" y1="292.50" x2="286.40" y2="297.90" stroke="#c4c4c4" stroke-width="0.35" />
<line x1="288.55" y1="292.50" x2="288.55" y2="297.90" stroke="#c4c4c4" stroke-width="0.35" />
<line x1="290.70" y1="292.50" x2="290.70" y2="297.90" stroke="#c4c4c4" stroke-width="0.35" />
<line x1="292.85" y1="292.50" x2="292.85" y2="297.90" stroke="#c4c4c4" stroke-width="0.35" />
<line x1="295.00" y1="292.50" x2="295.00" y2="297.90" stroke="#c4c4c4" stroke-width="0.35" />
<line x1="258.00" y1="295.40" x2="297.00" y2="295.40" stroke="#c4c4c4" stroke-width="0.35" />
<rect x="296.30" y="292.70" width="2.30" height="5.00" fill="#fff" stroke="#999" stroke-width="0.4" />
<path d="M 259.80 300.10 H 297 V 306.70 H 262.00 Z" fill="#f1f1f1" stroke="#7d7d7d" stroke-width="0.45" />
<line x1="263.20" y1="300.90" x2="263.20" y2="306.30" stroke="#c4c4c4" stroke-width="0.35" />
<line x1="265.35" y1="300.90" x2="265.35" y2="306.30" stroke="#c4c4c4" stroke-width="0.35" />
<line x1="267.50" y1="300.90" x2="267.50" y2="306.30" stroke="#c4c4c4" stroke-width="0.35" />
<line x1="269.65" y1="300.90" x2="269.65" y2="306.30" stroke="#c4c4c4" stroke-width="0.35" />
<line x1="271.80" y1="300.90" x2="271.80" y2="306.30" stroke="#c4c4c4" stroke-width="0.35" />
<line x1="273.95" y1="300.90" x2="273.95" y2="306.30" stroke="#c4c4c4" stroke-width="0.35" />
<line x1="276.10" y1="300.90" x2="276.10" y2="306.30" stroke="#c4c4c4" stroke-width="0.35" />
<line x1="278.25" y1="300.90" x2="278.25" y2="306.30" stroke="#c4c4c4" stroke-width="0.35" />
<line x1="280.40" y1="300.90" x2="280.40" y2="306.30" stroke="#c4c4c4" stroke-width="0.35" />
<line x1="282.55" y1="300.90" x2="282.55" y2="306.30" stroke="#c4c4c4" stroke-width="0.35" />
<line x1="284.70" y1="300.90" x2="284.70" y2="306.30" stroke="#c4c4c4" stroke-width="0.35" />
<line x1="286.85" y1="300.90" x2="286.85" y2="306.30" stroke="#c4c4c4" stroke-width="0.35" />
<line x1="289.00" y1="300.90" x2="289.00" y2="306.30" stroke="#c4c4c4" stroke-width="0.35" />
<line x1="291.15" y1="300.90" x2="291.15" y2="306.30" stroke="#c4c4c4" stroke-width="0.35" />
<line x1="293.30" y1="300.90" x2="293.30" y2="306.30" stroke="#c4c4c4" stroke-width="0.35" />
<line x1="295.45" y1="300.90" x2="295.45" y2="306.30" stroke="#c4c4c4" stroke-width="0.35" />
<line x1="260.80" y1="303.80" x2="297.00" y2="303.80" stroke="#c4c4c4" stroke-width="0.35" />
<rect x="296.30" y="301.10" width="2.30" height="5.00" fill="#fff" stroke="#999" stroke-width="0.4" />
<line x1="298.60" y1="282.40" x2="298.60" y2="308.20" stroke="#cfcfcf" stroke-width="0.35" />
<line x1="300.60" y1="282.40" x2="300.60" y2="308.20" stroke="#cfcfcf" stroke-width="0.35" />
<line x1="302.60" y1="282.40" x2="302.60" y2="308.20" stroke="#cfcfcf" stroke-width="0.35" />
<line x1="304.60" y1="282.40" x2="304.60" y2="308.20" stroke="#cfcfcf" stroke-width="0.35" />
<line x1="298.60" y1="286.50" x2="306.60" y2="286.50" stroke="#cfcfcf" stroke-width="0.35" />
<line x1="298.60" y1="290.70" x2="306.60" y2="290.70" stroke="#cfcfcf" stroke-width="0.35" />
<line x1="298.60" y1="294.90" x2="306.60" y2="294.90" stroke="#cfcfcf" stroke-width="0.35" />
<line x1="298.60" y1="299.10" x2="306.60" y2="299.10" stroke="#cfcfcf" stroke-width="0.35" />
<line x1="298.60" y1="303.30" x2="306.60" y2="303.30" stroke="#cfcfcf" stroke-width="0.35" />
<polygon points="301.60,287.60 305.70,285.10 305.70,290.10" fill="#e9134d"/>
<line x1="306.80" y1="287.60" x2="314.40" y2="287.60" stroke="#f0608a" stroke-width="0.5" stroke-dasharray="2.4 1.5"/>
<text x="309.60" y="297.70" font-size="6.1" fill="#e9134d" text-anchor="middle" font-weight="bold" textLength="35.20" lengthAdjust="spacingAndGlyphs" >AUDITORIUM</text>
<polygon points="314.60,305.00 310.50,302.50 310.50,307.50" fill="#e9134d"/>
<line x1="302.20" y1="305.00" x2="309.40" y2="305.00" stroke="#f0608a" stroke-width="0.5" stroke-dasharray="2.4 1.5"/>
<rect x="43.70" y="142.50" width="103.80" height="54.50" fill="#0c6bb7" stroke="none" stroke-width="0.5" />
<text x="94.20" y="163.40" font-size="10.4" fill="#fff" text-anchor="middle" font-weight="bold" textLength="49.30" lengthAdjust="spacingAndGlyphs" >Aula Vega</text>
<text x="94.20" y="173.80" font-size="8.3" fill="#fff" text-anchor="middle" font-weight="bold" textLength="51.00" lengthAdjust="spacingAndGlyphs" >Multimediale</text>
<text x="94.40" y="185.00" font-size="5" fill="#fff" text-anchor="middle" font-style="italic" textLength="37.20" lengthAdjust="spacingAndGlyphs" >Multimedia Hall</text>
<rect x="507.50" y="142.50" width="79.50" height="54.50" fill="#0c6bb7" stroke="none" stroke-width="0.5" />
<text x="548.50" y="160.80" font-size="10" fill="#fff" text-anchor="middle" font-weight="bold" textLength="56.40" lengthAdjust="spacingAndGlyphs" >Aula Polluce</text>
<text x="548.30" y="169.20" font-size="6.4" fill="#fff" text-anchor="middle" font-weight="bold" textLength="35.00" lengthAdjust="spacingAndGlyphs" >Intelligenza</text>
<text x="548.30" y="178.00" font-size="6.4" fill="#fff" text-anchor="middle" font-weight="bold" textLength="30.00" lengthAdjust="spacingAndGlyphs" >Artificiale</text>
<text x="548.20" y="189.20" font-size="4.9" fill="#fff" text-anchor="middle" font-style="italic" textLength="57.00" lengthAdjust="spacingAndGlyphs" >Artificial Intelligence Hall</text>
<rect x="300.50" y="368.70" width="84.20" height="49.30" fill="#0c6bb7" stroke="none" stroke-width="0.5" />
<text x="343.80" y="386.20" font-size="10.2" fill="#fff" text-anchor="middle" font-weight="bold" textLength="48.30" lengthAdjust="spacingAndGlyphs" >Aula Mizar</text>
<text x="343.80" y="394.20" font-size="6.4" fill="#fff" text-anchor="middle" font-weight="bold" textLength="32.50" lengthAdjust="spacingAndGlyphs" >Radiologia</text>
<text x="343.80" y="401.30" font-size="6.4" fill="#fff" text-anchor="middle" font-weight="bold" textLength="49.90" lengthAdjust="spacingAndGlyphs" >Interventistica 2</text>
<text x="343.80" y="411.70" font-size="4.9" fill="#fff" text-anchor="middle" font-style="italic" textLength="66.50" lengthAdjust="spacingAndGlyphs" >Interventional Radiology Hall</text>
<rect x="398.90" y="385.50" width="79.30" height="32.50" fill="#0c6bb7" stroke="none" stroke-width="0.5" />
<text x="419.40" y="393.00" font-size="5.8" fill="#fff" text-anchor="middle" textLength="31.20" lengthAdjust="spacingAndGlyphs" >Aula Neksar</text>
<text x="419.40" y="398.94" font-size="2.9" fill="#fff" text-anchor="middle" textLength="13.00" lengthAdjust="spacingAndGlyphs" >Laboratorio</text>
<text x="419.40" y="402.64" font-size="2.9" fill="#fff" text-anchor="middle" textLength="26.50" lengthAdjust="spacingAndGlyphs" >Rad. Interventistica</text>
<text x="419.40" y="410.04" font-size="2.9" fill="#fff" text-anchor="middle" font-weight="bold" font-style="italic" textLength="18.00" lengthAdjust="spacingAndGlyphs" >Interventional</text>
<text x="419.40" y="413.84" font-size="2.9" fill="#fff" text-anchor="middle" font-weight="bold" font-style="italic" textLength="27.50" lengthAdjust="spacingAndGlyphs" >Radiology Laboratory</text>
<text x="459.70" y="393.00" font-size="5.8" fill="#fff" text-anchor="middle" textLength="30.30" lengthAdjust="spacingAndGlyphs" >Aula Perseo</text>
<text x="459.70" y="398.94" font-size="2.9" fill="#fff" text-anchor="middle" textLength="13.00" lengthAdjust="spacingAndGlyphs" >Laboratorio</text>
<text x="459.70" y="402.64" font-size="2.9" fill="#fff" text-anchor="middle" textLength="26.50" lengthAdjust="spacingAndGlyphs" >Rad. Interventistica</text>
<text x="459.70" y="410.04" font-size="2.9" fill="#fff" text-anchor="middle" font-weight="bold" font-style="italic" textLength="18.00" lengthAdjust="spacingAndGlyphs" >Interventional</text>
<text x="459.70" y="413.84" font-size="2.9" fill="#fff" text-anchor="middle" font-weight="bold" font-style="italic" textLength="27.50" lengthAdjust="spacingAndGlyphs" >Radiology Laboratory</text>
<rect x="493.00" y="378.70" width="94.00" height="39.30" fill="#0c6bb7" stroke="none" stroke-width="0.5" />
<text x="539.30" y="392.90" font-size="9.8" fill="#fff" text-anchor="middle" font-weight="bold" textLength="56.50" lengthAdjust="spacingAndGlyphs" >Aula Megrez</text>
<text x="539.10" y="401.50" font-size="6.4" fill="#fff" text-anchor="middle" font-weight="bold" textLength="82.80" lengthAdjust="spacingAndGlyphs" >Radiologia Interventistica 1</text>
<text x="538.90" y="412.70" font-size="4.9" fill="#fff" text-anchor="middle" font-style="italic" textLength="65.80" lengthAdjust="spacingAndGlyphs" >Interventional Radiology Hall</text>
<rect x="177.00" y="142.50" width="20.00" height="19.70" fill="#fcf5c6" stroke="#9b9b93" stroke-width="0.6" />
<rect x="177.00" y="162.20" width="20.00" height="39.10" fill="#fcf5c6" stroke="#9b9b93" stroke-width="0.6" />
<rect x="177.00" y="201.30" width="20.00" height="20.00" fill="#fcf5c6" stroke="#9b9b93" stroke-width="0.6" />
<text x="187.00" y="149.65" font-size="5.7" fill="#3a3a3a" text-anchor="middle" >64</text>
<text x="187.00" y="156.96" font-size="2.4" fill="#222" text-anchor="middle" font-weight="bold" textLength="17.50" lengthAdjust="spacingAndGlyphs" >MULTIMEDICAL</text>
<text x="187.00" y="167.85" font-size="5.7" fill="#3a3a3a" text-anchor="middle" textLength="17.50" lengthAdjust="spacingAndGlyphs" >65–66</text>
<text font-size="5.9" fill="#222" text-anchor="middle" font-weight="bold" textLength="10.30" lengthAdjust="spacingAndGlyphs" transform="translate(184.00 185.80) rotate(-90)" y="2.12">ASG</text>
<text font-size="2.4" fill="#222" text-anchor="middle" font-weight="bold" textLength="24.00" lengthAdjust="spacingAndGlyphs" transform="translate(188.40 184.60) rotate(-90)" y="0.86">SUPERCONDUCTORS</text>
<text x="187.00" y="207.85" font-size="5.7" fill="#3a3a3a" text-anchor="middle" >67</text>
<text x="187.00" y="217.60" font-size="5" fill="#222" text-anchor="middle" font-weight="bold" textLength="14.50" lengthAdjust="spacingAndGlyphs" >Voisis</text>
<rect x="216.30" y="142.50" width="40.00" height="19.70" fill="#fcf5c6" stroke="#9b9b93" stroke-width="0.6" />
<text x="228.00" y="149.35" font-size="5.7" fill="#3a3a3a" text-anchor="middle" textLength="16.50" lengthAdjust="spacingAndGlyphs" >01–02</text>
<text x="231.20" y="158.36" font-size="4.6" fill="#222" text-anchor="middle" font-weight="bold" textLength="23.30" lengthAdjust="spacingAndGlyphs" >GMS MED</text>
<path d="M 218.3 177 H 260.8 V 184.5 H 238 V 201.3 H 218.3 Z" fill="#fff" stroke="#9b9b93" stroke-width="0.6" />
<rect x="238.00" y="184.50" width="22.80" height="36.80" fill="#fff" stroke="#9a9a9a" stroke-width="0.6" />
<rect x="239.60" y="186.00" width="19.60" height="33.80" fill="none" stroke="#c0c0c0" stroke-width="0.4" />
<rect x="241.00" y="187.20" width="16.80" height="31.20" fill="none" stroke="#d0d0d0" stroke-width="0.4" />
<line x1="241.00" y1="203.00" x2="257.80" y2="203.00" stroke="#d0d0d0" stroke-width="0.4" />
<line x1="239.60" y1="205.20" x2="259.20" y2="205.20" stroke="#d0d0d0" stroke-width="0.4" />
<line x1="239.60" y1="188.40" x2="259.20" y2="188.40" stroke="#d6d6d6" stroke-width="0.4" />
<line x1="239.60" y1="216.80" x2="259.20" y2="216.80" stroke="#d6d6d6" stroke-width="0.4" />
<line x1="256.60" y1="186.00" x2="256.60" y2="219.80" stroke="#d6d6d6" stroke-width="0.4" />
<line x1="242.20" y1="186.00" x2="242.20" y2="219.80" stroke="#d6d6d6" stroke-width="0.4" />
<rect x="218.30" y="201.30" width="19.70" height="20.00" fill="#fcf5c6" stroke="#9b9b93" stroke-width="0.6" />
<text x="229.20" y="185.55" font-size="5.7" fill="#3a3a3a" text-anchor="middle" >61</text>
<text x="229.50" y="209.55" font-size="5.7" fill="#3a3a3a" text-anchor="middle" >62</text>
<text x="229.00" y="217.56" font-size="4.9" fill="#222" text-anchor="middle" font-weight="bold" textLength="16.50" lengthAdjust="spacingAndGlyphs" >Biolive</text>
<rect x="275.80" y="142.50" width="19.70" height="58.80" fill="#fcf5c6" stroke="#9b9b93" stroke-width="0.6" />
<rect x="295.50" y="142.50" width="19.80" height="58.80" fill="#fcf5c6" stroke="#9b9b93" stroke-width="0.6" />
<rect x="275.80" y="201.30" width="39.50" height="20.00" fill="#fcf5c6" stroke="#9b9b93" stroke-width="0.6" />
<text x="285.70" y="149.25" font-size="5.7" fill="#3a3a3a" text-anchor="middle" textLength="17.00" lengthAdjust="spacingAndGlyphs" >3–4–5</text>
<text x="305.50" y="149.25" font-size="5.7" fill="#3a3a3a" text-anchor="middle" textLength="17.00" lengthAdjust="spacingAndGlyphs" >7–8–9</text>
<text font-size="4.5" fill="#222" text-anchor="middle" font-weight="bold" textLength="39.00" lengthAdjust="spacingAndGlyphs" transform="translate(281.50 175.40) rotate(-90)" y="1.62">DentalNetwork</text>
<text font-size="4.5" fill="#222" text-anchor="middle" textLength="35.00" lengthAdjust="spacingAndGlyphs" transform="translate(287.40 176.70) rotate(-90)" y="1.62">(Planmeca OY)</text>
<text font-size="7.2" fill="#222" text-anchor="middle" font-weight="bold" textLength="16.00" lengthAdjust="spacingAndGlyphs" transform="translate(305.00 175.30) rotate(-90)" y="2.59">Fora</text>
<text x="295.50" y="208.35" font-size="5.7" fill="#3a3a3a" text-anchor="middle" textLength="16.50" lengthAdjust="spacingAndGlyphs" >06–10</text>
<text x="295.50" y="213.32" font-size="4.5" fill="#222" text-anchor="middle" font-weight="bold" textLength="15.50" lengthAdjust="spacingAndGlyphs" >Primax</text>
<text x="295.50" y="218.32" font-size="4.5" fill="#222" text-anchor="middle" font-weight="bold" textLength="32.50" lengthAdjust="spacingAndGlyphs" >International</text>
<rect x="334.70" y="142.50" width="40.00" height="58.80" fill="#fcf5c6" stroke="#9b9b93" stroke-width="0.6" />
<rect x="334.70" y="201.30" width="40.00" height="20.00" fill="#fcf5c6" stroke="#9b9b93" stroke-width="0.6" />
<text x="355.00" y="149.25" font-size="5.7" fill="#3a3a3a" text-anchor="middle" textLength="13.00" lengthAdjust="spacingAndGlyphs" >11/17</text>
<text x="355.50" y="178.46" font-size="7.4" fill="#222" text-anchor="middle" font-weight="bold" textLength="15.50" lengthAdjust="spacingAndGlyphs" >Fora</text>
<text x="355.00" y="208.05" font-size="5.7" fill="#3a3a3a" text-anchor="middle" textLength="15.50" lengthAdjust="spacingAndGlyphs" >14–18</text>
<text x="355.20" y="218.22" font-size="4.5" fill="#222" text-anchor="middle" font-weight="bold" textLength="31.50" lengthAdjust="spacingAndGlyphs" >Metaltronica</text>
<rect x="394.20" y="142.50" width="19.50" height="59.20" fill="#fcf5c6" stroke="#9b9b93" stroke-width="0.6" />
<rect x="394.20" y="201.70" width="19.50" height="19.60" fill="#fcf5c6" stroke="#9b9b93" stroke-width="0.6" />
<rect x="413.70" y="142.50" width="20.00" height="19.70" fill="#fcf5c6" stroke="#9b9b93" stroke-width="0.6" />
<rect x="413.70" y="162.20" width="20.00" height="19.50" fill="#fcf5c6" stroke="#9b9b93" stroke-width="0.6" />
<rect x="413.70" y="181.70" width="20.00" height="20.00" fill="#fcf5c6" stroke="#9b9b93" stroke-width="0.6" />
<rect x="453.70" y="142.50" width="19.30" height="28.80" fill="#fcf5c6" stroke="#9b9b93" stroke-width="0.6" />
<rect x="453.70" y="171.30" width="19.30" height="10.40" fill="#fcf5c6" stroke="#9b9b93" stroke-width="0.6" />
<rect x="453.70" y="181.70" width="19.30" height="20.00" fill="#fcf5c6" stroke="#9b9b93" stroke-width="0.6" />
<rect x="473.00" y="142.50" width="20.30" height="19.70" fill="#fcf5c6" stroke="#9b9b93" stroke-width="0.6" />
<rect x="473.00" y="182.50" width="20.30" height="19.20" fill="#fcf5c6" stroke="#9b9b93" stroke-width="0.6" />
<text x="404.00" y="148.79" font-size="5.8" fill="#c8192f" text-anchor="middle" textLength="11.60" lengthAdjust="spacingAndGlyphs" >AI01</text>
<text x="404.00" y="155.39" font-size="5.8" fill="#c8192f" text-anchor="middle" textLength="11.60" lengthAdjust="spacingAndGlyphs" >AI03</text>
<text x="404.00" y="162.09" font-size="5.8" fill="#c8192f" text-anchor="middle" textLength="11.60" lengthAdjust="spacingAndGlyphs" >AI05</text>
<text font-size="4.4" fill="#222" text-anchor="middle" font-weight="bold" textLength="19.50" lengthAdjust="spacingAndGlyphs" transform="translate(404.00 182.50) rotate(-90)" y="1.58">Exprivia</text>
<text x="423.70" y="148.79" font-size="5.8" fill="#c8192f" text-anchor="middle" textLength="11.60" lengthAdjust="spacingAndGlyphs" >AI02</text>
<text x="423.90" y="158.50" font-size="5" fill="#222" text-anchor="middle" font-weight="bold" textLength="18.80" lengthAdjust="spacingAndGlyphs" >Mediaire</text>
<text x="423.70" y="168.49" font-size="5.8" fill="#c8192f" text-anchor="middle" textLength="11.60" lengthAdjust="spacingAndGlyphs" >AI04</text>
<text x="423.70" y="179.16" font-size="4.6" fill="#222" text-anchor="middle" font-weight="bold" textLength="11.00" lengthAdjust="spacingAndGlyphs" >BOMI</text>
<text x="423.70" y="188.29" font-size="5.8" fill="#c8192f" text-anchor="middle" textLength="11.60" lengthAdjust="spacingAndGlyphs" >AI06</text>
<text x="423.70" y="194.85" font-size="4.3" fill="#222" text-anchor="middle" font-weight="bold" textLength="13.50" lengthAdjust="spacingAndGlyphs" >Envea–</text>
<text x="423.70" y="199.55" font-size="4.3" fill="#222" text-anchor="middle" font-weight="bold" textLength="9.00" lengthAdjust="spacingAndGlyphs" >Esse</text>
<text x="404.00" y="208.39" font-size="5.8" fill="#c8192f" text-anchor="middle" textLength="11.60" lengthAdjust="spacingAndGlyphs" >AI07</text>
<text x="404.00" y="217.88" font-size="3" fill="#222" text-anchor="middle" font-weight="bold" textLength="14.50" lengthAdjust="spacingAndGlyphs" >Tecsa nous</text>
<text x="463.30" y="148.39" font-size="5.8" fill="#c8192f" text-anchor="middle" textLength="11.60" lengthAdjust="spacingAndGlyphs" >AI08</text>
<text font-size="2.7" fill="#222" text-anchor="middle" font-weight="bold" textLength="14.50" lengthAdjust="spacingAndGlyphs" transform="translate(461.50 160.50) rotate(-90)" y="0.97">DeepTrace</text>
<text font-size="2.7" fill="#222" text-anchor="middle" font-weight="bold" textLength="15.50" lengthAdjust="spacingAndGlyphs" transform="translate(465.00 160.50) rotate(-90)" y="0.97">Technologies</text>
<text x="463.30" y="176.09" font-size="5.8" fill="#c8192f" text-anchor="middle" textLength="11.60" lengthAdjust="spacingAndGlyphs" >AI09</text>
<text x="463.30" y="180.42" font-size="4.5" fill="#222" text-anchor="middle" font-weight="bold" textLength="17.50" lengthAdjust="spacingAndGlyphs" >Quantib</text>
<text x="463.30" y="187.89" font-size="5.8" fill="#c8192f" text-anchor="middle" textLength="11.60" lengthAdjust="spacingAndGlyphs" >AI10</text>
<text x="463.30" y="199.16" font-size="4.6" fill="#222" text-anchor="middle" font-weight="bold" textLength="15.50" lengthAdjust="spacingAndGlyphs" >Esaote</text>
<text x="483.20" y="148.79" font-size="5.8" fill="#c8192f" text-anchor="middle" textLength="11.60" lengthAdjust="spacingAndGlyphs" >AI11</text>
<text x="483.20" y="157.02" font-size="3.4" fill="#222" text-anchor="middle" font-weight="bold" textLength="18.00" lengthAdjust="spacingAndGlyphs" >Teleda Ser.</text>
<text x="483.20" y="160.92" font-size="3.4" fill="#222" text-anchor="middle" font-weight="bold" textLength="17.50" lengthAdjust="spacingAndGlyphs" >Tecnologie</text>
<text x="482.60" y="172.89" font-size="5.8" fill="#c8192f" text-anchor="middle" textLength="11.60" lengthAdjust="spacingAndGlyphs" >AI12</text>
<text x="483.20" y="189.09" font-size="5.8" fill="#c8192f" text-anchor="middle" textLength="11.60" lengthAdjust="spacingAndGlyphs" >AI13</text>
<text x="483.20" y="199.19" font-size="4.7" fill="#222" text-anchor="middle" font-weight="bold" textLength="18.50" lengthAdjust="spacingAndGlyphs" >Siemens</text>
<rect x="117.50" y="250.30" width="79.50" height="20.00" fill="#fcf5c6" stroke="#9b9b93" stroke-width="0.6" />
<text x="133.40" y="257.85" font-size="5.7" fill="#3a3a3a" text-anchor="middle" textLength="15.50" lengthAdjust="spacingAndGlyphs" >31–32</text>
<text x="179.20" y="257.85" font-size="5.7" fill="#3a3a3a" text-anchor="middle" textLength="16.00" lengthAdjust="spacingAndGlyphs" >29–30</text>
<text x="156.70" y="266.86" font-size="6" fill="#222" text-anchor="middle" font-weight="bold" textLength="45.50" lengthAdjust="spacingAndGlyphs" >Trade Art 2000</text>
<rect x="117.50" y="289.70" width="20.00" height="39.50" fill="#fcf5c6" stroke="#9b9b93" stroke-width="0.6" />
<rect x="137.50" y="289.70" width="20.00" height="19.50" fill="#fcf5c6" stroke="#9b9b93" stroke-width="0.6" />
<rect x="157.50" y="289.70" width="20.00" height="19.50" fill="#fcf5c6" stroke="#9b9b93" stroke-width="0.6" />
<rect x="137.50" y="309.20" width="40.00" height="20.00" fill="#fcf5c6" stroke="#9b9b93" stroke-width="0.6" />
<rect x="177.50" y="289.70" width="19.50" height="39.50" fill="#fcf5c6" stroke="#9b9b93" stroke-width="0.6" />
<text x="127.50" y="296.25" font-size="5.7" fill="#3a3a3a" text-anchor="middle" textLength="16.50" lengthAdjust="spacingAndGlyphs" >33–40</text>
<text x="147.50" y="296.25" font-size="5.7" fill="#3a3a3a" text-anchor="middle" >34</text>
<text x="167.50" y="296.25" font-size="5.7" fill="#3a3a3a" text-anchor="middle" >35</text>
<text x="187.20" y="296.25" font-size="5.7" fill="#3a3a3a" text-anchor="middle" textLength="16.50" lengthAdjust="spacingAndGlyphs" >36–37</text>
<text font-size="4.3" fill="#222" text-anchor="middle" font-weight="bold" textLength="19.00" lengthAdjust="spacingAndGlyphs" transform="translate(124.20 317.50) rotate(-90)" y="1.55">Emmedi</text>
<text font-size="4.3" fill="#222" text-anchor="middle" font-weight="bold" textLength="27.50" lengthAdjust="spacingAndGlyphs" transform="translate(130.90 313.30) rotate(-90)" y="1.55">Instruments</text>
<text x="147.50" y="301.63" font-size="4.8" fill="#222" text-anchor="middle" font-weight="bold" textLength="9.80" lengthAdjust="spacingAndGlyphs" >UBT</text>
<text x="147.50" y="307.53" font-size="4.8" fill="#222" text-anchor="middle" font-weight="bold" textLength="11.00" lengthAdjust="spacingAndGlyphs" >Tech</text>
<text x="167.50" y="304.67" font-size="3.8" fill="#222" text-anchor="middle" font-weight="bold" textLength="18.40" lengthAdjust="spacingAndGlyphs" >Datamatic</text>
<text x="157.40" y="316.75" font-size="5.7" fill="#3a3a3a" text-anchor="middle" textLength="16.00" lengthAdjust="spacingAndGlyphs" >38–39</text>
<text x="157.30" y="326.58" font-size="6.6" fill="#222" text-anchor="middle" font-weight="bold" textLength="19.00" lengthAdjust="spacingAndGlyphs" >Andra</text>
<text font-size="3.9" fill="#222" text-anchor="middle" textLength="13.00" lengthAdjust="spacingAndGlyphs" transform="translate(184.70 320.00) rotate(-90)" y="1.40">Devicor</text>
<text font-size="4.1" fill="#222" text-anchor="middle" font-weight="bold" textLength="26.00" lengthAdjust="spacingAndGlyphs" transform="translate(190.20 312.50) rotate(-90)" y="1.48">Mammotome</text>
<rect x="41.30" y="282.50" width="20.00" height="39.20" fill="#fcf5c6" stroke="#9b9b93" stroke-width="0.6" />
<text x="51.30" y="289.85" font-size="5.7" fill="#3a3a3a" text-anchor="middle" textLength="16.00" lengthAdjust="spacingAndGlyphs" >41–42</text>
<text font-size="4.9" fill="#222" text-anchor="middle" font-weight="bold" textLength="13.70" lengthAdjust="spacingAndGlyphs" transform="translate(47.60 311.60) rotate(-90)" y="1.76">Ziehm</text>
<text font-size="4.9" fill="#222" text-anchor="middle" font-weight="bold" textLength="20.40" lengthAdjust="spacingAndGlyphs" transform="translate(55.00 308.40) rotate(90)" y="1.76">Imaging</text>
<rect x="216.30" y="250.00" width="19.70" height="20.00" fill="#fcf5c6" stroke="#9b9b93" stroke-width="0.6" />
<rect x="236.00" y="250.00" width="19.80" height="20.00" fill="#fcf5c6" stroke="#9b9b93" stroke-width="0.6" />
<rect x="255.80" y="250.00" width="19.70" height="20.00" fill="#fcf5c6" stroke="#9b9b93" stroke-width="0.6" />
<rect x="275.50" y="250.00" width="20.50" height="20.00" fill="#fcf5c6" stroke="#9b9b93" stroke-width="0.6" />
<rect x="216.30" y="270.00" width="19.70" height="39.40" fill="#fcf5c6" stroke="#9b9b93" stroke-width="0.6" />
<rect x="216.30" y="309.40" width="39.70" height="20.10" fill="#fcf5c6" stroke="#9b9b93" stroke-width="0.6" />
<rect x="256.00" y="309.40" width="40.00" height="20.10" fill="#fcf5c6" stroke="#9b9b93" stroke-width="0.6" />
<text x="226.20" y="258.45" font-size="5.7" fill="#3a3a3a" text-anchor="middle" >22</text>
<text x="246.00" y="258.05" font-size="5.7" fill="#3a3a3a" text-anchor="middle" >21</text>
<text x="265.70" y="258.05" font-size="5.7" fill="#3a3a3a" text-anchor="middle" >20</text>
<text x="285.70" y="258.45" font-size="5.7" fill="#3a3a3a" text-anchor="middle" >19</text>
<text x="226.20" y="267.26" font-size="4.9" fill="#222" text-anchor="middle" font-weight="bold" textLength="10.00" lengthAdjust="spacingAndGlyphs" >Eizo</text>
<text x="246.00" y="267.26" font-size="4.9" fill="#222" text-anchor="middle" font-weight="bold" textLength="19.50" lengthAdjust="spacingAndGlyphs" >Telemis</text>
<text x="265.90" y="267.26" font-size="4.9" fill="#222" text-anchor="middle" font-weight="bold" textLength="18.00" lengthAdjust="spacingAndGlyphs" >Beacon</text>
<text x="285.80" y="267.46" font-size="4.9" fill="#222" text-anchor="middle" font-weight="bold" textLength="16.50" lengthAdjust="spacingAndGlyphs" >Italray</text>
<text x="226.30" y="276.75" font-size="5.7" fill="#3a3a3a" text-anchor="middle" textLength="16.50" lengthAdjust="spacingAndGlyphs" >23–24</text>
<text font-size="4.2" fill="#222" text-anchor="middle" font-weight="bold" textLength="29.00" lengthAdjust="spacingAndGlyphs" transform="translate(223.40 293.00) rotate(-90)" y="1.51">GS Enterprise</text>
<text font-size="4.2" fill="#222" text-anchor="middle" font-weight="bold" textLength="21.00" lengthAdjust="spacingAndGlyphs" transform="translate(228.80 296.30) rotate(-90)" y="1.51">Medishare</text>
<text x="236.20" y="316.05" font-size="5.7" fill="#3a3a3a" text-anchor="middle" textLength="16.50" lengthAdjust="spacingAndGlyphs" >25–26</text>
<text x="236.30" y="321.22" font-size="4.5" fill="#222" text-anchor="middle" font-weight="bold" textLength="30.50" lengthAdjust="spacingAndGlyphs" >Villa Sistemi</text>
<text x="236.50" y="327.12" font-size="4.5" fill="#222" text-anchor="middle" font-weight="bold" textLength="21.00" lengthAdjust="spacingAndGlyphs" >Medicali</text>
<text x="275.80" y="316.05" font-size="5.7" fill="#3a3a3a" text-anchor="middle" textLength="16.00" lengthAdjust="spacingAndGlyphs" >27–28</text>
<text x="276.40" y="326.02" font-size="4.5" fill="#222" text-anchor="middle" font-weight="bold" textLength="24.50" lengthAdjust="spacingAndGlyphs" >MDA Tech</text>
<rect x="334.50" y="249.50" width="40.00" height="20.00" fill="#fcf5c6" stroke="#9b9b93" stroke-width="0.6" />
<rect x="374.50" y="249.50" width="19.70" height="20.00" fill="#fcf5c6" stroke="#9b9b93" stroke-width="0.6" />
<rect x="394.20" y="249.50" width="19.60" height="20.00" fill="#fcf5c6" stroke="#9b9b93" stroke-width="0.6" />
<rect x="334.50" y="289.50" width="20.00" height="19.70" fill="#fcf5c6" stroke="#9b9b93" stroke-width="0.6" />
<rect x="354.50" y="289.50" width="20.00" height="19.70" fill="#fcf5c6" stroke="#9b9b93" stroke-width="0.6" />
<rect x="374.50" y="289.50" width="19.70" height="19.70" fill="#fcf5c6" stroke="#9b9b93" stroke-width="0.6" />
<rect x="394.20" y="289.50" width="19.60" height="19.70" fill="#fcf5c6" stroke="#9b9b93" stroke-width="0.6" />
<rect x="334.50" y="309.20" width="20.00" height="20.00" fill="#fcf5c6" stroke="#9b9b93" stroke-width="0.6" />
<rect x="354.50" y="309.20" width="20.00" height="20.00" fill="#fcf5c6" stroke="#9b9b93" stroke-width="0.6" />
<rect x="374.50" y="309.20" width="19.70" height="20.00" fill="#fcf5c6" stroke="#9b9b93" stroke-width="0.6" />
<rect x="394.20" y="309.20" width="19.60" height="20.00" fill="#fcf5c6" stroke="#9b9b93" stroke-width="0.6" />
<text x="344.50" y="257.02" font-size="5.6" fill="#1e82c8" text-anchor="middle" textLength="11.20" lengthAdjust="spacingAndGlyphs" >RI01</text>
<text x="364.30" y="257.02" font-size="5.6" fill="#1e82c8" text-anchor="middle" textLength="11.20" lengthAdjust="spacingAndGlyphs" >RI02</text>
<text x="384.30" y="257.02" font-size="5.6" fill="#1e82c8" text-anchor="middle" textLength="11.20" lengthAdjust="spacingAndGlyphs" >RI03</text>
<text x="404.00" y="257.02" font-size="5.6" fill="#1e82c8" text-anchor="middle" textLength="11.20" lengthAdjust="spacingAndGlyphs" >RI04</text>
<text x="354.30" y="265.88" font-size="4.4" fill="#222" text-anchor="middle" font-weight="bold" textLength="26.50" lengthAdjust="spacingAndGlyphs" >MEDTRONIC</text>
<text x="384.30" y="265.88" font-size="4.4" fill="#222" text-anchor="middle" font-weight="bold" textLength="14.50" lengthAdjust="spacingAndGlyphs" >CANON</text>
<text x="404.00" y="265.17" font-size="3.8" fill="#222" text-anchor="middle" font-weight="bold" textLength="15.50" lengthAdjust="spacingAndGlyphs" >Crossmed</text>
<text x="344.50" y="296.72" font-size="5.6" fill="#1e82c8" text-anchor="middle" textLength="11.20" lengthAdjust="spacingAndGlyphs" >RI05</text>
<text x="344.50" y="305.64" font-size="4.0" fill="#222" text-anchor="middle" font-weight="bold" textLength="17.50" lengthAdjust="spacingAndGlyphs" >ABMEDICA</text>
<text x="364.50" y="296.72" font-size="5.6" fill="#1e82c8" text-anchor="middle" textLength="11.20" lengthAdjust="spacingAndGlyphs" >RI06</text>
<text x="364.50" y="305.64" font-size="4.0" fill="#222" text-anchor="middle" font-weight="bold" textLength="18.50" lengthAdjust="spacingAndGlyphs" >BIOTRONIK</text>
<text x="384.35" y="296.72" font-size="5.6" fill="#1e82c8" text-anchor="middle" textLength="11.20" lengthAdjust="spacingAndGlyphs" >RI07</text>
<text x="384.35" y="305.64" font-size="4.0" fill="#222" text-anchor="middle" font-weight="bold" textLength="15.00" lengthAdjust="spacingAndGlyphs" >CARDIVA</text>
<text x="404.00" y="296.72" font-size="5.6" fill="#1e82c8" text-anchor="middle" textLength="11.20" lengthAdjust="spacingAndGlyphs" >RI08</text>
<text x="404.00" y="302.96" font-size="3.5" fill="#222" text-anchor="middle" font-weight="bold" textLength="3.60" lengthAdjust="spacingAndGlyphs" >GE</text>
<text x="404.00" y="306.76" font-size="3.5" fill="#222" text-anchor="middle" font-weight="bold" textLength="17.50" lengthAdjust="spacingAndGlyphs" >HEALTHCARE</text>
<text x="344.50" y="315.72" font-size="5.6" fill="#1e82c8" text-anchor="middle" textLength="11.20" lengthAdjust="spacingAndGlyphs" >RI09</text>
<text x="344.50" y="324.28" font-size="4.1" fill="#222" text-anchor="middle" font-weight="bold" textLength="10.50" lengthAdjust="spacingAndGlyphs" >BARD</text>
<text x="364.50" y="315.72" font-size="5.6" fill="#1e82c8" text-anchor="middle" textLength="11.20" lengthAdjust="spacingAndGlyphs" >RI10</text>
<text x="364.50" y="324.28" font-size="4.1" fill="#222" text-anchor="middle" font-weight="bold" textLength="17.00" lengthAdjust="spacingAndGlyphs" >MASMEC</text>
<text x="384.35" y="315.72" font-size="5.6" fill="#1e82c8" text-anchor="middle" textLength="11.20" lengthAdjust="spacingAndGlyphs" >RI11</text>
<text x="384.35" y="324.28" font-size="4.1" fill="#222" text-anchor="middle" font-weight="bold" textLength="8.00" lengthAdjust="spacingAndGlyphs" >IBSA</text>
<text x="404.00" y="315.72" font-size="5.6" fill="#1e82c8" text-anchor="middle" textLength="11.20" lengthAdjust="spacingAndGlyphs" >RI12</text>
<text x="404.00" y="324.28" font-size="4.1" fill="#222" text-anchor="middle" font-weight="bold" textLength="14.00" lengthAdjust="spacingAndGlyphs" >Terumo</text>
<rect x="58.30" y="359.20" width="40.00" height="19.10" fill="#fcf5c6" stroke="#9b9b93" stroke-width="0.6" />
<rect x="58.30" y="378.30" width="40.00" height="39.70" fill="#fcf5c6" stroke="#9b9b93" stroke-width="0.6" />
<rect x="115.30" y="359.20" width="39.70" height="19.10" fill="#fcf5c6" stroke="#9b9b93" stroke-width="0.6" />
<rect x="115.30" y="378.30" width="39.70" height="39.70" fill="#fcf5c6" stroke="#9b9b93" stroke-width="0.6" />
<text x="78.30" y="365.35" font-size="5.7" fill="#3a3a3a" text-anchor="middle" textLength="16.50" lengthAdjust="spacingAndGlyphs" >57–60</text>
<text x="78.30" y="371.10" font-size="5" fill="#222" text-anchor="middle" font-weight="bold" textLength="31.50" lengthAdjust="spacingAndGlyphs" >Performance</text>
<text x="78.30" y="376.80" font-size="5" fill="#222" text-anchor="middle" font-weight="bold" textLength="20.50" lengthAdjust="spacingAndGlyphs" >Hospital</text>
<text x="78.30" y="387.55" font-size="5.7" fill="#3a3a3a" text-anchor="middle" textLength="37.00" lengthAdjust="spacingAndGlyphs" >55–56–58–59</text>
<text x="78.30" y="398.46" font-size="4.9" fill="#222" text-anchor="middle" font-weight="bold" textLength="16.00" lengthAdjust="spacingAndGlyphs" >Global</text>
<text x="78.30" y="404.26" font-size="4.9" fill="#222" text-anchor="middle" font-weight="bold" textLength="27.00" lengthAdjust="spacingAndGlyphs" >Biomedical</text>
<text x="78.30" y="410.06" font-size="4.9" fill="#222" text-anchor="middle" font-weight="bold" textLength="18.50" lengthAdjust="spacingAndGlyphs" >Service</text>
<text x="135.20" y="364.55" font-size="5.7" fill="#3a3a3a" text-anchor="middle" textLength="16.50" lengthAdjust="spacingAndGlyphs" >51–54</text>
<text x="135.20" y="370.30" font-size="5" fill="#222" text-anchor="middle" font-weight="bold" textLength="31.50" lengthAdjust="spacingAndGlyphs" >Performance</text>
<text x="135.20" y="376.00" font-size="5" fill="#222" text-anchor="middle" font-weight="bold" textLength="20.50" lengthAdjust="spacingAndGlyphs" >Hospital</text>
<text x="135.20" y="386.75" font-size="5.7" fill="#3a3a3a" text-anchor="middle" textLength="37.00" lengthAdjust="spacingAndGlyphs" >49–50–52–53</text>
<text x="135.20" y="397.66" font-size="4.9" fill="#222" text-anchor="middle" font-weight="bold" textLength="16.00" lengthAdjust="spacingAndGlyphs" >Global</text>
<text x="135.20" y="403.46" font-size="4.9" fill="#222" text-anchor="middle" font-weight="bold" textLength="27.00" lengthAdjust="spacingAndGlyphs" >Biomedical</text>
<text x="135.20" y="409.26" font-size="4.9" fill="#222" text-anchor="middle" font-weight="bold" textLength="18.50" lengthAdjust="spacingAndGlyphs" >Service</text>
<rect x="174.50" y="359.20" width="40.00" height="19.10" fill="#fcf5c6" stroke="#9b9b93" stroke-width="0.6" />
<rect x="174.50" y="378.30" width="20.00" height="20.00" fill="#fcf5c6" stroke="#9b9b93" stroke-width="0.6" />
<rect x="194.50" y="378.30" width="20.00" height="20.00" fill="#c7e8ee" stroke="#9b9b93" stroke-width="0.6" />
<rect x="174.50" y="398.30" width="40.00" height="19.70" fill="#fcf5c6" stroke="#9b9b93" stroke-width="0.6" />
<text x="194.50" y="366.25" font-size="5.7" fill="#3a3a3a" text-anchor="middle" textLength="16.50" lengthAdjust="spacingAndGlyphs" >43–46</text>
<text x="194.70" y="375.67" font-size="5.2" fill="#222" text-anchor="middle" font-weight="bold" textLength="36.00" lengthAdjust="spacingAndGlyphs" >Media Support</text>
<text x="184.30" y="385.85" font-size="5.7" fill="#3a3a3a" text-anchor="middle" >47</text>
<text x="184.50" y="391.37" font-size="3.8" fill="#222" text-anchor="middle" font-weight="bold" textLength="12.50" lengthAdjust="spacingAndGlyphs" >Digitec</text>
<text x="184.50" y="396.07" font-size="3.8" fill="#222" text-anchor="middle" font-weight="bold" textLength="19.30" lengthAdjust="spacingAndGlyphs" >Innovation</text>
<text x="204.50" y="390.75" font-size="5.7" fill="#3a3a3a" text-anchor="middle" >44</text>
<text x="194.50" y="405.85" font-size="5.7" fill="#3a3a3a" text-anchor="middle" textLength="17.00" lengthAdjust="spacingAndGlyphs" >45–48</text>
<text x="193.70" y="414.10" font-size="5" fill="#222" text-anchor="middle" font-weight="bold" textLength="13.00" lengthAdjust="spacingAndGlyphs" >Anke</text>
<rect x="233.80" y="359.20" width="39.50" height="19.10" fill="#fcf5c6" stroke="#9b9b93" stroke-width="0.6" />
<rect x="233.80" y="378.30" width="19.50" height="20.00" fill="#c7e8ee" stroke="#9b9b93" stroke-width="0.6" />
<rect x="233.80" y="398.30" width="19.50" height="19.70" fill="#c7e8ee" stroke="#9b9b93" stroke-width="0.6" />
<rect x="253.30" y="378.30" width="20.00" height="39.70" fill="#fcf5c6" stroke="#9b9b93" stroke-width="0.6" />
<text x="242.20" y="365.50" font-size="5" fill="#1e82c8" text-anchor="middle" textLength="10.00" lengthAdjust="spacingAndGlyphs" >RI13</text>
<text x="263.30" y="365.50" font-size="5" fill="#1e82c8" text-anchor="middle" textLength="10.00" lengthAdjust="spacingAndGlyphs" >RI14</text>
<text x="253.50" y="375.53" font-size="6.2" fill="#222" text-anchor="middle" textLength="7.50" lengthAdjust="spacingAndGlyphs" >LG</text>
<text x="243.20" y="389.30" font-size="5" fill="#1e82c8" text-anchor="middle" textLength="10.00" lengthAdjust="spacingAndGlyphs" >RI15</text>
<text x="243.20" y="411.00" font-size="5" fill="#1e82c8" text-anchor="middle" textLength="10.00" lengthAdjust="spacingAndGlyphs" >RI17</text>
<text x="263.30" y="384.80" font-size="5" fill="#1e82c8" text-anchor="middle" textLength="10.00" lengthAdjust="spacingAndGlyphs" >RI16</text>
<text x="263.30" y="416.30" font-size="5" fill="#1e82c8" text-anchor="middle" textLength="10.00" lengthAdjust="spacingAndGlyphs" >RI18</text>
<text font-size="5" fill="#222" text-anchor="middle" textLength="10.50" lengthAdjust="spacingAndGlyphs" transform="translate(262.40 398.30) rotate(90)" y="1.80">PHS</text>
<rect x="169.60" y="194.60" width="2.80" height="2.60" fill="#dedede" stroke="#bdbdbd" stroke-width="0.4" />
<rect x="208.60" y="194.60" width="2.80" height="2.60" fill="#dedede" stroke="#bdbdbd" stroke-width="0.4" />
<rect x="375.00" y="194.00" width="3.30" height="5.00" fill="#dedede" stroke="#bdbdbd" stroke-width="0.4" />
<rect x="438.60" y="194.00" width="2.60" height="3.00" fill="#dedede" stroke="#bdbdbd" stroke-width="0.4" />
<rect x="86.00" y="280.40" width="3.20" height="2.40" fill="#dedede" stroke="#bdbdbd" stroke-width="0.4" />
<rect x="129.30" y="280.60" width="3.00" height="2.40" fill="#dedede" stroke="#bdbdbd" stroke-width="0.4" />
<rect x="169.20" y="280.60" width="3.00" height="2.40" fill="#dedede" stroke="#bdbdbd" stroke-width="0.4" />
<rect x="208.60" y="280.60" width="2.80" height="2.40" fill="#dedede" stroke="#bdbdbd" stroke-width="0.4" />
<rect x="248.70" y="281.00" width="3.30" height="2.50" fill="#dedede" stroke="#bdbdbd" stroke-width="0.4" />
<rect x="287.70" y="271.80" width="3.60" height="5.60" fill="#dedede" stroke="#bdbdbd" stroke-width="0.4" />
<rect x="374.50" y="277.40" width="4.20" height="5.90" fill="#dedede" stroke="#bdbdbd" stroke-width="0.4" />
<rect x="414.40" y="279.60" width="4.00" height="4.00" fill="#dedede" stroke="#bdbdbd" stroke-width="0.4" />
<rect x="287.90" y="360.00" width="3.60" height="6.20" fill="#dedede" stroke="#bdbdbd" stroke-width="0.4" />
<rect x="374.80" y="360.80" width="3.70" height="5.60" fill="#dedede" stroke="#bdbdbd" stroke-width="0.4" />
<rect x="168.80" y="363.40" width="3.20" height="2.60" fill="#dedede" stroke="#bdbdbd" stroke-width="0.4" />
<rect x="415.00" y="363.40" width="3.00" height="2.80" fill="#dedede" stroke="#bdbdbd" stroke-width="0.4" />
<rect x="438.60" y="363.40" width="3.00" height="2.80" fill="#dedede" stroke="#bdbdbd" stroke-width="0.4" />
<rect x="518.00" y="363.40" width="3.00" height="2.80" fill="#dedede" stroke="#bdbdbd" stroke-width="0.4" />
<line x1="232.00" y1="134.20" x2="238.00" y2="134.20" stroke="#1a1a1a" stroke-width="0.55" />
<polygon points="238.40,134.20 235.12,135.37 235.12,133.03" fill="#1a1a1a"/>
<line x1="291.30" y1="135.40" x2="297.50" y2="135.40" stroke="#1a1a1a" stroke-width="0.55" />
<polygon points="297.90,135.40 294.62,136.57 294.62,134.23" fill="#1a1a1a"/>
<line x1="351.30" y1="135.40" x2="357.00" y2="135.40" stroke="#1a1a1a" stroke-width="0.55" />
<polygon points="357.40,135.40 354.12,136.57 354.12,134.23" fill="#1a1a1a"/>
<line x1="407.50" y1="135.30" x2="413.00" y2="135.30" stroke="#1a1a1a" stroke-width="0.55" />
<polygon points="413.40,135.30 410.12,136.47 410.12,134.13" fill="#1a1a1a"/>
<line x1="466.70" y1="135.30" x2="472.50" y2="135.30" stroke="#1a1a1a" stroke-width="0.55" />
<polygon points="472.90,135.30 469.62,136.47 469.62,134.13" fill="#1a1a1a"/>
<line x1="150.70" y1="235.00" x2="156.50" y2="235.00" stroke="#1a1a1a" stroke-width="0.55" />
<polygon points="156.90,235.00 153.62,236.17 153.62,233.83" fill="#1a1a1a"/>
<line x1="249.30" y1="234.70" x2="254.80" y2="234.70" stroke="#1a1a1a" stroke-width="0.55" />
<polygon points="255.20,234.70 251.92,235.87 251.92,233.53" fill="#1a1a1a"/>
<line x1="352.00" y1="233.30" x2="358.00" y2="233.30" stroke="#1a1a1a" stroke-width="0.55" />
<polygon points="358.40,233.30 355.12,234.47 355.12,232.13" fill="#1a1a1a"/>
<line x1="488.80" y1="236.80" x2="494.70" y2="236.80" stroke="#1a1a1a" stroke-width="0.55" />
<polygon points="495.10,236.80 491.82,237.97 491.82,235.63" fill="#1a1a1a"/>
<line x1="154.00" y1="280.30" x2="159.70" y2="280.30" stroke="#1a1a1a" stroke-width="0.55" />
<polygon points="160.10,280.30 156.82,281.47 156.82,279.13" fill="#1a1a1a"/>
<line x1="365.80" y1="280.20" x2="371.70" y2="280.20" stroke="#1a1a1a" stroke-width="0.55" />
<polygon points="372.10,280.20 368.82,281.37 368.82,279.03" fill="#1a1a1a"/>
<line x1="133.30" y1="350.00" x2="138.80" y2="350.00" stroke="#1a1a1a" stroke-width="0.55" />
<polygon points="139.20,350.00 135.92,351.17 135.92,348.83" fill="#1a1a1a"/>
<line x1="190.70" y1="350.00" x2="196.50" y2="350.00" stroke="#1a1a1a" stroke-width="0.55" />
<polygon points="196.90,350.00 193.62,351.17 193.62,348.83" fill="#1a1a1a"/>
<line x1="249.30" y1="350.00" x2="255.00" y2="350.00" stroke="#1a1a1a" stroke-width="0.55" />
<polygon points="255.40,350.00 252.12,351.17 252.12,348.83" fill="#1a1a1a"/>
<line x1="350.70" y1="350.00" x2="356.50" y2="350.00" stroke="#1a1a1a" stroke-width="0.55" />
<polygon points="356.90,350.00 353.62,351.17 353.62,348.83" fill="#1a1a1a"/>
<line x1="432.50" y1="350.00" x2="438.20" y2="350.00" stroke="#1a1a1a" stroke-width="0.55" />
<polygon points="438.60,350.00 435.32,351.17 435.32,348.83" fill="#1a1a1a"/>
<line x1="528.50" y1="352.70" x2="534.70" y2="352.70" stroke="#1a1a1a" stroke-width="0.55" />
<polygon points="535.10,352.70 531.82,353.87 531.82,351.53" fill="#1a1a1a"/>
<line x1="77.00" y1="423.80" x2="82.60" y2="423.80" stroke="#1a1a1a" stroke-width="0.55" />
<polygon points="83.00,423.80 79.72,424.97 79.72,422.63" fill="#1a1a1a"/>
<line x1="132.50" y1="425.50" x2="138.30" y2="425.50" stroke="#1a1a1a" stroke-width="0.55" />
<polygon points="138.70,425.50 135.42,426.67 135.42,424.33" fill="#1a1a1a"/>
<line x1="190.70" y1="425.60" x2="196.50" y2="425.60" stroke="#1a1a1a" stroke-width="0.55" />
<polygon points="196.90,425.60 193.62,426.77 193.62,424.43" fill="#1a1a1a"/>
<line x1="252.00" y1="425.00" x2="258.00" y2="425.00" stroke="#1a1a1a" stroke-width="0.55" />
<polygon points="258.40,425.00 255.12,426.17 255.12,423.83" fill="#1a1a1a"/>
<line x1="341.00" y1="425.20" x2="347.00" y2="425.20" stroke="#1a1a1a" stroke-width="0.55" />
<polygon points="347.40,425.20 344.12,426.37 344.12,424.03" fill="#1a1a1a"/>
<line x1="435.60" y1="425.30" x2="441.60" y2="425.30" stroke="#1a1a1a" stroke-width="0.55" />
<polygon points="442.00,425.30 438.72,426.47 438.72,424.13" fill="#1a1a1a"/>
<line x1="569.40" y1="425.30" x2="575.00" y2="425.30" stroke="#1a1a1a" stroke-width="0.55" />
<polygon points="575.40,425.30 572.12,426.47 572.12,424.13" fill="#1a1a1a"/>
<line x1="265.20" y1="137.50" x2="265.20" y2="142.60" stroke="#1a1a1a" stroke-width="0.55" />
<polygon points="265.20,143.00 264.03,139.72 266.37,139.72" fill="#1a1a1a"/>
<line x1="325.80" y1="136.20" x2="325.80" y2="142.00" stroke="#1a1a1a" stroke-width="0.55" />
<polygon points="325.80,142.40 324.63,139.12 326.97,139.12" fill="#1a1a1a"/>
<line x1="442.20" y1="137.50" x2="442.20" y2="142.60" stroke="#1a1a1a" stroke-width="0.55" />
<polygon points="442.20,143.00 441.03,139.72 443.37,139.72" fill="#1a1a1a"/>
<line x1="500.00" y1="141.70" x2="500.00" y2="146.80" stroke="#1a1a1a" stroke-width="0.55" />
<polygon points="500.00,147.20 498.83,143.92 501.17,143.92" fill="#1a1a1a"/>
<line x1="384.20" y1="137.00" x2="384.20" y2="142.40" stroke="#1a1a1a" stroke-width="0.55" />
<polygon points="384.20,142.80 383.03,139.52 385.37,139.52" fill="#1a1a1a"/>
<line x1="206.00" y1="250.30" x2="206.00" y2="255.20" stroke="#1a1a1a" stroke-width="0.55" />
<polygon points="206.00,255.60 204.83,252.32 207.17,252.32" fill="#1a1a1a"/>
<line x1="88.70" y1="283.00" x2="88.70" y2="288.40" stroke="#1a1a1a" stroke-width="0.55" />
<polygon points="88.70,288.80 87.53,285.52 89.87,285.52" fill="#1a1a1a"/>
<line x1="108.00" y1="348.30" x2="108.00" y2="353.40" stroke="#1a1a1a" stroke-width="0.55" />
<polygon points="108.00,353.80 106.83,350.52 109.17,350.52" fill="#1a1a1a"/>
<line x1="165.30" y1="359.90" x2="165.30" y2="364.80" stroke="#1a1a1a" stroke-width="0.55" />
<polygon points="165.30,365.20 164.13,361.92 166.47,361.92" fill="#1a1a1a"/>
<line x1="316.80" y1="250.80" x2="316.80" y2="256.00" stroke="#1a1a1a" stroke-width="0.55" />
<polygon points="316.80,256.40 315.63,253.12 317.97,253.12" fill="#1a1a1a"/>
<line x1="223.30" y1="360.20" x2="223.30" y2="365.20" stroke="#1a1a1a" stroke-width="0.55" />
<polygon points="223.30,365.60 222.13,362.32 224.47,362.32" fill="#1a1a1a"/>
<line x1="288.90" y1="359.40" x2="288.90" y2="365.40" stroke="#1a1a1a" stroke-width="0.55" />
<polygon points="288.90,365.80 287.73,362.52 290.07,362.52" fill="#1a1a1a"/>
<line x1="427.80" y1="250.80" x2="427.80" y2="256.20" stroke="#1a1a1a" stroke-width="0.55" />
<polygon points="427.80,256.60 426.63,253.32 428.97,253.32" fill="#1a1a1a"/>
<line x1="535.00" y1="300.80" x2="535.00" y2="305.20" stroke="#1a1a1a" stroke-width="0.55" />
<polygon points="535.00,305.60 533.83,302.32 536.17,302.32" fill="#1a1a1a"/>
<line x1="205.70" y1="222.50" x2="205.70" y2="216.90" stroke="#1a1a1a" stroke-width="0.55" />
<polygon points="205.70,216.50 206.87,219.78 204.53,219.78" fill="#1a1a1a"/>
<line x1="267.40" y1="222.50" x2="267.40" y2="216.90" stroke="#1a1a1a" stroke-width="0.55" />
<polygon points="267.40,216.50 268.57,219.78 266.23,219.78" fill="#1a1a1a"/>
<line x1="326.70" y1="222.40" x2="326.70" y2="217.00" stroke="#1a1a1a" stroke-width="0.55" />
<polygon points="326.70,216.60 327.87,219.88 325.53,219.88" fill="#1a1a1a"/>
<line x1="384.70" y1="222.30" x2="384.70" y2="216.90" stroke="#1a1a1a" stroke-width="0.55" />
<polygon points="384.70,216.50 385.87,219.78 383.53,219.78" fill="#1a1a1a"/>
<line x1="442.20" y1="201.80" x2="442.20" y2="196.70" stroke="#1a1a1a" stroke-width="0.55" />
<polygon points="442.20,196.30 443.37,199.58 441.03,199.58" fill="#1a1a1a"/>
<line x1="500.00" y1="201.80" x2="500.00" y2="196.70" stroke="#1a1a1a" stroke-width="0.55" />
<polygon points="500.00,196.30 501.17,199.58 498.83,199.58" fill="#1a1a1a"/>
<line x1="208.20" y1="329.00" x2="208.20" y2="323.30" stroke="#1a1a1a" stroke-width="0.55" />
<polygon points="208.20,322.90 209.37,326.18 207.03,326.18" fill="#1a1a1a"/>
<line x1="318.80" y1="328.60" x2="318.80" y2="323.20" stroke="#1a1a1a" stroke-width="0.55" />
<polygon points="318.80,322.80 319.97,326.08 317.63,326.08" fill="#1a1a1a"/>
<line x1="427.20" y1="327.00" x2="427.20" y2="321.70" stroke="#1a1a1a" stroke-width="0.55" />
<polygon points="427.20,321.30 428.37,324.58 426.03,324.58" fill="#1a1a1a"/>
<line x1="535.00" y1="289.40" x2="535.00" y2="284.20" stroke="#1a1a1a" stroke-width="0.55" />
<polygon points="535.00,283.80 536.17,287.08 533.83,287.08" fill="#1a1a1a"/>
<line x1="106.30" y1="428.00" x2="106.30" y2="423.00" stroke="#1a1a1a" stroke-width="0.55" />
<polygon points="106.30,422.60 107.47,425.88 105.13,425.88" fill="#1a1a1a"/>
<line x1="165.70" y1="427.20" x2="165.70" y2="422.00" stroke="#1a1a1a" stroke-width="0.55" />
<polygon points="165.70,421.60 166.87,424.88 164.53,424.88" fill="#1a1a1a"/>
<line x1="225.60" y1="426.20" x2="225.60" y2="421.20" stroke="#1a1a1a" stroke-width="0.55" />
<polygon points="225.60,420.80 226.77,424.08 224.43,424.08" fill="#1a1a1a"/>
<line x1="290.60" y1="416.60" x2="290.60" y2="411.50" stroke="#1a1a1a" stroke-width="0.55" />
<polygon points="290.60,411.10 291.77,414.38 289.43,414.38" fill="#1a1a1a"/>
<line x1="392.40" y1="426.80" x2="392.40" y2="421.80" stroke="#1a1a1a" stroke-width="0.55" />
<polygon points="392.40,421.40 393.57,424.68 391.23,424.68" fill="#1a1a1a"/>
<line x1="486.80" y1="426.80" x2="486.80" y2="422.00" stroke="#1a1a1a" stroke-width="0.55" />
<polygon points="486.80,421.60 487.97,424.88 485.63,424.88" fill="#1a1a1a"/>
<line x1="606.70" y1="403.00" x2="606.70" y2="397.20" stroke="#1a1a1a" stroke-width="0.55" />
<polygon points="606.70,396.80 607.87,400.08 605.53,400.08" fill="#1a1a1a"/>
<line x1="531.40" y1="296.70" x2="524.00" y2="296.70" stroke="#1a1a1a" stroke-width="0.9" />
<polygon points="523.60,296.70 527.68,295.20 527.68,298.19" fill="#1a1a1a"/>
<circle cx="465.80" cy="247.00" r="2.5" fill="none" stroke="#bdbdbd" stroke-width="0.45"/>
<circle cx="482.50" cy="248.70" r="2.5" fill="none" stroke="#bdbdbd" stroke-width="0.45"/>
<circle cx="503.30" cy="250.80" r="2.5" fill="none" stroke="#bdbdbd" stroke-width="0.45"/>
<circle cx="473.80" cy="260.80" r="2.5" fill="none" stroke="#bdbdbd" stroke-width="0.45"/>
<circle cx="491.20" cy="259.50" r="2.5" fill="none" stroke="#bdbdbd" stroke-width="0.45"/>
<circle cx="505.80" cy="263.00" r="2.5" fill="none" stroke="#bdbdbd" stroke-width="0.45"/>
<circle cx="454.20" cy="270.50" r="2.5" fill="none" stroke="#bdbdbd" stroke-width="0.45"/>
<circle cx="453.00" cy="318.70" r="2.5" fill="none" stroke="#bdbdbd" stroke-width="0.45"/>
<circle cx="513.30" cy="331.20" r="2.5" fill="none" stroke="#bdbdbd" stroke-width="0.45"/>
<circle cx="478.70" cy="337.40" r="2.5" fill="none" stroke="#bdbdbd" stroke-width="0.45"/>
<circle cx="500.60" cy="337.50" r="2.5" fill="none" stroke="#bdbdbd" stroke-width="0.45"/>
<circle cx="464.30" cy="343.80" r="2.5" fill="none" stroke="#bdbdbd" stroke-width="0.45"/>
<circle cx="489.90" cy="345.50" r="2.5" fill="none" stroke="#bdbdbd" stroke-width="0.45"/>
<circle cx="512.50" cy="346.00" r="2.5" fill="none" stroke="#bdbdbd" stroke-width="0.45"/>
<text x="477.60" y="255.46" font-size="3.5" fill="#bbb" text-anchor="middle" textLength="23.00" lengthAdjust="spacingAndGlyphs" >Tavoli bistrot</text>
<text x="481.40" y="351.26" font-size="3.5" fill="#bbb" text-anchor="middle" textLength="23.00" lengthAdjust="spacingAndGlyphs" >Tavoli bistrot</text>
<rect x="449.40" y="275.00" width="2.8" height="8.4" fill="none" stroke="#bdbdbd" stroke-width="0.45" transform="rotate(18 450.8 279.2)"/>
<rect x="447.60" y="284.40" width="2.8" height="8.4" fill="none" stroke="#bdbdbd" stroke-width="0.45" transform="rotate(10 449 288.6)"/>
<rect x="446.80" y="298.00" width="2.8" height="8.4" fill="none" stroke="#bdbdbd" stroke-width="0.45" transform="rotate(-8 448.2 302.2)"/>
<rect x="448.40" y="306.80" width="2.8" height="8.4" fill="none" stroke="#bdbdbd" stroke-width="0.45" transform="rotate(-18 449.8 311)"/>
<rect x="446.30" y="293.00" width="3.20" height="4.60" fill="none" stroke="#bdbdbd" stroke-width="0.45" />
<rect x="506.70" y="281.70" width="4.10" height="7.60" fill="none" stroke="#bdbdbd" stroke-width="0.45" />
<line x1="506.70" y1="285.50" x2="510.80" y2="285.50" stroke="#bdbdbd" stroke-width="0.4" />
<rect x="506.70" y="292.00" width="4.10" height="7.60" fill="none" stroke="#bdbdbd" stroke-width="0.45" />
<line x1="506.70" y1="295.80" x2="510.80" y2="295.80" stroke="#bdbdbd" stroke-width="0.4" />
<rect x="506.70" y="302.40" width="4.10" height="7.60" fill="none" stroke="#bdbdbd" stroke-width="0.45" />
<line x1="506.70" y1="306.20" x2="510.80" y2="306.20" stroke="#bdbdbd" stroke-width="0.4" />
<rect x="514.50" y="276.40" width="8.50" height="4.00" fill="none" stroke="#bdbdbd" stroke-width="0.45" />
<line x1="518.70" y1="276.40" x2="518.70" y2="280.40" stroke="#bdbdbd" stroke-width="0.4" />
<rect x="514.50" y="311.40" width="8.50" height="4.00" fill="none" stroke="#bdbdbd" stroke-width="0.45" />
<line x1="518.70" y1="311.40" x2="518.70" y2="315.40" stroke="#bdbdbd" stroke-width="0.4" />
<rect x="512.30" y="277.60" width="1.70" height="2.00" fill="none" stroke="#bdbdbd" stroke-width="0.4" />
<rect x="512.30" y="312.20" width="1.70" height="2.00" fill="none" stroke="#bdbdbd" stroke-width="0.4" />
<rect x="510.80" y="289.50" width="1.70" height="1.80" fill="none" stroke="#bdbdbd" stroke-width="0.4" />
<rect x="510.80" y="300.20" width="1.70" height="1.80" fill="none" stroke="#bdbdbd" stroke-width="0.4" />
<circle cx="519.40" cy="287.30" r="1.2" fill="none" stroke="#bdbdbd" stroke-width="0.4"/>
<circle cx="521.40" cy="296.70" r="1.2" fill="none" stroke="#bdbdbd" stroke-width="0.4"/>
<circle cx="517.60" cy="306.00" r="1.2" fill="none" stroke="#bdbdbd" stroke-width="0.4"/>
<text x="526.80" y="302.64" font-size="4" fill="#b4b4b4" text-anchor="middle" textLength="23.30" lengthAdjust="spacingAndGlyphs" >Lounge Area</text>
<rect x="477.50" y="271.70" width="19.50" height="44.60" fill="none" stroke="#aaa" stroke-width="0.45" />
<rect x="468.70" y="278.30" width="27.10" height="35.00" fill="#dddddd" stroke="#909090" stroke-width="0.5" />
<line x1="470.05" y1="278.30" x2="470.05" y2="313.30" stroke="#a6a6a6" stroke-width="0.35" />
<line x1="471.40" y1="278.30" x2="471.40" y2="313.30" stroke="#a6a6a6" stroke-width="0.35" />
<line x1="472.75" y1="278.30" x2="472.75" y2="313.30" stroke="#a6a6a6" stroke-width="0.35" />
<line x1="474.10" y1="278.30" x2="474.10" y2="313.30" stroke="#a6a6a6" stroke-width="0.35" />
<line x1="475.45" y1="278.30" x2="475.45" y2="313.30" stroke="#a6a6a6" stroke-width="0.35" />
<line x1="476.80" y1="278.30" x2="476.80" y2="313.30" stroke="#a6a6a6" stroke-width="0.35" />
<line x1="478.15" y1="278.30" x2="478.15" y2="313.30" stroke="#a6a6a6" stroke-width="0.35" />
<line x1="479.50" y1="278.30" x2="479.50" y2="313.30" stroke="#a6a6a6" stroke-width="0.35" />
<line x1="480.85" y1="278.30" x2="480.85" y2="313.30" stroke="#a6a6a6" stroke-width="0.35" />
<line x1="482.20" y1="278.30" x2="482.20" y2="313.30" stroke="#a6a6a6" stroke-width="0.35" />
<line x1="483.55" y1="278.30" x2="483.55" y2="313.30" stroke="#a6a6a6" stroke-width="0.35" />
<line x1="484.90" y1="278.30" x2="484.90" y2="313.30" stroke="#a6a6a6" stroke-width="0.35" />
<line x1="486.25" y1="278.30" x2="486.25" y2="313.30" stroke="#a6a6a6" stroke-width="0.35" />
<line x1="487.60" y1="278.30" x2="487.60" y2="313.30" stroke="#a6a6a6" stroke-width="0.35" />
<line x1="488.95" y1="278.30" x2="488.95" y2="313.30" stroke="#a6a6a6" stroke-width="0.35" />
<line x1="490.30" y1="278.30" x2="490.30" y2="313.30" stroke="#a6a6a6" stroke-width="0.35" />
<line x1="491.65" y1="278.30" x2="491.65" y2="313.30" stroke="#a6a6a6" stroke-width="0.35" />
<line x1="493.00" y1="278.30" x2="493.00" y2="313.30" stroke="#a6a6a6" stroke-width="0.35" />
<line x1="494.35" y1="278.30" x2="494.35" y2="313.30" stroke="#a6a6a6" stroke-width="0.35" />
<line x1="495.70" y1="278.30" x2="495.70" y2="313.30" stroke="#a6a6a6" stroke-width="0.35" />
<line x1="468.70" y1="279.65" x2="495.80" y2="279.65" stroke="#a6a6a6" stroke-width="0.35" />
<line x1="468.70" y1="281.00" x2="495.80" y2="281.00" stroke="#a6a6a6" stroke-width="0.35" />
<line x1="468.70" y1="282.35" x2="495.80" y2="282.35" stroke="#a6a6a6" stroke-width="0.35" />
<line x1="468.70" y1="283.70" x2="495.80" y2="283.70" stroke="#a6a6a6" stroke-width="0.35" />
<line x1="468.70" y1="285.05" x2="495.80" y2="285.05" stroke="#a6a6a6" stroke-width="0.35" />
<line x1="468.70" y1="286.40" x2="495.80" y2="286.40" stroke="#a6a6a6" stroke-width="0.35" />
<line x1="468.70" y1="287.75" x2="495.80" y2="287.75" stroke="#a6a6a6" stroke-width="0.35" />
<line x1="468.70" y1="289.10" x2="495.80" y2="289.10" stroke="#a6a6a6" stroke-width="0.35" />
<line x1="468.70" y1="290.45" x2="495.80" y2="290.45" stroke="#a6a6a6" stroke-width="0.35" />
<line x1="468.70" y1="291.80" x2="495.80" y2="291.80" stroke="#a6a6a6" stroke-width="0.35" />
<line x1="468.70" y1="293.15" x2="495.80" y2="293.15" stroke="#a6a6a6" stroke-width="0.35" />
<line x1="468.70" y1="294.50" x2="495.80" y2="294.50" stroke="#a6a6a6" stroke-width="0.35" />
<line x1="468.70" y1="295.85" x2="495.80" y2="295.85" stroke="#a6a6a6" stroke-width="0.35" />
<line x1="468.70" y1="297.20" x2="495.80" y2="297.20" stroke="#a6a6a6" stroke-width="0.35" />
<line x1="468.70" y1="298.55" x2="495.80" y2="298.55" stroke="#a6a6a6" stroke-width="0.35" />
<line x1="468.70" y1="299.90" x2="495.80" y2="299.90" stroke="#a6a6a6" stroke-width="0.35" />
<line x1="468.70" y1="301.25" x2="495.80" y2="301.25" stroke="#a6a6a6" stroke-width="0.35" />
<line x1="468.70" y1="302.60" x2="495.80" y2="302.60" stroke="#a6a6a6" stroke-width="0.35" />
<line x1="468.70" y1="303.95" x2="495.80" y2="303.95" stroke="#a6a6a6" stroke-width="0.35" />
<line x1="468.70" y1="305.30" x2="495.80" y2="305.30" stroke="#a6a6a6" stroke-width="0.35" />
<line x1="468.70" y1="306.65" x2="495.80" y2="306.65" stroke="#a6a6a6" stroke-width="0.35" />
<line x1="468.70" y1="308.00" x2="495.80" y2="308.00" stroke="#a6a6a6" stroke-width="0.35" />
<line x1="468.70" y1="309.35" x2="495.80" y2="309.35" stroke="#a6a6a6" stroke-width="0.35" />
<line x1="468.70" y1="310.70" x2="495.80" y2="310.70" stroke="#a6a6a6" stroke-width="0.35" />
<line x1="468.70" y1="312.05" x2="495.80" y2="312.05" stroke="#a6a6a6" stroke-width="0.35" />
<rect x="477.50" y="286.30" width="14.20" height="19.00" fill="#fff" stroke="#888" stroke-width="0.5" />
<line x1="477.50" y1="286.30" x2="491.70" y2="305.30" stroke="#b5b5b5" stroke-width="0.4" />
<line x1="477.50" y1="305.30" x2="491.70" y2="286.30" stroke="#b5b5b5" stroke-width="0.4" />
<line x1="482.00" y1="316.30" x2="478.50" y2="326.00" stroke="#aaa" stroke-width="0.4" />
<line x1="489.50" y1="316.30" x2="494.00" y2="326.00" stroke="#aaa" stroke-width="0.4" />
<path d="M 483 267.9 C 494 268.2 500.6 275 501.4 290 C 502.4 310 497 326.6 481 327.4 C 468 327.2 459.6 314 459 297 C 458.8 280 468 267.6 483 267.9 Z" fill="none" stroke="#7b7be6" stroke-width="0.6" />
<line x1="472.90" y1="270.00" x2="474.50" y2="271.20" stroke="#777" stroke-width="0.4" />
<line x1="482.60" y1="269.00" x2="484.20" y2="270.20" stroke="#777" stroke-width="0.4" />
<line x1="493.80" y1="274.00" x2="495.40" y2="275.20" stroke="#777" stroke-width="0.4" />
<line x1="463.80" y1="310.80" x2="465.40" y2="312.00" stroke="#777" stroke-width="0.4" />
<line x1="472.80" y1="323.00" x2="474.40" y2="324.20" stroke="#777" stroke-width="0.4" />
<line x1="493.60" y1="321.00" x2="495.20" y2="322.20" stroke="#777" stroke-width="0.4" />
<rect x="434.20" y="290.60" width="10.80" height="10.20" fill="#fff" stroke="#9fb0d8" stroke-width="0.7" />
<rect x="437.22" y="292.84" width="4.10" height="3.88" fill="#1c2fb0" stroke="none" stroke-width="0.5" />
<path d="M 441.33 293.35 h 1.08 v 2.04 h -1.08" fill="none" stroke="#1c2fb0" stroke-width="0.5400000000000006" />
<rect x="435.93" y="297.74" width="7.34" height="1.02" fill="#1c2fb0" stroke="none" stroke-width="0.5" />
<rect x="542.20" y="254.00" width="87.60" height="68.50" fill="#fff" stroke="#2f8fd0" stroke-width="1.0" />
<rect x="546.25" y="263.30" width="8.25" height="49.20" fill="#0c6bb7" stroke="none" stroke-width="0.5" />
<line x1="546.25" y1="272.70" x2="554.50" y2="272.70" stroke="#095696" stroke-width="0.45" />
<line x1="546.25" y1="282.80" x2="554.50" y2="282.80" stroke="#095696" stroke-width="0.45" />
<line x1="546.25" y1="293.00" x2="554.50" y2="293.00" stroke="#095696" stroke-width="0.45" />
<line x1="546.25" y1="303.20" x2="554.50" y2="303.20" stroke="#095696" stroke-width="0.45" />
<rect x="558.70" y="263.30" width="8.10" height="49.20" fill="#0c6bb7" stroke="none" stroke-width="0.5" />
<line x1="558.70" y1="272.70" x2="566.80" y2="272.70" stroke="#095696" stroke-width="0.45" />
<line x1="558.70" y1="282.80" x2="566.80" y2="282.80" stroke="#095696" stroke-width="0.45" />
<line x1="558.70" y1="293.00" x2="566.80" y2="293.00" stroke="#095696" stroke-width="0.45" />
<line x1="558.70" y1="303.20" x2="566.80" y2="303.20" stroke="#095696" stroke-width="0.45" />
<rect x="571.30" y="263.30" width="7.90" height="49.20" fill="#0c6bb7" stroke="none" stroke-width="0.5" />
<line x1="571.30" y1="272.70" x2="579.20" y2="272.70" stroke="#095696" stroke-width="0.45" />
<line x1="571.30" y1="282.80" x2="579.20" y2="282.80" stroke="#095696" stroke-width="0.45" />
<line x1="571.30" y1="293.00" x2="579.20" y2="293.00" stroke="#095696" stroke-width="0.45" />
<line x1="571.30" y1="303.20" x2="579.20" y2="303.20" stroke="#095696" stroke-width="0.45" />
<rect x="583.00" y="263.30" width="8.00" height="49.20" fill="#0c6bb7" stroke="none" stroke-width="0.5" />
<line x1="583.00" y1="272.70" x2="591.00" y2="272.70" stroke="#095696" stroke-width="0.45" />
<line x1="583.00" y1="282.80" x2="591.00" y2="282.80" stroke="#095696" stroke-width="0.45" />
<line x1="583.00" y1="293.00" x2="591.00" y2="293.00" stroke="#095696" stroke-width="0.45" />
<line x1="583.00" y1="303.20" x2="591.00" y2="303.20" stroke="#095696" stroke-width="0.45" />
<text x="611.50" y="267.08" font-size="6.6" fill="#1b74c0" text-anchor="middle" font-weight="bold" textLength="14.80" lengthAdjust="spacingAndGlyphs" >Area</text>
<text x="611.30" y="273.28" font-size="6.6" fill="#1b74c0" text-anchor="middle" font-weight="bold" textLength="31.00" lengthAdjust="spacingAndGlyphs" >Simulatori</text>
<text x="611.30" y="279.10" font-size="5" fill="#1b74c0" text-anchor="middle" font-weight="bold" textLength="22.50" lengthAdjust="spacingAndGlyphs" >Radiologia</text>
<text x="611.40" y="285.40" font-size="5" fill="#1b74c0" text-anchor="middle" font-weight="bold" textLength="32.00" lengthAdjust="spacingAndGlyphs" >Interventistica</text>
<text x="611.30" y="296.78" font-size="4.4" fill="#222" text-anchor="middle" font-weight="bold" font-style="italic" textLength="21.50" lengthAdjust="spacingAndGlyphs" >Simulators</text>
<text x="611.30" y="302.78" font-size="4.4" fill="#222" text-anchor="middle" font-weight="bold" font-style="italic" textLength="10.50" lengthAdjust="spacingAndGlyphs" >Area</text>
<text x="611.30" y="308.58" font-size="4.4" fill="#222" text-anchor="middle" font-weight="bold" font-style="italic" textLength="28.50" lengthAdjust="spacingAndGlyphs" >Interventional</text>
<text x="611.30" y="314.78" font-size="4.4" fill="#222" text-anchor="middle" font-weight="bold" font-style="italic" textLength="20.50" lengthAdjust="spacingAndGlyphs" >Radiology</text>
<rect x="417.40" y="212.20" width="129.60" height="159.90" fill="none" stroke="#f48fae" stroke-width="0.65" stroke-dasharray="6.3 4.75"/>
<path d="M 275 431 V 472 M 304.5 431 V 472 M 275 453.3 H 304.5 M 304.5 472 H 338 V 455.5" fill="none" stroke="#8fc7e6" stroke-width="0.6" />
<line x1="343.00" y1="455.80" x2="348.50" y2="459.50" stroke="#8fc7e6" stroke-width="0.5" />
<line x1="275.00" y1="431.00" x2="304.50" y2="431.00" stroke="#8fc7e6" stroke-width="0.5" />
<rect x="313.90" y="433.60" width="18.00" height="14.60" fill="#fff" stroke="#7e8fd6" stroke-width="0.6" />
<rect x="315.50" y="435.00" width="15.00" height="11.80" fill="#1a22c4" stroke="none" stroke-width="0.5" />
<circle cx="320.30" cy="437.30" r="0.8" fill="#fff" stroke="none" stroke-width="0"/>
<rect x="319.20" y="438.60" width="2.20" height="4.20" fill="#fff" stroke="none" stroke-width="0.5" />
<rect x="319.40" y="442.80" width="0.75" height="2.80" fill="#fff" stroke="none" stroke-width="0.5" />
<rect x="320.45" y="442.80" width="0.75" height="2.80" fill="#fff" stroke="none" stroke-width="0.5" />
<circle cx="325.70" cy="437.30" r="0.8" fill="#fff" stroke="none" stroke-width="0"/>
<rect x="324.60" y="438.60" width="2.20" height="4.20" fill="#fff" stroke="none" stroke-width="0.5" />
<rect x="324.80" y="442.80" width="0.75" height="2.80" fill="#fff" stroke="none" stroke-width="0.5" />
<rect x="325.85" y="442.80" width="0.75" height="2.80" fill="#fff" stroke="none" stroke-width="0.5" />
<line x1="323.00" y1="436.00" x2="323.00" y2="446.00" stroke="#fff" stroke-width="0.4" />
<line x1="64.50" y1="455.75" x2="64.50" y2="469.25" stroke="#7d7d7d" stroke-width="0.45" />
<line x1="24.25" y1="469.25" x2="275.00" y2="469.25" stroke="#7d7d7d" stroke-width="0.45" />
<line x1="275.00" y1="469.25" x2="338.75" y2="469.25" stroke="#999" stroke-width="0.4" />
<line x1="151.25" y1="471.75" x2="338.75" y2="471.75" stroke="#555" stroke-width="0.6" />
<line x1="151.25" y1="471.75" x2="151.25" y2="521.60" stroke="#555" stroke-width="0.7" />
<line x1="151.25" y1="521.50" x2="338.75" y2="521.50" stroke="#777" stroke-width="0.5" />
<line x1="338.75" y1="456.00" x2="338.75" y2="538.70" stroke="#7d7d7d" stroke-width="0.45" />
<line x1="24.25" y1="536.25" x2="338.75" y2="536.25" stroke="#8a8a8a" stroke-width="0.5" />
<line x1="24.25" y1="538.75" x2="338.75" y2="538.75" stroke="#b0b0b0" stroke-width="0.5" />
<rect x="24.25" y="536.50" width="314.50" height="2.00" fill="#e9e9e9" stroke="none" stroke-width="0.5" />
<rect x="135.60" y="472.30" width="2.00" height="2.00" fill="#555" stroke="none" stroke-width="0.5" />
<rect x="333.50" y="472.30" width="2.00" height="2.00" fill="#555" stroke="none" stroke-width="0.5" />
<rect x="201.40" y="471.20" width="1.20" height="1.40" fill="#444" stroke="none" stroke-width="0.5" />
<rect x="261.40" y="471.20" width="1.20" height="1.40" fill="#444" stroke="none" stroke-width="0.5" />
<rect x="289.90" y="471.20" width="1.20" height="1.40" fill="#444" stroke="none" stroke-width="0.5" />
<rect x="186.80" y="478.10" width="2.80" height="2.80" fill="#eee" stroke="#888" stroke-width="0.45" />
<rect x="186.80" y="503.60" width="2.80" height="2.80" fill="#eee" stroke="#888" stroke-width="0.45" />
<rect x="247.90" y="478.10" width="2.80" height="2.80" fill="#eee" stroke="#888" stroke-width="0.45" />
<rect x="247.90" y="503.60" width="2.80" height="2.80" fill="#eee" stroke="#888" stroke-width="0.45" />
<rect x="103.75" y="493.75" width="46.25" height="6.65" fill="#fff" stroke="#aaa" stroke-width="0.4" />
<line x1="105.30" y1="493.75" x2="105.30" y2="500.40" stroke="#bbb" stroke-width="0.35" />
<line x1="107.05" y1="493.75" x2="107.05" y2="500.40" stroke="#bbb" stroke-width="0.35" />
<line x1="108.80" y1="493.75" x2="108.80" y2="500.40" stroke="#bbb" stroke-width="0.35" />
<line x1="110.55" y1="493.75" x2="110.55" y2="500.40" stroke="#bbb" stroke-width="0.35" />
<line x1="112.30" y1="493.75" x2="112.30" y2="500.40" stroke="#bbb" stroke-width="0.35" />
<line x1="114.05" y1="493.75" x2="114.05" y2="500.40" stroke="#bbb" stroke-width="0.35" />
<line x1="115.80" y1="493.75" x2="115.80" y2="500.40" stroke="#bbb" stroke-width="0.35" />
<line x1="117.55" y1="493.75" x2="117.55" y2="500.40" stroke="#bbb" stroke-width="0.35" />
<line x1="119.30" y1="493.75" x2="119.30" y2="500.40" stroke="#bbb" stroke-width="0.35" />
<line x1="121.05" y1="493.75" x2="121.05" y2="500.40" stroke="#bbb" stroke-width="0.35" />
<line x1="122.80" y1="493.75" x2="122.80" y2="500.40" stroke="#bbb" stroke-width="0.35" />
<line x1="124.55" y1="493.75" x2="124.55" y2="500.40" stroke="#bbb" stroke-width="0.35" />
<line x1="126.30" y1="493.75" x2="126.30" y2="500.40" stroke="#bbb" stroke-width="0.35" />
<line x1="128.05" y1="493.75" x2="128.05" y2="500.40" stroke="#bbb" stroke-width="0.35" />
<line x1="129.80" y1="493.75" x2="129.80" y2="500.40" stroke="#bbb" stroke-width="0.35" />
<line x1="131.55" y1="493.75" x2="131.55" y2="500.40" stroke="#bbb" stroke-width="0.35" />
<line x1="133.30" y1="493.75" x2="133.30" y2="500.40" stroke="#bbb" stroke-width="0.35" />
<line x1="135.05" y1="493.75" x2="135.05" y2="500.40" stroke="#bbb" stroke-width="0.35" />
<line x1="136.80" y1="493.75" x2="136.80" y2="500.40" stroke="#bbb" stroke-width="0.35" />
<line x1="138.55" y1="493.75" x2="138.55" y2="500.40" stroke="#bbb" stroke-width="0.35" />
<line x1="140.30" y1="493.75" x2="140.30" y2="500.40" stroke="#bbb" stroke-width="0.35" />
<line x1="142.05" y1="493.75" x2="142.05" y2="500.40" stroke="#bbb" stroke-width="0.35" />
<line x1="143.80" y1="493.75" x2="143.80" y2="500.40" stroke="#bbb" stroke-width="0.35" />
<line x1="145.55" y1="493.75" x2="145.55" y2="500.40" stroke="#bbb" stroke-width="0.35" />
<line x1="103.75" y1="497.10" x2="146.00" y2="497.10" stroke="#bbb" stroke-width="0.35" />
<circle cx="147.80" cy="497.10" r="1.3" fill="none" stroke="#aaa" stroke-width="0.4"/>
<rect x="215.20" y="487.00" width="18.10" height="18.60" fill="#fff" stroke="#b3bfe2" stroke-width="0.7" />
<rect x="220.27" y="491.09" width="6.88" height="7.07" fill="#1c2fb0" stroke="none" stroke-width="0.5" />
<path d="M 227.15 492.02 h 1.81 v 3.72 h -1.81" fill="none" stroke="#1c2fb0" stroke-width="0.9050000000000011" />
<rect x="218.10" y="500.02" width="12.31" height="1.86" fill="#1c2fb0" stroke="none" stroke-width="0.5" />
<rect x="290.00" y="477.50" width="48.75" height="36.25" fill="#fff" stroke="#666" stroke-width="0.6" />
<line x1="301.00" y1="477.50" x2="301.00" y2="489.00" stroke="#888" stroke-width="0.4" />
<line x1="310.50" y1="477.50" x2="310.50" y2="489.00" stroke="#888" stroke-width="0.4" />
<line x1="318.00" y1="477.50" x2="318.00" y2="489.00" stroke="#888" stroke-width="0.4" />
<line x1="324.00" y1="477.50" x2="324.00" y2="489.00" stroke="#888" stroke-width="0.4" />
<line x1="331.00" y1="477.50" x2="331.00" y2="489.00" stroke="#888" stroke-width="0.4" />
<line x1="297.00" y1="500.00" x2="297.00" y2="513.75" stroke="#888" stroke-width="0.4" />
<line x1="304.00" y1="500.00" x2="304.00" y2="513.75" stroke="#888" stroke-width="0.4" />
<line x1="311.00" y1="500.00" x2="311.00" y2="513.75" stroke="#888" stroke-width="0.4" />
<line x1="318.50" y1="500.00" x2="318.50" y2="513.75" stroke="#888" stroke-width="0.4" />
<line x1="325.00" y1="500.00" x2="325.00" y2="513.75" stroke="#888" stroke-width="0.4" />
<line x1="331.50" y1="500.00" x2="331.50" y2="513.75" stroke="#888" stroke-width="0.4" />
<line x1="290.00" y1="489.00" x2="338.75" y2="489.00" stroke="#888" stroke-width="0.4" />
<line x1="290.00" y1="500.00" x2="338.75" y2="500.00" stroke="#888" stroke-width="0.4" />
<line x1="309.00" y1="477.50" x2="309.00" y2="513.75" stroke="#666" stroke-width="0.6" />
<line x1="309.00" y1="494.50" x2="338.75" y2="494.50" stroke="#777" stroke-width="0.5" />
<rect x="293.20" y="479.70" width="1.60" height="2.60" fill="none" stroke="#999" stroke-width="0.35" />
<rect x="298.20" y="479.70" width="1.60" height="2.60" fill="none" stroke="#999" stroke-width="0.35" />
<rect x="313.20" y="479.70" width="1.60" height="2.60" fill="none" stroke="#999" stroke-width="0.35" />
<rect x="320.20" y="479.70" width="1.60" height="2.60" fill="none" stroke="#999" stroke-width="0.35" />
<rect x="326.70" y="479.70" width="1.60" height="2.60" fill="none" stroke="#999" stroke-width="0.35" />
<rect x="293.20" y="508.70" width="1.60" height="2.60" fill="none" stroke="#999" stroke-width="0.35" />
<rect x="299.70" y="508.70" width="1.60" height="2.60" fill="none" stroke="#999" stroke-width="0.35" />
<rect x="306.70" y="508.70" width="1.60" height="2.60" fill="none" stroke="#999" stroke-width="0.35" />
<rect x="314.20" y="508.70" width="1.60" height="2.60" fill="none" stroke="#999" stroke-width="0.35" />
<rect x="320.70" y="508.70" width="1.60" height="2.60" fill="none" stroke="#999" stroke-width="0.35" />
<rect x="327.20" y="508.70" width="1.60" height="2.60" fill="none" stroke="#999" stroke-width="0.35" />
<rect x="334.20" y="508.70" width="1.60" height="2.60" fill="none" stroke="#999" stroke-width="0.35" />
<line x1="290.00" y1="513.75" x2="293.00" y2="519.00" stroke="#999" stroke-width="0.4" />
<line x1="187.50" y1="521.50" x2="187.50" y2="536.25" stroke="#888" stroke-width="0.45" />
<line x1="189.00" y1="521.50" x2="189.00" y2="536.25" stroke="#bbb" stroke-width="0.4" />
<rect x="196.40" y="523.75" width="4.00" height="10.00" fill="none" stroke="#a5a5a5" stroke-width="0.45" />
<path d="M 197.20 525.00 L 199.60 532.50 M 199.60 525.00 L 197.20 532.50" fill="none" stroke="#c8c8c8" stroke-width="0.35" />
<rect x="206.60" y="523.75" width="4.00" height="10.00" fill="none" stroke="#a5a5a5" stroke-width="0.45" />
<path d="M 207.40 525.00 L 209.80 532.50 M 209.80 525.00 L 207.40 532.50" fill="none" stroke="#c8c8c8" stroke-width="0.35" />
<rect x="216.80" y="523.75" width="4.00" height="10.00" fill="none" stroke="#a5a5a5" stroke-width="0.45" />
<path d="M 217.60 525.00 L 220.00 532.50 M 220.00 525.00 L 217.60 532.50" fill="none" stroke="#c8c8c8" stroke-width="0.35" />
<rect x="241.80" y="523.75" width="4.00" height="10.00" fill="none" stroke="#a5a5a5" stroke-width="0.45" />
<path d="M 242.60 525.00 L 245.00 532.50 M 245.00 525.00 L 242.60 532.50" fill="none" stroke="#c8c8c8" stroke-width="0.35" />
<rect x="252.30" y="523.75" width="4.00" height="10.00" fill="none" stroke="#a5a5a5" stroke-width="0.45" />
<path d="M 253.10 525.00 L 255.50 532.50 M 255.50 525.00 L 253.10 532.50" fill="none" stroke="#c8c8c8" stroke-width="0.35" />
<rect x="267.30" y="523.75" width="4.00" height="10.00" fill="none" stroke="#a5a5a5" stroke-width="0.45" />
<path d="M 268.10 525.00 L 270.50 532.50 M 270.50 525.00 L 268.10 532.50" fill="none" stroke="#c8c8c8" stroke-width="0.35" />
<rect x="277.30" y="523.75" width="4.00" height="10.00" fill="none" stroke="#a5a5a5" stroke-width="0.45" />
<path d="M 278.10 525.00 L 280.50 532.50 M 280.50 525.00 L 278.10 532.50" fill="none" stroke="#c8c8c8" stroke-width="0.35" />
<rect x="288.00" y="523.75" width="4.00" height="10.00" fill="none" stroke="#a5a5a5" stroke-width="0.45" />
<path d="M 288.80 525.00 L 291.20 532.50 M 291.20 525.00 L 288.80 532.50" fill="none" stroke="#c8c8c8" stroke-width="0.35" />
<rect x="303.00" y="523.75" width="4.00" height="10.00" fill="none" stroke="#a5a5a5" stroke-width="0.45" />
<path d="M 303.80 525.00 L 306.20 532.50 M 306.20 525.00 L 303.80 532.50" fill="none" stroke="#c8c8c8" stroke-width="0.35" />
<rect x="313.00" y="523.75" width="4.00" height="10.00" fill="none" stroke="#a5a5a5" stroke-width="0.45" />
<path d="M 313.80 525.00 L 316.20 532.50 M 316.20 525.00 L 313.80 532.50" fill="none" stroke="#c8c8c8" stroke-width="0.35" />
<text transform="translate(354.20 466.90) scale(0.86 1)" font-size="3.9" fill="#222" font-weight="bold">38-39</text>
<text transform="translate(376.20 466.90) scale(0.71 1)" font-size="3.9" fill="#222" font-weight="bold">ANDRA</text>
<line x1="351.80" y1="468.65" x2="460.00" y2="468.65" stroke="#bdbdbd" stroke-width="0.45" />
<text transform="translate(354.20 473.07) scale(0.86 1)" font-size="3.9" fill="#222" font-weight="bold">45-48</text>
<text transform="translate(376.20 473.07) scale(0.71 1)" font-size="3.9" fill="#222" font-weight="bold">ANKE SHENZHEN ANKE HIGH-TECH CO. LTD.</text>
<line x1="351.80" y1="474.82" x2="460.00" y2="474.82" stroke="#bdbdbd" stroke-width="0.45" />
<text transform="translate(354.20 479.24) scale(0.86 1)" font-size="3.9" fill="#222" font-weight="bold">65-66</text>
<text transform="translate(376.20 479.24) scale(0.71 1)" font-size="3.9" fill="#222" font-weight="bold">ASG SUPERCONDUCTORS</text>
<line x1="351.80" y1="480.99" x2="460.00" y2="480.99" stroke="#bdbdbd" stroke-width="0.45" />
<text transform="translate(354.20 485.41) scale(0.86 1)" font-size="3.9" fill="#222" font-weight="bold">20</text>
<text transform="translate(376.20 485.41) scale(0.71 1)" font-size="3.9" fill="#222" font-weight="bold">BEACON (SHENZHEN BEACON DISPLAY TECHNOLOGY CO.LTD)</text>
<line x1="351.80" y1="487.16" x2="460.00" y2="487.16" stroke="#bdbdbd" stroke-width="0.45" />
<text transform="translate(354.20 491.58) scale(0.86 1)" font-size="3.9" fill="#222" font-weight="bold">62</text>
<text transform="translate(376.20 491.58) scale(0.71 1)" font-size="3.9" fill="#222" font-weight="bold">BIOLIVE</text>
<line x1="351.80" y1="493.33" x2="460.00" y2="493.33" stroke="#bdbdbd" stroke-width="0.45" />
<text transform="translate(354.20 497.75) scale(0.86 1)" font-size="3.9" fill="#222" font-weight="bold">35</text>
<text transform="translate(376.20 497.75) scale(0.71 1)" font-size="3.9" fill="#222" font-weight="bold">DATAMATIC SISTEMI &amp; SERVIZI</text>
<line x1="351.80" y1="499.50" x2="460.00" y2="499.50" stroke="#bdbdbd" stroke-width="0.45" />
<text transform="translate(354.20 503.92) scale(0.86 1)" font-size="3.9" fill="#222" font-weight="bold">3-4-5</text>
<text transform="translate(376.20 503.92) scale(0.71 1)" font-size="3.9" fill="#222" font-weight="bold">DENTAL NETWORK (PLANMECA OY)</text>
<line x1="351.80" y1="505.67" x2="460.00" y2="505.67" stroke="#bdbdbd" stroke-width="0.45" />
<text transform="translate(354.20 510.09) scale(0.86 1)" font-size="3.9" fill="#222" font-weight="bold">36-37</text>
<text transform="translate(376.20 510.09) scale(0.71 1)" font-size="3.9" fill="#222" font-weight="bold">DEVICOR MEDICAL ITALY (MAMMOTOME)</text>
<line x1="351.80" y1="511.84" x2="460.00" y2="511.84" stroke="#bdbdbd" stroke-width="0.45" />
<text transform="translate(354.20 516.26) scale(0.86 1)" font-size="3.9" fill="#222" font-weight="bold">47</text>
<text transform="translate(376.20 516.26) scale(0.71 1)" font-size="3.9" fill="#222" font-weight="bold">DIGITEC INNOVATION</text>
<line x1="351.80" y1="518.01" x2="460.00" y2="518.01" stroke="#bdbdbd" stroke-width="0.45" />
<text transform="translate(354.20 522.43) scale(0.86 1)" font-size="3.9" fill="#222" font-weight="bold">22</text>
<text transform="translate(376.20 522.43) scale(0.71 1)" font-size="3.9" fill="#222" font-weight="bold">EIZO</text>
<line x1="351.80" y1="524.18" x2="460.00" y2="524.18" stroke="#bdbdbd" stroke-width="0.45" />
<text transform="translate(354.20 528.60) scale(0.86 1)" font-size="3.9" fill="#222" font-weight="bold">33-40</text>
<text transform="translate(376.20 528.60) scale(0.71 1)" font-size="3.9" fill="#222" font-weight="bold">EMMEDI INSTRUMENTS</text>
<line x1="351.80" y1="530.35" x2="460.00" y2="530.35" stroke="#bdbdbd" stroke-width="0.45" />
<text transform="translate(354.20 534.77) scale(0.86 1)" font-size="3.9" fill="#222" font-weight="bold">7-9-11/17</text>
<text transform="translate(376.20 534.77) scale(0.71 1)" font-size="3.9" fill="#222" font-weight="bold">FORA</text>
<line x1="351.80" y1="536.52" x2="460.00" y2="536.52" stroke="#bdbdbd" stroke-width="0.45" />
<text transform="translate(354.20 540.94) scale(0.86 1)" font-size="3.9" fill="#222" font-weight="bold">49/51-52/59</text>
<text transform="translate(376.20 540.94) scale(0.71 1)" font-size="3.9" fill="#222" font-weight="bold">GLOBAL BIOMEDICAL SERVICE</text>
<line x1="351.80" y1="542.69" x2="460.00" y2="542.69" stroke="#bdbdbd" stroke-width="0.45" />
<text transform="translate(354.20 547.11) scale(0.86 1)" font-size="3.9" fill="#222" font-weight="bold">01-02</text>
<text transform="translate(376.20 547.11) scale(0.71 1)" font-size="3.9" fill="#222" font-weight="bold">GMS MED</text>
<line x1="351.80" y1="548.86" x2="460.00" y2="548.86" stroke="#bdbdbd" stroke-width="0.45" />
<text transform="translate(354.20 553.28) scale(0.86 1)" font-size="3.9" fill="#222" font-weight="bold">19</text>
<text transform="translate(376.20 553.28) scale(0.71 1)" font-size="3.9" fill="#222" font-weight="bold">ITALRAY</text>
<line x1="351.80" y1="555.03" x2="460.00" y2="555.03" stroke="#bdbdbd" stroke-width="0.45" />
<text transform="translate(354.20 559.45) scale(0.86 1)" font-size="3.9" fill="#222" font-weight="bold">27-28</text>
<text transform="translate(376.20 559.45) scale(0.71 1)" font-size="3.9" fill="#222" font-weight="bold">MDA TECH</text>
<line x1="351.80" y1="561.20" x2="460.00" y2="561.20" stroke="#bdbdbd" stroke-width="0.45" />
<text transform="translate(354.20 565.62) scale(0.86 1)" font-size="3.9" fill="#222" font-weight="bold">43-46</text>
<text transform="translate(376.20 565.62) scale(0.71 1)" font-size="3.9" fill="#222" font-weight="bold">MEDIA SUPPORT</text>
<line x1="351.80" y1="567.37" x2="460.00" y2="567.37" stroke="#bdbdbd" stroke-width="0.45" />
<text transform="translate(354.20 571.79) scale(0.86 1)" font-size="3.9" fill="#222" font-weight="bold">14-18</text>
<text transform="translate(376.20 571.79) scale(0.71 1)" font-size="3.9" fill="#222" font-weight="bold">METALTRONICA</text>
<line x1="351.80" y1="573.54" x2="460.00" y2="573.54" stroke="#bdbdbd" stroke-width="0.45" />
<text transform="translate(354.20 577.96) scale(0.86 1)" font-size="3.9" fill="#222" font-weight="bold">64</text>
<text transform="translate(376.20 577.96) scale(0.71 1)" font-size="3.9" fill="#222" font-weight="bold">MULTIMEDICAL</text>
<line x1="351.80" y1="579.71" x2="460.00" y2="579.71" stroke="#bdbdbd" stroke-width="0.45" />
<text transform="translate(476.40 466.90) scale(0.86 1)" font-size="3.9" fill="#222" font-weight="bold">23-24</text>
<text transform="translate(498.60 466.90) scale(0.71 1)" font-size="3.9" fill="#222" font-weight="bold">GS ENTERPRISE - MEDISHARE</text>
<line x1="474.60" y1="468.65" x2="581.00" y2="468.65" stroke="#bdbdbd" stroke-width="0.45" />
<text transform="translate(476.40 473.07) scale(0.86 1)" font-size="3.9" fill="#222" font-weight="bold">51/54-57/60</text>
<text transform="translate(498.60 473.07) scale(0.71 1)" font-size="3.9" fill="#222" font-weight="bold">PERFORMANCE HOSPITAL</text>
<line x1="474.60" y1="474.82" x2="581.00" y2="474.82" stroke="#bdbdbd" stroke-width="0.45" />
<text transform="translate(476.40 479.24) scale(0.86 1)" font-size="3.9" fill="#222" font-weight="bold">06-10</text>
<text transform="translate(498.60 479.24) scale(0.71 1)" font-size="3.9" fill="#222" font-weight="bold">PRIMAX INTERNATIONAL</text>
<line x1="474.60" y1="480.99" x2="581.00" y2="480.99" stroke="#bdbdbd" stroke-width="0.45" />
<text transform="translate(476.40 485.41) scale(0.86 1)" font-size="3.9" fill="#222" font-weight="bold">21</text>
<text transform="translate(498.60 485.41) scale(0.71 1)" font-size="3.9" fill="#222" font-weight="bold">TELEMIS</text>
<line x1="474.60" y1="487.16" x2="581.00" y2="487.16" stroke="#bdbdbd" stroke-width="0.45" />
<text transform="translate(476.40 491.58) scale(0.86 1)" font-size="3.9" fill="#222" font-weight="bold">AI_07</text>
<text transform="translate(498.60 491.58) scale(0.71 1)" font-size="3.9" fill="#222" font-weight="bold">TESSERCON</text>
<line x1="474.60" y1="493.33" x2="581.00" y2="493.33" stroke="#bdbdbd" stroke-width="0.45" />
<text transform="translate(476.40 497.75) scale(0.86 1)" font-size="3.9" fill="#222" font-weight="bold">29/30-31/32</text>
<text transform="translate(498.60 497.75) scale(0.71 1)" font-size="3.9" fill="#222" font-weight="bold">TRADE ART 2000</text>
<line x1="474.60" y1="499.50" x2="581.00" y2="499.50" stroke="#bdbdbd" stroke-width="0.45" />
<text transform="translate(476.40 503.92) scale(0.86 1)" font-size="3.9" fill="#222" font-weight="bold">25-26</text>
<text transform="translate(498.60 503.92) scale(0.71 1)" font-size="3.9" fill="#222" font-weight="bold">VILLA SISTEMI MEDICALI</text>
<line x1="474.60" y1="505.67" x2="581.00" y2="505.67" stroke="#bdbdbd" stroke-width="0.45" />
<text transform="translate(476.40 510.09) scale(0.86 1)" font-size="3.9" fill="#222" font-weight="bold">67</text>
<text transform="translate(498.60 510.09) scale(0.71 1)" font-size="3.9" fill="#222" font-weight="bold">VOISIS</text>
<line x1="474.60" y1="511.84" x2="581.00" y2="511.84" stroke="#bdbdbd" stroke-width="0.45" />
<text transform="translate(476.40 516.26) scale(0.86 1)" font-size="3.9" fill="#222" font-weight="bold">41-42</text>
<text transform="translate(498.60 516.26) scale(0.71 1)" font-size="3.9" fill="#222" font-weight="bold">ZIEHM IMAGING</text>
<line x1="474.60" y1="518.01" x2="581.00" y2="518.01" stroke="#bdbdbd" stroke-width="0.45" />
<text transform="translate(476.40 522.43) scale(0.86 1)" font-size="3.9" fill="#222" font-weight="bold">34</text>
<text transform="translate(498.60 522.43) scale(0.71 1)" font-size="3.9" fill="#222" font-weight="bold">UBT TECH</text>
<line x1="474.60" y1="524.18" x2="581.00" y2="524.18" stroke="#bdbdbd" stroke-width="0.45" />
<text x="476.20" y="535.45" font-size="5.7" fill="#d1202f" text-anchor="start" textLength="68.50" lengthAdjust="spacingAndGlyphs" >AREA INTELLIGENZA ARTIFICIALE</text>
<text transform="translate(476.40 540.90) scale(0.86 1)" font-size="3.9" fill="#222" font-weight="bold">AI_04</text>
<text transform="translate(498.60 540.90) scale(0.71 1)" font-size="3.9" fill="#222" font-weight="bold">BOMI</text>
<line x1="474.60" y1="542.65" x2="581.00" y2="542.65" stroke="#bdbdbd" stroke-width="0.45" />
<text transform="translate(476.40 547.07) scale(0.86 1)" font-size="3.9" fill="#222" font-weight="bold">AI_06</text>
<text transform="translate(498.60 547.07) scale(0.71 1)" font-size="3.9" fill="#222" font-weight="bold">ENVEA ESSE MG</text>
<line x1="474.60" y1="548.82" x2="581.00" y2="548.82" stroke="#bdbdbd" stroke-width="0.45" />
<text transform="translate(476.40 553.24) scale(0.86 1)" font-size="3.9" fill="#222" font-weight="bold">AI_10</text>
<text transform="translate(498.60 553.24) scale(0.71 1)" font-size="3.9" fill="#222" font-weight="bold">ESAOTE</text>
<line x1="474.60" y1="554.99" x2="581.00" y2="554.99" stroke="#bdbdbd" stroke-width="0.45" />
<text transform="translate(476.40 559.41) scale(0.86 1)" font-size="3.9" fill="#222" font-weight="bold">AI_1/3/5</text>
<text transform="translate(498.60 559.41) scale(0.71 1)" font-size="3.9" fill="#222" font-weight="bold">EXPRIVIA</text>
<line x1="474.60" y1="561.16" x2="581.00" y2="561.16" stroke="#bdbdbd" stroke-width="0.45" />
<text transform="translate(476.40 565.58) scale(0.86 1)" font-size="3.9" fill="#222" font-weight="bold">AI_02</text>
<text transform="translate(498.60 565.58) scale(0.71 1)" font-size="3.9" fill="#222" font-weight="bold">MEDIAIRE</text>
<line x1="474.60" y1="567.33" x2="581.00" y2="567.33" stroke="#bdbdbd" stroke-width="0.45" />
<text transform="translate(476.40 571.75) scale(0.86 1)" font-size="3.9" fill="#222" font-weight="bold">AI_08</text>
<text transform="translate(498.60 571.75) scale(0.71 1)" font-size="3.9" fill="#222" font-weight="bold">DEEPTRACE TECHNOLOGIES</text>
<line x1="474.60" y1="573.50" x2="581.00" y2="573.50" stroke="#bdbdbd" stroke-width="0.45" />
<text transform="translate(476.40 577.92) scale(0.86 1)" font-size="3.9" fill="#222" font-weight="bold">AI_09</text>
<text transform="translate(498.60 577.92) scale(0.71 1)" font-size="3.9" fill="#222" font-weight="bold">QUANTIB</text>
<line x1="474.60" y1="579.67" x2="581.00" y2="579.67" stroke="#bdbdbd" stroke-width="0.45" />
<text transform="translate(594.60 466.90) scale(0.86 1)" font-size="3.9" fill="#222" font-weight="bold">AI_11</text>
<text transform="translate(617.40 466.90) scale(0.71 1)" font-size="3.9" fill="#222" font-weight="bold">REMEDI/EGZ - TELEDA SISTEMI</text>
<line x1="592.80" y1="468.65" x2="700.80" y2="468.65" stroke="#bdbdbd" stroke-width="0.45" />
<text transform="translate(594.60 473.07) scale(0.86 1)" font-size="3.9" fill="#222" font-weight="bold">AI_13</text>
<text transform="translate(617.40 473.07) scale(0.71 1)" font-size="3.9" fill="#222" font-weight="bold">SIEMENS</text>
<line x1="592.80" y1="474.82" x2="700.80" y2="474.82" stroke="#bdbdbd" stroke-width="0.45" />
<text transform="translate(594.60 479.24) scale(0.86 1)" font-size="3.9" fill="#222" font-weight="bold">AI_07</text>
<text transform="translate(617.40 479.24) scale(0.71 1)" font-size="3.9" fill="#222" font-weight="bold">TESSERCON</text>
<line x1="592.80" y1="480.99" x2="700.80" y2="480.99" stroke="#bdbdbd" stroke-width="0.45" />
<text x="594.40" y="491.95" font-size="5.7" fill="#1f7cc4" text-anchor="start" font-weight="bold" textLength="78.00" lengthAdjust="spacingAndGlyphs" >AREA RADIOLOGIA INTERVENTISTICA</text>
<text transform="translate(594.60 497.70) scale(0.86 1)" font-size="3.9" fill="#222" font-weight="bold">RI 01/02</text>
<text transform="translate(617.40 497.70) scale(0.71 1)" font-size="3.9" fill="#222" font-weight="bold">MEDTRONIC</text>
<line x1="592.80" y1="499.45" x2="700.80" y2="499.45" stroke="#bdbdbd" stroke-width="0.45" />
<text transform="translate(594.60 503.87) scale(0.86 1)" font-size="3.9" fill="#222" font-weight="bold">RI 03</text>
<text transform="translate(617.40 503.87) scale(0.71 1)" font-size="3.9" fill="#222" font-weight="bold">CANON</text>
<line x1="592.80" y1="505.62" x2="700.80" y2="505.62" stroke="#bdbdbd" stroke-width="0.45" />
<text transform="translate(594.60 510.04) scale(0.86 1)" font-size="3.9" fill="#222" font-weight="bold">RI 04</text>
<text transform="translate(617.40 510.04) scale(0.71 1)" font-size="3.9" fill="#222" font-weight="bold">CROSSMED</text>
<line x1="592.80" y1="511.79" x2="700.80" y2="511.79" stroke="#bdbdbd" stroke-width="0.45" />
<text transform="translate(594.60 516.21) scale(0.86 1)" font-size="3.9" fill="#222" font-weight="bold">RI 05</text>
<text transform="translate(617.40 516.21) scale(0.71 1)" font-size="3.9" fill="#222" font-weight="bold">ABMEDICA</text>
<line x1="592.80" y1="517.96" x2="700.80" y2="517.96" stroke="#bdbdbd" stroke-width="0.45" />
<text transform="translate(594.60 522.38) scale(0.86 1)" font-size="3.9" fill="#222" font-weight="bold">RI 06</text>
<text transform="translate(617.40 522.38) scale(0.71 1)" font-size="3.9" fill="#222" font-weight="bold">BIOTRONIK</text>
<line x1="592.80" y1="524.13" x2="700.80" y2="524.13" stroke="#bdbdbd" stroke-width="0.45" />
<text transform="translate(594.60 528.55) scale(0.86 1)" font-size="3.9" fill="#222" font-weight="bold">RI 07</text>
<text transform="translate(617.40 528.55) scale(0.71 1)" font-size="3.9" fill="#222" font-weight="bold">CARDIVA</text>
<line x1="592.80" y1="530.30" x2="700.80" y2="530.30" stroke="#bdbdbd" stroke-width="0.45" />
<text transform="translate(594.60 534.72) scale(0.86 1)" font-size="3.9" fill="#222" font-weight="bold">RI 08</text>
<text transform="translate(617.40 534.72) scale(0.71 1)" font-size="3.9" fill="#222" font-weight="bold">GE HEALTHCARE</text>
<line x1="592.80" y1="536.47" x2="700.80" y2="536.47" stroke="#bdbdbd" stroke-width="0.45" />
<text transform="translate(594.60 540.89) scale(0.86 1)" font-size="3.9" fill="#222" font-weight="bold">RI 09</text>
<text transform="translate(617.40 540.89) scale(0.71 1)" font-size="3.9" fill="#222" font-weight="bold">BARD</text>
<line x1="592.80" y1="542.64" x2="700.80" y2="542.64" stroke="#bdbdbd" stroke-width="0.45" />
<text transform="translate(594.60 547.06) scale(0.86 1)" font-size="3.9" fill="#222" font-weight="bold">RI 10</text>
<text transform="translate(617.40 547.06) scale(0.71 1)" font-size="3.9" fill="#222" font-weight="bold">MASMEC</text>
<line x1="592.80" y1="548.81" x2="700.80" y2="548.81" stroke="#bdbdbd" stroke-width="0.45" />
<text transform="translate(594.60 553.23) scale(0.86 1)" font-size="3.9" fill="#222" font-weight="bold">RI 11</text>
<text transform="translate(617.40 553.23) scale(0.71 1)" font-size="3.9" fill="#222" font-weight="bold">IBSA</text>
<line x1="592.80" y1="554.98" x2="700.80" y2="554.98" stroke="#bdbdbd" stroke-width="0.45" />
<text transform="translate(594.60 559.40) scale(0.86 1)" font-size="3.9" fill="#222" font-weight="bold">RI 12</text>
<text transform="translate(617.40 559.40) scale(0.71 1)" font-size="3.9" fill="#222" font-weight="bold">TERUMO</text>
<line x1="592.80" y1="561.15" x2="700.80" y2="561.15" stroke="#bdbdbd" stroke-width="0.45" />
<text transform="translate(594.60 565.57) scale(0.86 1)" font-size="3.9" fill="#222" font-weight="bold">RI 13/14</text>
<text transform="translate(617.40 565.57) scale(0.71 1)" font-size="3.9" fill="#222" font-weight="bold">LG</text>
<line x1="592.80" y1="567.32" x2="700.80" y2="567.32" stroke="#bdbdbd" stroke-width="0.45" />
<text transform="translate(594.60 571.74) scale(0.86 1)" font-size="3.9" fill="#222" font-weight="bold">RI 16/18</text>
<text transform="translate(617.40 571.74) scale(0.71 1)" font-size="3.9" fill="#222" font-weight="bold">PHS</text>
<line x1="592.80" y1="573.49" x2="700.80" y2="573.49" stroke="#bdbdbd" stroke-width="0.45" />
<text x="28" y="558.1" font-size="5.3" text-anchor="start"><tspan font-weight="bold" fill="#222" textLength="82" lengthAdjust="spacingAndGlyphs">Pianta Area Espositiva Forum – </tspan><tspan font-weight="bold" fill="#1f7cc4" textLength="83.5" lengthAdjust="spacingAndGlyphs" dx="0.4">50° Congresso Nazionale SIRM</tspan><tspan fill="#777" textLength="124.5" lengthAdjust="spacingAndGlyphs"> – Roma, 6–7–8–9 Ottobre 2022 – RCC La Nuvola</tspan></text>
<text x="28" y="565.4" font-size="5.3" text-anchor="start"><tspan font-weight="bold" fill="#222" textLength="68" lengthAdjust="spacingAndGlyphs">aggiornata al 10/06/2022</tspan><tspan fill="#666" font-style="italic" textLength="67.5" lengthAdjust="spacingAndGlyphs" dx="1.6">Last update June 10th, 2022</tspan></text>
<line x1="28.00" y1="568.20" x2="274.70" y2="568.20" stroke="#c4c4c4" stroke-width="0.5" />
</svg>
</body></html>
